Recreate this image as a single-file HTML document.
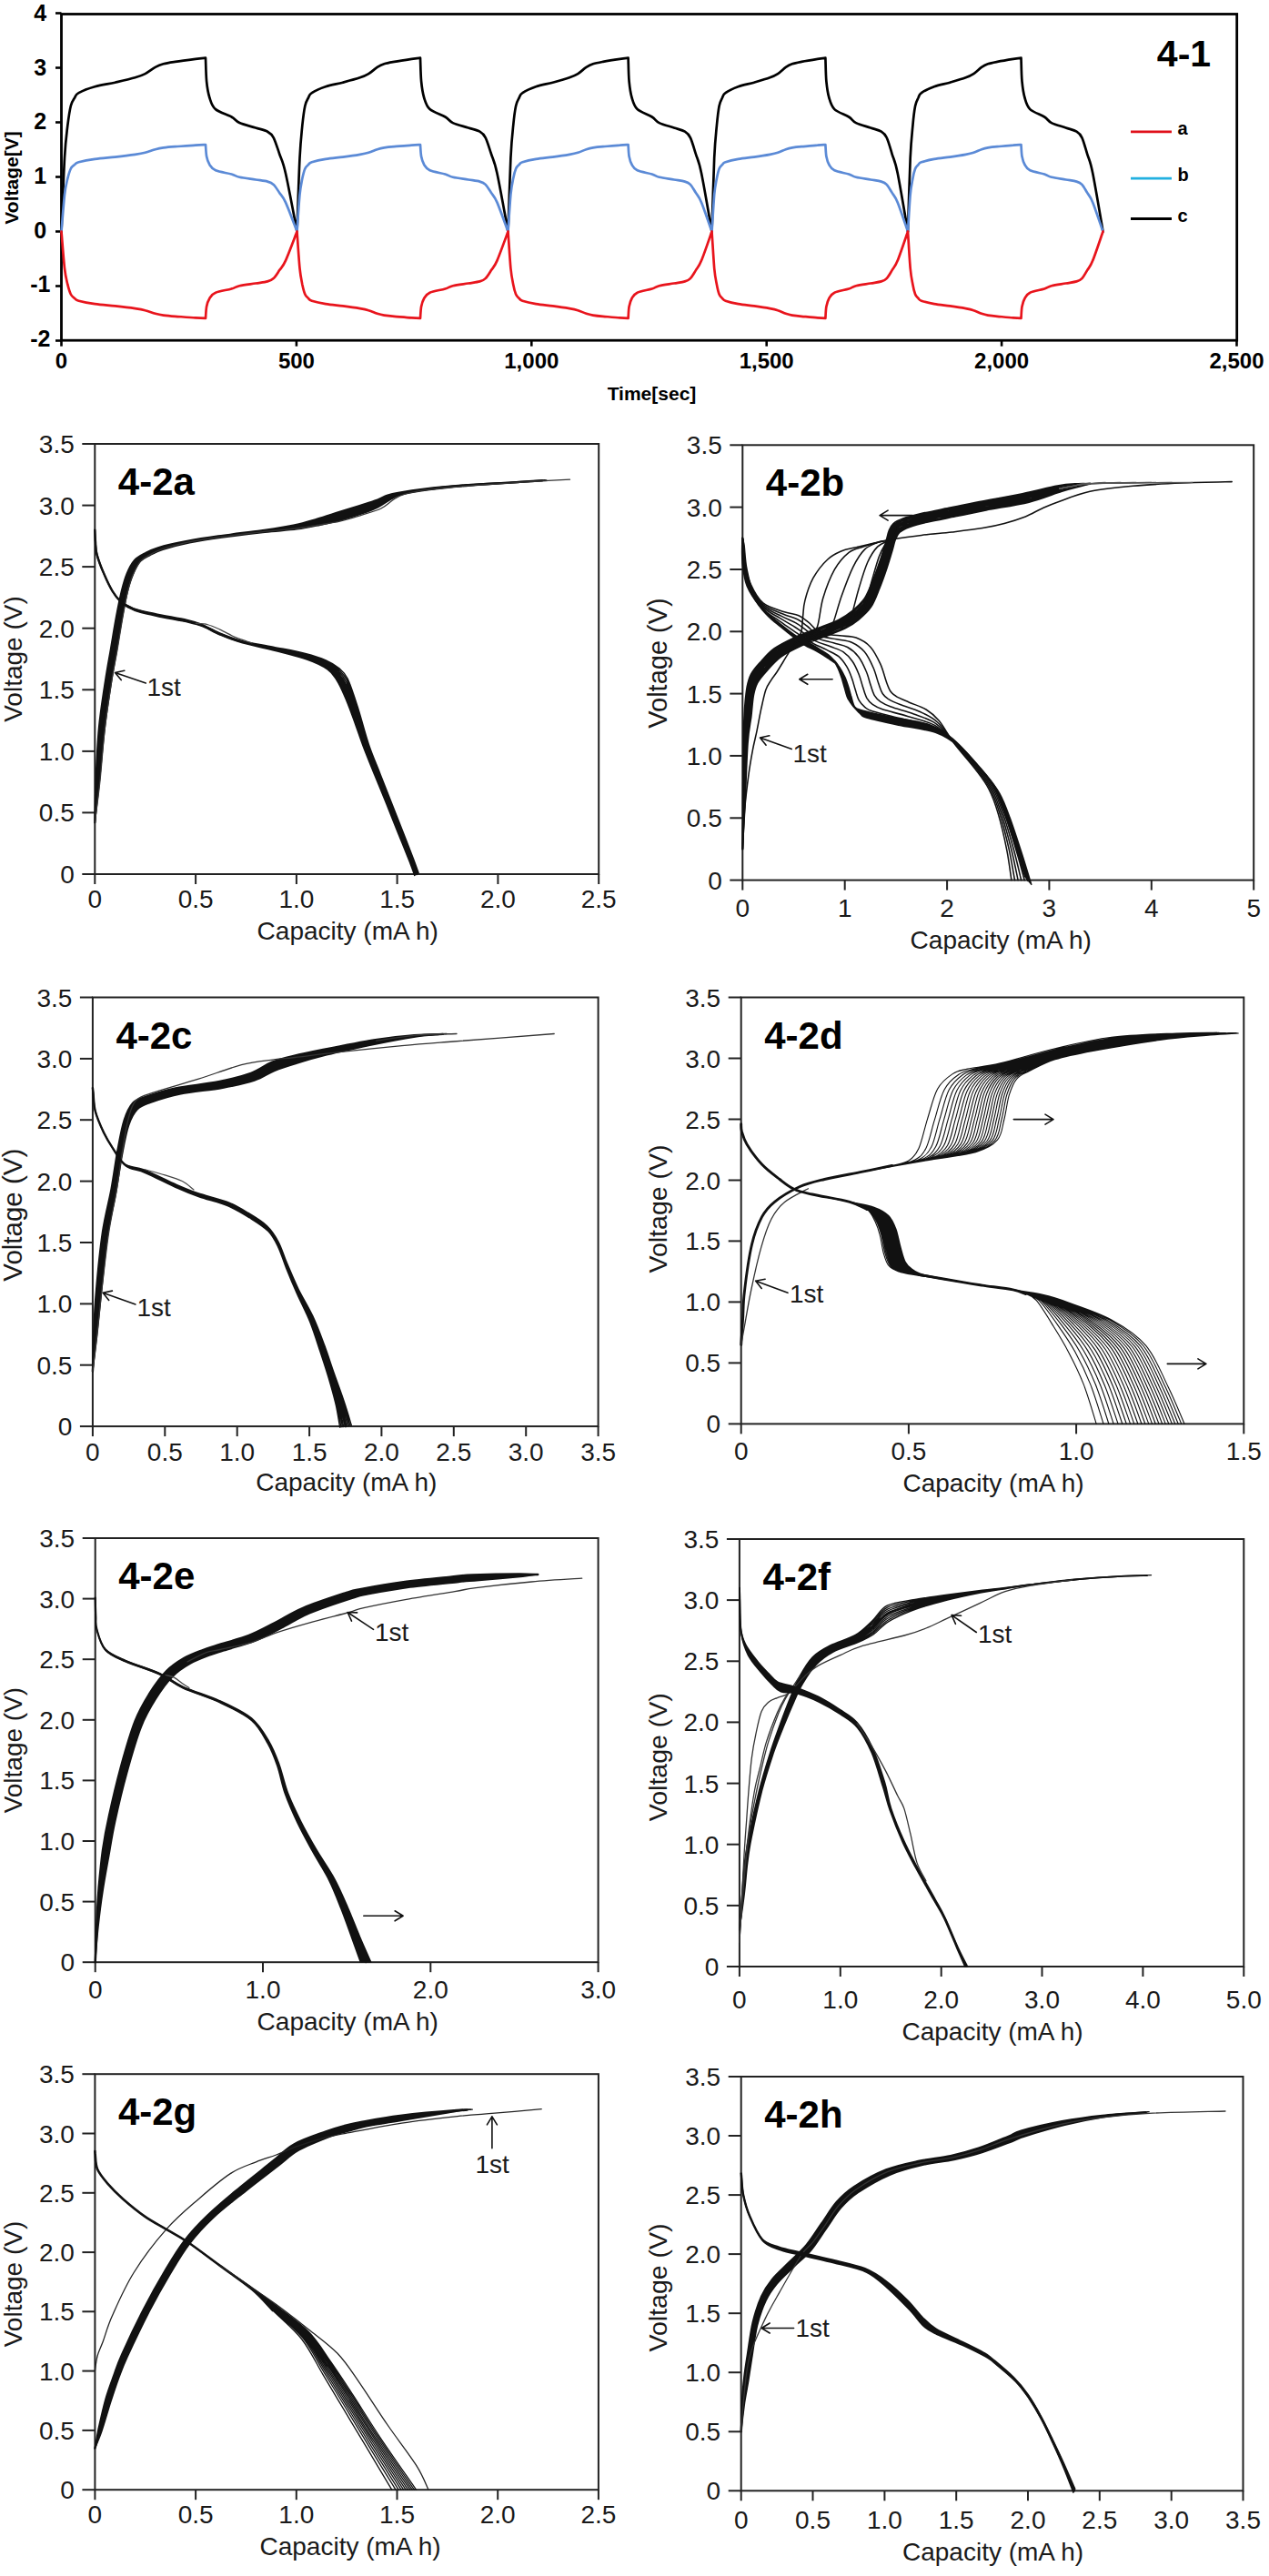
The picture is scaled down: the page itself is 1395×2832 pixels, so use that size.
<!DOCTYPE html>
<html><head><meta charset="utf-8"><style>html,body{margin:0;padding:0;background:#fff;}svg{display:block;}</style></head>
<body><svg width="1395" height="2832" viewBox="0 0 1395 2832">
<rect width="1395" height="2832" fill="#fff"/>
<rect x="67.5" y="15.5" width="1292.2" height="358.7" fill="none" stroke="#000" stroke-width="2.8"/>
<line x1="61.0" y1="374.5" x2="67.5" y2="374.5" stroke="#000" stroke-width="2.6"/>
<text x="44.3" y="380.8" text-anchor="middle" font-family="Liberation Sans, sans-serif" font-weight="bold" font-size="25" fill="#000">-2</text>
<line x1="61.0" y1="314.5" x2="67.5" y2="314.5" stroke="#000" stroke-width="2.6"/>
<text x="44.3" y="321.2" text-anchor="middle" font-family="Liberation Sans, sans-serif" font-weight="bold" font-size="25" fill="#000">-1</text>
<line x1="61.0" y1="254.5" x2="67.5" y2="254.5" stroke="#000" stroke-width="2.6"/>
<text x="44.3" y="261.6" text-anchor="middle" font-family="Liberation Sans, sans-serif" font-weight="bold" font-size="25" fill="#000">0</text>
<line x1="61.0" y1="194.5" x2="67.5" y2="194.5" stroke="#000" stroke-width="2.6"/>
<text x="44.3" y="202.0" text-anchor="middle" font-family="Liberation Sans, sans-serif" font-weight="bold" font-size="25" fill="#000">1</text>
<line x1="61.0" y1="134.5" x2="67.5" y2="134.5" stroke="#000" stroke-width="2.6"/>
<text x="44.3" y="142.4" text-anchor="middle" font-family="Liberation Sans, sans-serif" font-weight="bold" font-size="25" fill="#000">2</text>
<line x1="61.0" y1="74.5" x2="67.5" y2="74.5" stroke="#000" stroke-width="2.6"/>
<text x="44.3" y="82.8" text-anchor="middle" font-family="Liberation Sans, sans-serif" font-weight="bold" font-size="25" fill="#000">3</text>
<line x1="61.0" y1="14.5" x2="67.5" y2="14.5" stroke="#000" stroke-width="2.6"/>
<text x="44.3" y="23.2" text-anchor="middle" font-family="Liberation Sans, sans-serif" font-weight="bold" font-size="25" fill="#000">4</text>
<line x1="67.5" y1="374.2" x2="67.5" y2="380.7" stroke="#000" stroke-width="2.6"/>
<text x="67.5" y="405.2" text-anchor="middle" font-family="Liberation Sans, sans-serif" font-weight="bold" font-size="24" fill="#000">0</text>
<line x1="325.9" y1="374.2" x2="325.9" y2="380.7" stroke="#000" stroke-width="2.6"/>
<text x="325.9" y="405.2" text-anchor="middle" font-family="Liberation Sans, sans-serif" font-weight="bold" font-size="24" fill="#000">500</text>
<line x1="584.3" y1="374.2" x2="584.3" y2="380.7" stroke="#000" stroke-width="2.6"/>
<text x="584.3" y="405.2" text-anchor="middle" font-family="Liberation Sans, sans-serif" font-weight="bold" font-size="24" fill="#000">1,000</text>
<line x1="842.7" y1="374.2" x2="842.7" y2="380.7" stroke="#000" stroke-width="2.6"/>
<text x="842.7" y="405.2" text-anchor="middle" font-family="Liberation Sans, sans-serif" font-weight="bold" font-size="24" fill="#000">1,500</text>
<line x1="1101.1" y1="374.2" x2="1101.1" y2="380.7" stroke="#000" stroke-width="2.6"/>
<text x="1101.1" y="405.2" text-anchor="middle" font-family="Liberation Sans, sans-serif" font-weight="bold" font-size="24" fill="#000">2,000</text>
<line x1="1359.5" y1="374.2" x2="1359.5" y2="380.7" stroke="#000" stroke-width="2.6"/>
<text x="1359.5" y="405.2" text-anchor="middle" font-family="Liberation Sans, sans-serif" font-weight="bold" font-size="24" fill="#000">2,500</text>
<text x="716.5" y="440" text-anchor="middle" font-family="Liberation Sans, sans-serif" font-weight="bold" font-size="21" fill="#000">Time[sec]</text>
<text transform="translate(19.5,195.5) rotate(-90)" text-anchor="middle" font-family="Liberation Sans, sans-serif" font-weight="bold" font-size="21" fill="#000">Voltage[V]</text>
<text x="1301.5" y="72.8" text-anchor="middle" font-family="Liberation Sans, sans-serif" font-weight="bold" font-size="41" fill="#000">4-1</text>
<line x1="1243" y1="144.8" x2="1288" y2="144.8" stroke="#e0101a" stroke-width="2.8"/>
<text x="1294.5" y="147.8" font-family="Liberation Sans, sans-serif" font-weight="bold" font-size="20" fill="#000">a</text>
<line x1="1243" y1="196.2" x2="1288" y2="196.2" stroke="#22b0e0" stroke-width="2.8"/>
<text x="1294.5" y="199.2" font-family="Liberation Sans, sans-serif" font-weight="bold" font-size="20" fill="#000">b</text>
<line x1="1243" y1="240.5" x2="1288" y2="240.5" stroke="#000" stroke-width="2.8"/>
<text x="1294.5" y="243.5" font-family="Liberation Sans, sans-serif" font-weight="bold" font-size="20" fill="#000">c</text>
<path d="M67.5,254.5C68.1,241.0 69.9,192.9 71.0,173.5C72.1,154.1 73.2,147.6 74.3,138.1C75.5,128.6 76.5,121.6 77.8,116.5C79.1,111.4 80.6,109.9 82.1,107.5C83.5,105.1 82.8,104.1 86.5,102.1C90.2,100.0 97.6,97.1 104.3,95.2C110.9,93.3 119.1,92.3 126.5,90.7C133.8,89.0 143.0,86.9 148.5,85.3C154.0,83.7 155.9,83.0 159.6,81.1C163.3,79.2 167.4,75.7 170.7,73.9C174.0,72.1 175.9,71.3 179.6,70.3C183.2,69.3 186.8,68.8 192.7,67.9C198.6,67.0 209.4,65.6 214.9,64.9C220.5,64.2 224.2,63.9 226.0,63.7 M226.0,63.7C226.2,68.0 226.4,82.2 227.1,89.5C227.8,96.8 228.8,102.4 230.4,107.5C232.1,112.6 232.9,116.6 237.0,120.1C241.0,123.6 250.2,126.0 254.5,128.5C258.9,131.0 258.9,133.1 263.3,135.1C267.7,137.1 275.8,138.9 281.0,140.5C286.1,142.1 290.9,142.9 294.1,144.7C297.4,146.5 298.5,147.2 300.7,151.3C302.8,155.4 305.0,162.8 307.2,169.3C309.4,175.8 310.7,176.1 313.9,190.3C317.2,204.5 324.4,243.8 326.5,254.5 M326.5,254.5C327.0,241.0 328.5,192.9 329.5,173.5C330.5,154.1 331.4,147.6 332.3,138.1C333.3,128.6 334.2,121.6 335.3,116.5C336.4,111.4 337.7,109.9 339.0,107.5C340.2,105.1 339.6,104.1 342.8,102.1C345.9,100.0 352.2,97.1 357.9,95.2C363.6,93.3 370.6,92.3 376.9,90.7C383.2,89.0 391.0,86.9 395.7,85.3C400.5,83.7 402.1,83.0 405.2,81.1C408.4,79.2 411.9,75.7 414.7,73.9C417.6,72.1 419.2,71.3 422.3,70.3C425.4,69.3 428.5,68.8 433.5,67.9C438.6,67.0 447.8,65.6 452.5,64.9C457.3,64.2 460.4,63.9 462.0,63.7 M462.0,63.7C462.2,68.0 462.4,82.2 463.1,89.5C463.8,96.8 464.7,102.4 466.2,107.5C467.8,112.6 468.7,116.6 472.5,120.1C476.4,123.6 485.2,126.0 489.4,128.5C493.6,131.0 493.6,133.1 497.8,135.1C502.0,137.1 509.8,138.9 514.8,140.5C519.7,142.1 524.3,142.9 527.4,144.7C530.6,146.5 531.6,147.2 533.7,151.3C535.8,155.4 537.8,162.8 540.0,169.3C542.1,175.8 543.3,176.1 546.4,190.3C549.5,204.5 556.5,243.8 558.5,254.5 M558.5,254.5C559.0,241.0 560.5,192.9 561.4,173.5C562.4,154.1 563.2,147.6 564.2,138.1C565.1,128.6 566.0,121.6 567.1,116.5C568.2,111.4 569.4,109.9 570.7,107.5C571.9,105.1 571.3,104.1 574.4,102.1C577.4,100.0 583.6,97.1 589.1,95.2C594.7,93.3 601.5,92.3 607.6,90.7C613.8,89.0 621.4,86.9 626.0,85.3C630.6,83.7 632.2,83.0 635.3,81.1C638.3,79.2 641.7,75.7 644.5,73.9C647.3,72.1 648.8,71.3 651.9,70.3C655.0,69.3 657.9,68.8 662.9,67.9C667.8,67.0 676.7,65.6 681.4,64.9C686.0,64.2 689.1,63.9 690.6,63.7 M690.6,63.7C690.8,68.0 690.9,82.2 691.6,89.5C692.3,96.8 693.1,102.4 694.6,107.5C696.1,112.6 696.9,116.6 700.6,120.1C704.3,123.6 712.7,126.0 716.7,128.5C720.7,131.0 720.7,133.1 724.7,135.1C728.7,137.1 736.2,138.9 740.9,140.5C745.6,142.1 749.9,142.9 752.9,144.7C755.9,146.5 756.9,147.2 758.9,151.3C760.9,155.4 762.8,162.8 764.9,169.3C766.9,175.8 768.1,176.1 771.0,190.3C774.0,204.5 780.6,243.8 782.5,254.5 M782.5,254.5C783.0,241.0 784.4,192.9 785.2,173.5C786.1,154.1 787.0,147.6 787.9,138.1C788.8,128.6 789.6,121.6 790.6,116.5C791.6,111.4 792.8,109.9 794.0,107.5C795.1,105.1 794.6,104.1 797.5,102.1C800.4,100.0 806.2,97.1 811.5,95.2C816.7,93.3 823.2,92.3 829.0,90.7C834.8,89.0 842.0,86.9 846.3,85.3C850.7,83.7 852.2,83.0 855.1,81.1C858.0,79.2 861.2,75.7 863.8,73.9C866.4,72.1 867.9,71.3 870.8,70.3C873.7,69.3 876.5,68.8 881.2,67.9C885.8,67.0 894.3,65.6 898.7,64.9C903.0,64.2 905.9,63.9 907.4,63.7 M907.4,63.7C907.6,68.0 907.7,82.2 908.4,89.5C909.1,96.8 909.9,102.4 911.4,107.5C912.9,112.6 913.7,116.6 917.3,120.1C920.9,123.6 929.2,126.0 933.1,128.5C937.1,131.0 937.0,133.1 941.0,135.1C945.0,137.1 952.3,138.9 957.0,140.5C961.6,142.1 965.9,142.9 968.8,144.7C971.8,146.5 972.8,147.2 974.7,151.3C976.7,155.4 978.6,162.8 980.6,169.3C982.6,175.8 983.8,176.1 986.7,190.3C989.6,204.5 996.1,243.8 998.0,254.5 M998.0,254.5C998.5,241.0 999.8,192.9 1000.7,173.5C1001.6,154.1 1002.5,147.6 1003.4,138.1C1004.2,128.6 1005.1,121.6 1006.1,116.5C1007.1,111.4 1008.3,109.9 1009.5,107.5C1010.6,105.1 1010.0,104.1 1012.9,102.1C1015.8,100.0 1021.7,97.1 1026.9,95.2C1032.1,93.3 1038.5,92.3 1044.3,90.7C1050.1,89.0 1057.3,86.9 1061.6,85.3C1066.0,83.7 1067.4,83.0 1070.3,81.1C1073.2,79.2 1076.4,75.7 1079.0,73.9C1081.7,72.1 1083.1,71.3 1086.0,70.3C1088.9,69.3 1091.7,68.8 1096.4,67.9C1101.0,67.0 1109.4,65.6 1113.8,64.9C1118.1,64.2 1121.0,63.9 1122.5,63.7 M1122.5,63.7C1122.7,68.0 1122.8,82.2 1123.5,89.5C1124.2,96.8 1125.0,102.4 1126.5,107.5C1127.9,112.6 1128.7,116.6 1132.3,120.1C1135.9,123.6 1144.1,126.0 1148.1,128.5C1152.0,131.0 1151.9,133.1 1155.9,135.1C1159.8,137.1 1167.1,138.9 1171.7,140.5C1176.3,142.1 1180.6,142.9 1183.5,144.7C1186.5,146.5 1187.4,147.2 1189.4,151.3C1191.3,155.4 1193.2,162.8 1195.2,169.3C1197.2,175.8 1198.4,176.1 1201.2,190.3C1204.1,204.5 1210.6,243.8 1212.5,254.5" fill="none" stroke="#000" stroke-width="2.7" stroke-linejoin="round" stroke-linecap="round"/>
<path d="M67.5,254.5C68.1,247.8 69.9,223.7 71.0,214.0C72.1,204.3 73.2,201.1 74.3,196.3C75.5,191.6 76.5,188.1 77.8,185.5C79.1,182.9 80.6,182.2 82.1,181.0C83.5,179.8 82.8,179.3 86.5,178.3C90.2,177.3 97.6,175.8 104.3,174.9C110.9,173.9 119.1,173.4 126.5,172.6C133.8,171.8 143.0,170.7 148.5,169.9C154.0,169.1 155.9,168.8 159.6,167.8C163.3,166.9 167.4,165.1 170.7,164.2C174.0,163.3 175.9,162.9 179.6,162.4C183.2,161.9 186.8,161.6 192.7,161.2C198.6,160.8 209.4,160.0 214.9,159.7C220.5,159.3 224.2,159.2 226.0,159.1 M226.0,159.1C226.2,161.2 226.4,168.3 227.1,172.0C227.8,175.7 228.8,178.4 230.4,181.0C232.1,183.6 232.9,185.6 237.0,187.3C241.0,189.1 250.2,190.2 254.5,191.5C258.9,192.8 258.9,193.8 263.3,194.8C267.7,195.8 275.8,196.7 281.0,197.5C286.1,198.3 290.9,198.7 294.1,199.6C297.4,200.5 298.5,200.8 300.7,202.9C302.8,205.0 305.0,208.7 307.2,211.9C309.4,215.2 310.7,215.3 313.9,222.4C317.2,229.5 324.4,249.2 326.5,254.5 M326.5,254.5C327.0,247.8 328.5,223.7 329.5,214.0C330.5,204.3 331.4,201.1 332.3,196.3C333.3,191.6 334.2,188.1 335.3,185.5C336.4,182.9 337.7,182.2 339.0,181.0C340.2,179.8 339.6,179.3 342.8,178.3C345.9,177.3 352.2,175.8 357.9,174.9C363.6,173.9 370.6,173.4 376.9,172.6C383.2,171.8 391.0,170.7 395.7,169.9C400.5,169.1 402.1,168.8 405.2,167.8C408.4,166.9 411.9,165.1 414.7,164.2C417.6,163.3 419.2,162.9 422.3,162.4C425.4,161.9 428.5,161.6 433.5,161.2C438.6,160.8 447.8,160.0 452.5,159.7C457.3,159.3 460.4,159.2 462.0,159.1 M462.0,159.1C462.2,161.2 462.4,168.3 463.1,172.0C463.8,175.7 464.7,178.4 466.2,181.0C467.8,183.6 468.7,185.6 472.5,187.3C476.4,189.1 485.2,190.2 489.4,191.5C493.6,192.8 493.6,193.8 497.8,194.8C502.0,195.8 509.8,196.7 514.8,197.5C519.7,198.3 524.3,198.7 527.4,199.6C530.6,200.5 531.6,200.8 533.7,202.9C535.8,205.0 537.8,208.7 540.0,211.9C542.1,215.2 543.3,215.3 546.4,222.4C549.5,229.5 556.5,249.2 558.5,254.5 M558.5,254.5C559.0,247.8 560.5,223.7 561.4,214.0C562.4,204.3 563.2,201.1 564.2,196.3C565.1,191.6 566.0,188.1 567.1,185.5C568.2,182.9 569.4,182.2 570.7,181.0C571.9,179.8 571.3,179.3 574.4,178.3C577.4,177.3 583.6,175.8 589.1,174.9C594.7,173.9 601.5,173.4 607.6,172.6C613.8,171.8 621.4,170.7 626.0,169.9C630.6,169.1 632.2,168.8 635.3,167.8C638.3,166.9 641.7,165.1 644.5,164.2C647.3,163.3 648.8,162.9 651.9,162.4C655.0,161.9 657.9,161.6 662.9,161.2C667.8,160.8 676.7,160.0 681.4,159.7C686.0,159.3 689.1,159.2 690.6,159.1 M690.6,159.1C690.8,161.2 690.9,168.3 691.6,172.0C692.3,175.7 693.1,178.4 694.6,181.0C696.1,183.6 696.9,185.6 700.6,187.3C704.3,189.1 712.7,190.2 716.7,191.5C720.7,192.8 720.7,193.8 724.7,194.8C728.7,195.8 736.2,196.7 740.9,197.5C745.6,198.3 749.9,198.7 752.9,199.6C755.9,200.5 756.9,200.8 758.9,202.9C760.9,205.0 762.8,208.7 764.9,211.9C766.9,215.2 768.1,215.3 771.0,222.4C774.0,229.5 780.6,249.2 782.5,254.5 M782.5,254.5C783.0,247.8 784.4,223.7 785.2,214.0C786.1,204.3 787.0,201.1 787.9,196.3C788.8,191.6 789.6,188.1 790.6,185.5C791.6,182.9 792.8,182.2 794.0,181.0C795.1,179.8 794.6,179.3 797.5,178.3C800.4,177.3 806.2,175.8 811.5,174.9C816.7,173.9 823.2,173.4 829.0,172.6C834.8,171.8 842.0,170.7 846.3,169.9C850.7,169.1 852.2,168.8 855.1,167.8C858.0,166.9 861.2,165.1 863.8,164.2C866.4,163.3 867.9,162.9 870.8,162.4C873.7,161.9 876.5,161.6 881.2,161.2C885.8,160.8 894.3,160.0 898.7,159.7C903.0,159.3 905.9,159.2 907.4,159.1 M907.4,159.1C907.6,161.2 907.7,168.3 908.4,172.0C909.1,175.7 909.9,178.4 911.4,181.0C912.9,183.6 913.7,185.6 917.3,187.3C920.9,189.1 929.2,190.2 933.1,191.5C937.1,192.8 937.0,193.8 941.0,194.8C945.0,195.8 952.3,196.7 957.0,197.5C961.6,198.3 965.9,198.7 968.8,199.6C971.8,200.5 972.8,200.8 974.7,202.9C976.7,205.0 978.6,208.7 980.6,211.9C982.6,215.2 983.8,215.3 986.7,222.4C989.6,229.5 996.1,249.2 998.0,254.5 M998.0,254.5C998.5,247.8 999.8,223.7 1000.7,214.0C1001.6,204.3 1002.5,201.1 1003.4,196.3C1004.2,191.6 1005.1,188.1 1006.1,185.5C1007.1,182.9 1008.3,182.2 1009.5,181.0C1010.6,179.8 1010.0,179.3 1012.9,178.3C1015.8,177.3 1021.7,175.8 1026.9,174.9C1032.1,173.9 1038.5,173.4 1044.3,172.6C1050.1,171.8 1057.3,170.7 1061.6,169.9C1066.0,169.1 1067.4,168.8 1070.3,167.8C1073.2,166.9 1076.4,165.1 1079.0,164.2C1081.7,163.3 1083.1,162.9 1086.0,162.4C1088.9,161.9 1091.7,161.6 1096.4,161.2C1101.0,160.8 1109.4,160.0 1113.8,159.7C1118.1,159.3 1121.0,159.2 1122.5,159.1 M1122.5,159.1C1122.7,161.2 1122.8,168.3 1123.5,172.0C1124.2,175.7 1125.0,178.4 1126.5,181.0C1127.9,183.6 1128.7,185.6 1132.3,187.3C1135.9,189.1 1144.1,190.2 1148.1,191.5C1152.0,192.8 1151.9,193.8 1155.9,194.8C1159.8,195.8 1167.1,196.7 1171.7,197.5C1176.3,198.3 1180.6,198.7 1183.5,199.6C1186.5,200.5 1187.4,200.8 1189.4,202.9C1191.3,205.0 1193.2,208.7 1195.2,211.9C1197.2,215.2 1198.4,215.3 1201.2,222.4C1204.1,229.5 1210.6,249.2 1212.5,254.5" fill="none" stroke="#5b8ad6" stroke-width="2.7" stroke-linejoin="round" stroke-linecap="round"/>
<path d="M67.5,254.5C68.1,261.2 69.9,285.3 71.0,295.0C72.1,304.7 73.2,307.9 74.3,312.7C75.5,317.4 76.5,320.9 77.8,323.5C79.1,326.1 80.6,326.8 82.1,328.0C83.5,329.2 82.8,329.7 86.5,330.7C90.2,331.7 97.6,333.2 104.3,334.1C110.9,335.1 119.1,335.6 126.5,336.4C133.8,337.2 143.0,338.3 148.5,339.1C154.0,339.9 155.9,340.2 159.6,341.2C163.3,342.1 167.4,343.9 170.7,344.8C174.0,345.7 175.9,346.1 179.6,346.6C183.2,347.1 186.8,347.4 192.7,347.8C198.6,348.2 209.4,349.0 214.9,349.3C220.5,349.6 224.2,349.8 226.0,349.9 M226.0,349.9C226.2,347.8 226.4,340.6 227.1,337.0C227.8,333.4 228.8,330.6 230.4,328.0C232.1,325.4 232.9,323.4 237.0,321.7C241.0,319.9 250.2,318.8 254.5,317.5C258.9,316.2 258.9,315.2 263.3,314.2C267.7,313.2 275.8,312.3 281.0,311.5C286.1,310.7 290.9,310.3 294.1,309.4C297.4,308.5 298.5,308.2 300.7,306.1C302.8,304.1 305.0,300.4 307.2,297.1C309.4,293.9 310.7,293.7 313.9,286.6C317.2,279.5 324.4,259.9 326.5,254.5 M326.5,254.5C327.0,261.2 328.5,285.3 329.5,295.0C330.5,304.7 331.4,307.9 332.3,312.7C333.3,317.4 334.2,320.9 335.3,323.5C336.4,326.1 337.7,326.8 339.0,328.0C340.2,329.2 339.6,329.7 342.8,330.7C345.9,331.7 352.2,333.2 357.9,334.1C363.6,335.1 370.6,335.6 376.9,336.4C383.2,337.2 391.0,338.3 395.7,339.1C400.5,339.9 402.1,340.2 405.2,341.2C408.4,342.1 411.9,343.9 414.7,344.8C417.6,345.7 419.2,346.1 422.3,346.6C425.4,347.1 428.5,347.4 433.5,347.8C438.6,348.2 447.8,349.0 452.5,349.3C457.3,349.6 460.4,349.8 462.0,349.9 M462.0,349.9C462.2,347.8 462.4,340.6 463.1,337.0C463.8,333.4 464.7,330.6 466.2,328.0C467.8,325.4 468.7,323.4 472.5,321.7C476.4,319.9 485.2,318.8 489.4,317.5C493.6,316.2 493.6,315.2 497.8,314.2C502.0,313.2 509.8,312.3 514.8,311.5C519.7,310.7 524.3,310.3 527.4,309.4C530.6,308.5 531.6,308.2 533.7,306.1C535.8,304.1 537.8,300.4 540.0,297.1C542.1,293.9 543.3,293.7 546.4,286.6C549.5,279.5 556.5,259.9 558.5,254.5 M558.5,254.5C559.0,261.2 560.5,285.3 561.4,295.0C562.4,304.7 563.2,307.9 564.2,312.7C565.1,317.4 566.0,320.9 567.1,323.5C568.2,326.1 569.4,326.8 570.7,328.0C571.9,329.2 571.3,329.7 574.4,330.7C577.4,331.7 583.6,333.2 589.1,334.1C594.7,335.1 601.5,335.6 607.6,336.4C613.8,337.2 621.4,338.3 626.0,339.1C630.6,339.9 632.2,340.2 635.3,341.2C638.3,342.1 641.7,343.9 644.5,344.8C647.3,345.7 648.8,346.1 651.9,346.6C655.0,347.1 657.9,347.4 662.9,347.8C667.8,348.2 676.7,349.0 681.4,349.3C686.0,349.6 689.1,349.8 690.6,349.9 M690.6,349.9C690.8,347.8 690.9,340.6 691.6,337.0C692.3,333.4 693.1,330.6 694.6,328.0C696.1,325.4 696.9,323.4 700.6,321.7C704.3,319.9 712.7,318.8 716.7,317.5C720.7,316.2 720.7,315.2 724.7,314.2C728.7,313.2 736.2,312.3 740.9,311.5C745.6,310.7 749.9,310.3 752.9,309.4C755.9,308.5 756.9,308.2 758.9,306.1C760.9,304.1 762.8,300.4 764.9,297.1C766.9,293.9 768.1,293.7 771.0,286.6C774.0,279.5 780.6,259.9 782.5,254.5 M782.5,254.5C783.0,261.2 784.4,285.3 785.2,295.0C786.1,304.7 787.0,307.9 787.9,312.7C788.8,317.4 789.6,320.9 790.6,323.5C791.6,326.1 792.8,326.8 794.0,328.0C795.1,329.2 794.6,329.7 797.5,330.7C800.4,331.7 806.2,333.2 811.5,334.1C816.7,335.1 823.2,335.6 829.0,336.4C834.8,337.2 842.0,338.3 846.3,339.1C850.7,339.9 852.2,340.2 855.1,341.2C858.0,342.1 861.2,343.9 863.8,344.8C866.4,345.7 867.9,346.1 870.8,346.6C873.7,347.1 876.5,347.4 881.2,347.8C885.8,348.2 894.3,349.0 898.7,349.3C903.0,349.6 905.9,349.8 907.4,349.9 M907.4,349.9C907.6,347.8 907.7,340.6 908.4,337.0C909.1,333.4 909.9,330.6 911.4,328.0C912.9,325.4 913.7,323.4 917.3,321.7C920.9,319.9 929.2,318.8 933.1,317.5C937.1,316.2 937.0,315.2 941.0,314.2C945.0,313.2 952.3,312.3 957.0,311.5C961.6,310.7 965.9,310.3 968.8,309.4C971.8,308.5 972.8,308.2 974.7,306.1C976.7,304.1 978.6,300.4 980.6,297.1C982.6,293.9 983.8,293.7 986.7,286.6C989.6,279.5 996.1,259.9 998.0,254.5 M998.0,254.5C998.5,261.2 999.8,285.3 1000.7,295.0C1001.6,304.7 1002.5,307.9 1003.4,312.7C1004.2,317.4 1005.1,320.9 1006.1,323.5C1007.1,326.1 1008.3,326.8 1009.5,328.0C1010.6,329.2 1010.0,329.7 1012.9,330.7C1015.8,331.7 1021.7,333.2 1026.9,334.1C1032.1,335.1 1038.5,335.6 1044.3,336.4C1050.1,337.2 1057.3,338.3 1061.6,339.1C1066.0,339.9 1067.4,340.2 1070.3,341.2C1073.2,342.1 1076.4,343.9 1079.0,344.8C1081.7,345.7 1083.1,346.1 1086.0,346.6C1088.9,347.1 1091.7,347.4 1096.4,347.8C1101.0,348.2 1109.4,349.0 1113.8,349.3C1118.1,349.6 1121.0,349.8 1122.5,349.9 M1122.5,349.9C1122.7,347.8 1122.8,340.6 1123.5,337.0C1124.2,333.4 1125.0,330.6 1126.5,328.0C1127.9,325.4 1128.7,323.4 1132.3,321.7C1135.9,319.9 1144.1,318.8 1148.1,317.5C1152.0,316.2 1151.9,315.2 1155.9,314.2C1159.8,313.2 1167.1,312.3 1171.7,311.5C1176.3,310.7 1180.6,310.3 1183.5,309.4C1186.5,308.5 1187.4,308.2 1189.4,306.1C1191.3,304.1 1193.2,300.4 1195.2,297.1C1197.2,293.9 1198.4,293.7 1201.2,286.6C1204.1,279.5 1210.6,259.9 1212.5,254.5" fill="none" stroke="#e8141c" stroke-width="2.7" stroke-linejoin="round" stroke-linecap="round"/>
<rect x="104.3" y="488.0" width="553.9" height="473.0" fill="none" stroke="#222" stroke-width="2"/>
<line x1="90.3" y1="961.0" x2="104.3" y2="961.0" stroke="#222" stroke-width="2"/>
<text x="81.8" y="971.0" text-anchor="end" font-family="Liberation Sans, sans-serif" font-size="28" fill="#1a1a1a">0</text>
<line x1="90.3" y1="893.4" x2="104.3" y2="893.4" stroke="#222" stroke-width="2"/>
<text x="81.8" y="903.4" text-anchor="end" font-family="Liberation Sans, sans-serif" font-size="28" fill="#1a1a1a">0.5</text>
<line x1="90.3" y1="825.9" x2="104.3" y2="825.9" stroke="#222" stroke-width="2"/>
<text x="81.8" y="835.9" text-anchor="end" font-family="Liberation Sans, sans-serif" font-size="28" fill="#1a1a1a">1.0</text>
<line x1="90.3" y1="758.3" x2="104.3" y2="758.3" stroke="#222" stroke-width="2"/>
<text x="81.8" y="768.3" text-anchor="end" font-family="Liberation Sans, sans-serif" font-size="28" fill="#1a1a1a">1.5</text>
<line x1="90.3" y1="690.7" x2="104.3" y2="690.7" stroke="#222" stroke-width="2"/>
<text x="81.8" y="700.7" text-anchor="end" font-family="Liberation Sans, sans-serif" font-size="28" fill="#1a1a1a">2.0</text>
<line x1="90.3" y1="623.1" x2="104.3" y2="623.1" stroke="#222" stroke-width="2"/>
<text x="81.8" y="633.1" text-anchor="end" font-family="Liberation Sans, sans-serif" font-size="28" fill="#1a1a1a">2.5</text>
<line x1="90.3" y1="555.6" x2="104.3" y2="555.6" stroke="#222" stroke-width="2"/>
<text x="81.8" y="565.6" text-anchor="end" font-family="Liberation Sans, sans-serif" font-size="28" fill="#1a1a1a">3.0</text>
<line x1="90.3" y1="488.0" x2="104.3" y2="488.0" stroke="#222" stroke-width="2"/>
<text x="81.8" y="498.0" text-anchor="end" font-family="Liberation Sans, sans-serif" font-size="28" fill="#1a1a1a">3.5</text>
<line x1="104.3" y1="961.0" x2="104.3" y2="972.0" stroke="#222" stroke-width="2"/>
<text x="104.3" y="998.0" text-anchor="middle" font-family="Liberation Sans, sans-serif" font-size="28" fill="#1a1a1a">0</text>
<line x1="215.1" y1="961.0" x2="215.1" y2="972.0" stroke="#222" stroke-width="2"/>
<text x="215.1" y="998.0" text-anchor="middle" font-family="Liberation Sans, sans-serif" font-size="28" fill="#1a1a1a">0.5</text>
<line x1="325.9" y1="961.0" x2="325.9" y2="972.0" stroke="#222" stroke-width="2"/>
<text x="325.9" y="998.0" text-anchor="middle" font-family="Liberation Sans, sans-serif" font-size="28" fill="#1a1a1a">1.0</text>
<line x1="436.6" y1="961.0" x2="436.6" y2="972.0" stroke="#222" stroke-width="2"/>
<text x="436.6" y="998.0" text-anchor="middle" font-family="Liberation Sans, sans-serif" font-size="28" fill="#1a1a1a">1.5</text>
<line x1="547.4" y1="961.0" x2="547.4" y2="972.0" stroke="#222" stroke-width="2"/>
<text x="547.4" y="998.0" text-anchor="middle" font-family="Liberation Sans, sans-serif" font-size="28" fill="#1a1a1a">2.0</text>
<line x1="658.2" y1="961.0" x2="658.2" y2="972.0" stroke="#222" stroke-width="2"/>
<text x="658.2" y="998.0" text-anchor="middle" font-family="Liberation Sans, sans-serif" font-size="28" fill="#1a1a1a">2.5</text>
<text x="382.2" y="1032.5" text-anchor="middle" font-family="Liberation Sans, sans-serif" font-size="28" fill="#1a1a1a">Capacity (mA h)</text>
<text transform="translate(23.6,724.5) rotate(-90)" text-anchor="middle" font-family="Liberation Sans, sans-serif" font-size="28" fill="#1a1a1a">Voltage (V)</text>
<text x="129.8" y="544.0" font-family="Liberation Sans, sans-serif" font-weight="bold" font-size="42" fill="#000">4-2a</text>
<rect x="816.3" y="489.3" width="561.9" height="478.3" fill="none" stroke="#222" stroke-width="2"/>
<line x1="802.3" y1="967.6" x2="816.3" y2="967.6" stroke="#222" stroke-width="2"/>
<text x="793.8" y="977.6" text-anchor="end" font-family="Liberation Sans, sans-serif" font-size="28" fill="#1a1a1a">0</text>
<line x1="802.3" y1="899.3" x2="816.3" y2="899.3" stroke="#222" stroke-width="2"/>
<text x="793.8" y="909.3" text-anchor="end" font-family="Liberation Sans, sans-serif" font-size="28" fill="#1a1a1a">0.5</text>
<line x1="802.3" y1="830.9" x2="816.3" y2="830.9" stroke="#222" stroke-width="2"/>
<text x="793.8" y="840.9" text-anchor="end" font-family="Liberation Sans, sans-serif" font-size="28" fill="#1a1a1a">1.0</text>
<line x1="802.3" y1="762.6" x2="816.3" y2="762.6" stroke="#222" stroke-width="2"/>
<text x="793.8" y="772.6" text-anchor="end" font-family="Liberation Sans, sans-serif" font-size="28" fill="#1a1a1a">1.5</text>
<line x1="802.3" y1="694.3" x2="816.3" y2="694.3" stroke="#222" stroke-width="2"/>
<text x="793.8" y="704.3" text-anchor="end" font-family="Liberation Sans, sans-serif" font-size="28" fill="#1a1a1a">2.0</text>
<line x1="802.3" y1="626.0" x2="816.3" y2="626.0" stroke="#222" stroke-width="2"/>
<text x="793.8" y="636.0" text-anchor="end" font-family="Liberation Sans, sans-serif" font-size="28" fill="#1a1a1a">2.5</text>
<line x1="802.3" y1="557.6" x2="816.3" y2="557.6" stroke="#222" stroke-width="2"/>
<text x="793.8" y="567.6" text-anchor="end" font-family="Liberation Sans, sans-serif" font-size="28" fill="#1a1a1a">3.0</text>
<line x1="802.3" y1="489.3" x2="816.3" y2="489.3" stroke="#222" stroke-width="2"/>
<text x="793.8" y="499.3" text-anchor="end" font-family="Liberation Sans, sans-serif" font-size="28" fill="#1a1a1a">3.5</text>
<line x1="816.3" y1="967.6" x2="816.3" y2="978.6" stroke="#222" stroke-width="2"/>
<text x="816.3" y="1008.1" text-anchor="middle" font-family="Liberation Sans, sans-serif" font-size="28" fill="#1a1a1a">0</text>
<line x1="928.7" y1="967.6" x2="928.7" y2="978.6" stroke="#222" stroke-width="2"/>
<text x="928.7" y="1008.1" text-anchor="middle" font-family="Liberation Sans, sans-serif" font-size="28" fill="#1a1a1a">1</text>
<line x1="1041.1" y1="967.6" x2="1041.1" y2="978.6" stroke="#222" stroke-width="2"/>
<text x="1041.1" y="1008.1" text-anchor="middle" font-family="Liberation Sans, sans-serif" font-size="28" fill="#1a1a1a">2</text>
<line x1="1153.4" y1="967.6" x2="1153.4" y2="978.6" stroke="#222" stroke-width="2"/>
<text x="1153.4" y="1008.1" text-anchor="middle" font-family="Liberation Sans, sans-serif" font-size="28" fill="#1a1a1a">3</text>
<line x1="1265.8" y1="967.6" x2="1265.8" y2="978.6" stroke="#222" stroke-width="2"/>
<text x="1265.8" y="1008.1" text-anchor="middle" font-family="Liberation Sans, sans-serif" font-size="28" fill="#1a1a1a">4</text>
<line x1="1378.2" y1="967.6" x2="1378.2" y2="978.6" stroke="#222" stroke-width="2"/>
<text x="1378.2" y="1008.1" text-anchor="middle" font-family="Liberation Sans, sans-serif" font-size="28" fill="#1a1a1a">5</text>
<text x="1100.2" y="1042.6" text-anchor="middle" font-family="Liberation Sans, sans-serif" font-size="28" fill="#1a1a1a">Capacity (mA h)</text>
<text transform="translate(733.0,729.0) rotate(-90)" text-anchor="middle" font-family="Liberation Sans, sans-serif" font-size="29" fill="#1a1a1a">Voltage (V)</text>
<text x="841.8" y="545.3" font-family="Liberation Sans, sans-serif" font-weight="bold" font-size="42" fill="#000">4-2b</text>
<rect x="101.9" y="1096.5" width="555.7" height="471.6" fill="none" stroke="#222" stroke-width="2"/>
<line x1="87.9" y1="1568.1" x2="101.9" y2="1568.1" stroke="#222" stroke-width="2"/>
<text x="79.4" y="1578.1" text-anchor="end" font-family="Liberation Sans, sans-serif" font-size="28" fill="#1a1a1a">0</text>
<line x1="87.9" y1="1500.7" x2="101.9" y2="1500.7" stroke="#222" stroke-width="2"/>
<text x="79.4" y="1510.7" text-anchor="end" font-family="Liberation Sans, sans-serif" font-size="28" fill="#1a1a1a">0.5</text>
<line x1="87.9" y1="1433.4" x2="101.9" y2="1433.4" stroke="#222" stroke-width="2"/>
<text x="79.4" y="1443.4" text-anchor="end" font-family="Liberation Sans, sans-serif" font-size="28" fill="#1a1a1a">1.0</text>
<line x1="87.9" y1="1366.0" x2="101.9" y2="1366.0" stroke="#222" stroke-width="2"/>
<text x="79.4" y="1376.0" text-anchor="end" font-family="Liberation Sans, sans-serif" font-size="28" fill="#1a1a1a">1.5</text>
<line x1="87.9" y1="1298.6" x2="101.9" y2="1298.6" stroke="#222" stroke-width="2"/>
<text x="79.4" y="1308.6" text-anchor="end" font-family="Liberation Sans, sans-serif" font-size="28" fill="#1a1a1a">2.0</text>
<line x1="87.9" y1="1231.2" x2="101.9" y2="1231.2" stroke="#222" stroke-width="2"/>
<text x="79.4" y="1241.2" text-anchor="end" font-family="Liberation Sans, sans-serif" font-size="28" fill="#1a1a1a">2.5</text>
<line x1="87.9" y1="1163.9" x2="101.9" y2="1163.9" stroke="#222" stroke-width="2"/>
<text x="79.4" y="1173.9" text-anchor="end" font-family="Liberation Sans, sans-serif" font-size="28" fill="#1a1a1a">3.0</text>
<line x1="87.9" y1="1096.5" x2="101.9" y2="1096.5" stroke="#222" stroke-width="2"/>
<text x="79.4" y="1106.5" text-anchor="end" font-family="Liberation Sans, sans-serif" font-size="28" fill="#1a1a1a">3.5</text>
<line x1="101.9" y1="1568.1" x2="101.9" y2="1579.1" stroke="#222" stroke-width="2"/>
<text x="101.9" y="1606.1" text-anchor="middle" font-family="Liberation Sans, sans-serif" font-size="28" fill="#1a1a1a">0</text>
<line x1="181.3" y1="1568.1" x2="181.3" y2="1579.1" stroke="#222" stroke-width="2"/>
<text x="181.3" y="1606.1" text-anchor="middle" font-family="Liberation Sans, sans-serif" font-size="28" fill="#1a1a1a">0.5</text>
<line x1="260.7" y1="1568.1" x2="260.7" y2="1579.1" stroke="#222" stroke-width="2"/>
<text x="260.7" y="1606.1" text-anchor="middle" font-family="Liberation Sans, sans-serif" font-size="28" fill="#1a1a1a">1.0</text>
<line x1="340.1" y1="1568.1" x2="340.1" y2="1579.1" stroke="#222" stroke-width="2"/>
<text x="340.1" y="1606.1" text-anchor="middle" font-family="Liberation Sans, sans-serif" font-size="28" fill="#1a1a1a">1.5</text>
<line x1="419.4" y1="1568.1" x2="419.4" y2="1579.1" stroke="#222" stroke-width="2"/>
<text x="419.4" y="1606.1" text-anchor="middle" font-family="Liberation Sans, sans-serif" font-size="28" fill="#1a1a1a">2.0</text>
<line x1="498.8" y1="1568.1" x2="498.8" y2="1579.1" stroke="#222" stroke-width="2"/>
<text x="498.8" y="1606.1" text-anchor="middle" font-family="Liberation Sans, sans-serif" font-size="28" fill="#1a1a1a">2.5</text>
<line x1="578.2" y1="1568.1" x2="578.2" y2="1579.1" stroke="#222" stroke-width="2"/>
<text x="578.2" y="1606.1" text-anchor="middle" font-family="Liberation Sans, sans-serif" font-size="28" fill="#1a1a1a">3.0</text>
<line x1="657.6" y1="1568.1" x2="657.6" y2="1579.1" stroke="#222" stroke-width="2"/>
<text x="657.6" y="1606.1" text-anchor="middle" font-family="Liberation Sans, sans-serif" font-size="28" fill="#1a1a1a">3.5</text>
<text x="380.8" y="1639.1" text-anchor="middle" font-family="Liberation Sans, sans-serif" font-size="28" fill="#1a1a1a">Capacity (mA h)</text>
<text transform="translate(23.6,1335.7) rotate(-90)" text-anchor="middle" font-family="Liberation Sans, sans-serif" font-size="29.5" fill="#1a1a1a">Voltage (V)</text>
<text x="127.4" y="1152.5" font-family="Liberation Sans, sans-serif" font-weight="bold" font-size="42" fill="#000">4-2c</text>
<rect x="814.7" y="1096.5" width="552.6" height="468.9" fill="none" stroke="#222" stroke-width="2"/>
<line x1="800.7" y1="1565.4" x2="814.7" y2="1565.4" stroke="#222" stroke-width="2"/>
<text x="792.2" y="1575.4" text-anchor="end" font-family="Liberation Sans, sans-serif" font-size="28" fill="#1a1a1a">0</text>
<line x1="800.7" y1="1498.4" x2="814.7" y2="1498.4" stroke="#222" stroke-width="2"/>
<text x="792.2" y="1508.4" text-anchor="end" font-family="Liberation Sans, sans-serif" font-size="28" fill="#1a1a1a">0.5</text>
<line x1="800.7" y1="1431.4" x2="814.7" y2="1431.4" stroke="#222" stroke-width="2"/>
<text x="792.2" y="1441.4" text-anchor="end" font-family="Liberation Sans, sans-serif" font-size="28" fill="#1a1a1a">1.0</text>
<line x1="800.7" y1="1364.4" x2="814.7" y2="1364.4" stroke="#222" stroke-width="2"/>
<text x="792.2" y="1374.4" text-anchor="end" font-family="Liberation Sans, sans-serif" font-size="28" fill="#1a1a1a">1.5</text>
<line x1="800.7" y1="1297.5" x2="814.7" y2="1297.5" stroke="#222" stroke-width="2"/>
<text x="792.2" y="1307.5" text-anchor="end" font-family="Liberation Sans, sans-serif" font-size="28" fill="#1a1a1a">2.0</text>
<line x1="800.7" y1="1230.5" x2="814.7" y2="1230.5" stroke="#222" stroke-width="2"/>
<text x="792.2" y="1240.5" text-anchor="end" font-family="Liberation Sans, sans-serif" font-size="28" fill="#1a1a1a">2.5</text>
<line x1="800.7" y1="1163.5" x2="814.7" y2="1163.5" stroke="#222" stroke-width="2"/>
<text x="792.2" y="1173.5" text-anchor="end" font-family="Liberation Sans, sans-serif" font-size="28" fill="#1a1a1a">3.0</text>
<line x1="800.7" y1="1096.5" x2="814.7" y2="1096.5" stroke="#222" stroke-width="2"/>
<text x="792.2" y="1106.5" text-anchor="end" font-family="Liberation Sans, sans-serif" font-size="28" fill="#1a1a1a">3.5</text>
<line x1="814.7" y1="1565.4" x2="814.7" y2="1576.4" stroke="#222" stroke-width="2"/>
<text x="814.7" y="1605.4" text-anchor="middle" font-family="Liberation Sans, sans-serif" font-size="28" fill="#1a1a1a">0</text>
<line x1="998.9" y1="1565.4" x2="998.9" y2="1576.4" stroke="#222" stroke-width="2"/>
<text x="998.9" y="1605.4" text-anchor="middle" font-family="Liberation Sans, sans-serif" font-size="28" fill="#1a1a1a">0.5</text>
<line x1="1183.1" y1="1565.4" x2="1183.1" y2="1576.4" stroke="#222" stroke-width="2"/>
<text x="1183.1" y="1605.4" text-anchor="middle" font-family="Liberation Sans, sans-serif" font-size="28" fill="#1a1a1a">1.0</text>
<line x1="1367.3" y1="1565.4" x2="1367.3" y2="1576.4" stroke="#222" stroke-width="2"/>
<text x="1367.3" y="1605.4" text-anchor="middle" font-family="Liberation Sans, sans-serif" font-size="28" fill="#1a1a1a">1.5</text>
<text x="1092.0" y="1639.9" text-anchor="middle" font-family="Liberation Sans, sans-serif" font-size="28" fill="#1a1a1a">Capacity (mA h)</text>
<text transform="translate(733.1,1329.0) rotate(-90)" text-anchor="middle" font-family="Liberation Sans, sans-serif" font-size="28.5" fill="#1a1a1a">Voltage (V)</text>
<text x="840.2" y="1152.5" font-family="Liberation Sans, sans-serif" font-weight="bold" font-size="42" fill="#000">4-2d</text>
<rect x="104.7" y="1691.0" width="552.9" height="466.2" fill="none" stroke="#222" stroke-width="2"/>
<line x1="90.7" y1="2157.2" x2="104.7" y2="2157.2" stroke="#222" stroke-width="2"/>
<text x="82.2" y="2167.2" text-anchor="end" font-family="Liberation Sans, sans-serif" font-size="28" fill="#1a1a1a">0</text>
<line x1="90.7" y1="2090.6" x2="104.7" y2="2090.6" stroke="#222" stroke-width="2"/>
<text x="82.2" y="2100.6" text-anchor="end" font-family="Liberation Sans, sans-serif" font-size="28" fill="#1a1a1a">0.5</text>
<line x1="90.7" y1="2024.0" x2="104.7" y2="2024.0" stroke="#222" stroke-width="2"/>
<text x="82.2" y="2034.0" text-anchor="end" font-family="Liberation Sans, sans-serif" font-size="28" fill="#1a1a1a">1.0</text>
<line x1="90.7" y1="1957.4" x2="104.7" y2="1957.4" stroke="#222" stroke-width="2"/>
<text x="82.2" y="1967.4" text-anchor="end" font-family="Liberation Sans, sans-serif" font-size="28" fill="#1a1a1a">1.5</text>
<line x1="90.7" y1="1890.8" x2="104.7" y2="1890.8" stroke="#222" stroke-width="2"/>
<text x="82.2" y="1900.8" text-anchor="end" font-family="Liberation Sans, sans-serif" font-size="28" fill="#1a1a1a">2.0</text>
<line x1="90.7" y1="1824.2" x2="104.7" y2="1824.2" stroke="#222" stroke-width="2"/>
<text x="82.2" y="1834.2" text-anchor="end" font-family="Liberation Sans, sans-serif" font-size="28" fill="#1a1a1a">2.5</text>
<line x1="90.7" y1="1757.6" x2="104.7" y2="1757.6" stroke="#222" stroke-width="2"/>
<text x="82.2" y="1767.6" text-anchor="end" font-family="Liberation Sans, sans-serif" font-size="28" fill="#1a1a1a">3.0</text>
<line x1="90.7" y1="1691.0" x2="104.7" y2="1691.0" stroke="#222" stroke-width="2"/>
<text x="82.2" y="1701.0" text-anchor="end" font-family="Liberation Sans, sans-serif" font-size="28" fill="#1a1a1a">3.5</text>
<line x1="104.7" y1="2157.2" x2="104.7" y2="2168.2" stroke="#222" stroke-width="2"/>
<text x="104.7" y="2197.2" text-anchor="middle" font-family="Liberation Sans, sans-serif" font-size="28" fill="#1a1a1a">0</text>
<line x1="289.0" y1="2157.2" x2="289.0" y2="2168.2" stroke="#222" stroke-width="2"/>
<text x="289.0" y="2197.2" text-anchor="middle" font-family="Liberation Sans, sans-serif" font-size="28" fill="#1a1a1a">1.0</text>
<line x1="473.3" y1="2157.2" x2="473.3" y2="2168.2" stroke="#222" stroke-width="2"/>
<text x="473.3" y="2197.2" text-anchor="middle" font-family="Liberation Sans, sans-serif" font-size="28" fill="#1a1a1a">2.0</text>
<line x1="657.6" y1="2157.2" x2="657.6" y2="2168.2" stroke="#222" stroke-width="2"/>
<text x="657.6" y="2197.2" text-anchor="middle" font-family="Liberation Sans, sans-serif" font-size="28" fill="#1a1a1a">3.0</text>
<text x="382.2" y="2231.7" text-anchor="middle" font-family="Liberation Sans, sans-serif" font-size="28" fill="#1a1a1a">Capacity (mA h)</text>
<text transform="translate(23.6,1924.1) rotate(-90)" text-anchor="middle" font-family="Liberation Sans, sans-serif" font-size="28" fill="#1a1a1a">Voltage (V)</text>
<text x="130.2" y="1747.0" font-family="Liberation Sans, sans-serif" font-weight="bold" font-size="42" fill="#000">4-2e</text>
<rect x="812.9" y="1692.0" width="554.4" height="470.0" fill="none" stroke="#222" stroke-width="2"/>
<line x1="798.9" y1="2162.0" x2="812.9" y2="2162.0" stroke="#222" stroke-width="2"/>
<text x="790.4" y="2172.0" text-anchor="end" font-family="Liberation Sans, sans-serif" font-size="28" fill="#1a1a1a">0</text>
<line x1="798.9" y1="2094.9" x2="812.9" y2="2094.9" stroke="#222" stroke-width="2"/>
<text x="790.4" y="2104.9" text-anchor="end" font-family="Liberation Sans, sans-serif" font-size="28" fill="#1a1a1a">0.5</text>
<line x1="798.9" y1="2027.7" x2="812.9" y2="2027.7" stroke="#222" stroke-width="2"/>
<text x="790.4" y="2037.7" text-anchor="end" font-family="Liberation Sans, sans-serif" font-size="28" fill="#1a1a1a">1.0</text>
<line x1="798.9" y1="1960.6" x2="812.9" y2="1960.6" stroke="#222" stroke-width="2"/>
<text x="790.4" y="1970.6" text-anchor="end" font-family="Liberation Sans, sans-serif" font-size="28" fill="#1a1a1a">1.5</text>
<line x1="798.9" y1="1893.4" x2="812.9" y2="1893.4" stroke="#222" stroke-width="2"/>
<text x="790.4" y="1903.4" text-anchor="end" font-family="Liberation Sans, sans-serif" font-size="28" fill="#1a1a1a">2.0</text>
<line x1="798.9" y1="1826.3" x2="812.9" y2="1826.3" stroke="#222" stroke-width="2"/>
<text x="790.4" y="1836.3" text-anchor="end" font-family="Liberation Sans, sans-serif" font-size="28" fill="#1a1a1a">2.5</text>
<line x1="798.9" y1="1759.1" x2="812.9" y2="1759.1" stroke="#222" stroke-width="2"/>
<text x="790.4" y="1769.1" text-anchor="end" font-family="Liberation Sans, sans-serif" font-size="28" fill="#1a1a1a">3.0</text>
<line x1="798.9" y1="1692.0" x2="812.9" y2="1692.0" stroke="#222" stroke-width="2"/>
<text x="790.4" y="1702.0" text-anchor="end" font-family="Liberation Sans, sans-serif" font-size="28" fill="#1a1a1a">3.5</text>
<line x1="812.9" y1="2162.0" x2="812.9" y2="2173.0" stroke="#222" stroke-width="2"/>
<text x="812.9" y="2208.0" text-anchor="middle" font-family="Liberation Sans, sans-serif" font-size="28" fill="#1a1a1a">0</text>
<line x1="923.8" y1="2162.0" x2="923.8" y2="2173.0" stroke="#222" stroke-width="2"/>
<text x="923.8" y="2208.0" text-anchor="middle" font-family="Liberation Sans, sans-serif" font-size="28" fill="#1a1a1a">1.0</text>
<line x1="1034.7" y1="2162.0" x2="1034.7" y2="2173.0" stroke="#222" stroke-width="2"/>
<text x="1034.7" y="2208.0" text-anchor="middle" font-family="Liberation Sans, sans-serif" font-size="28" fill="#1a1a1a">2.0</text>
<line x1="1145.5" y1="2162.0" x2="1145.5" y2="2173.0" stroke="#222" stroke-width="2"/>
<text x="1145.5" y="2208.0" text-anchor="middle" font-family="Liberation Sans, sans-serif" font-size="28" fill="#1a1a1a">3.0</text>
<line x1="1256.4" y1="2162.0" x2="1256.4" y2="2173.0" stroke="#222" stroke-width="2"/>
<text x="1256.4" y="2208.0" text-anchor="middle" font-family="Liberation Sans, sans-serif" font-size="28" fill="#1a1a1a">4.0</text>
<line x1="1367.3" y1="2162.0" x2="1367.3" y2="2173.0" stroke="#222" stroke-width="2"/>
<text x="1367.3" y="2208.0" text-anchor="middle" font-family="Liberation Sans, sans-serif" font-size="28" fill="#1a1a1a">5.0</text>
<text x="1091.1" y="2242.5" text-anchor="middle" font-family="Liberation Sans, sans-serif" font-size="28" fill="#1a1a1a">Capacity (mA h)</text>
<text transform="translate(733.1,1931.7) rotate(-90)" text-anchor="middle" font-family="Liberation Sans, sans-serif" font-size="28.5" fill="#1a1a1a">Voltage (V)</text>
<text x="838.4" y="1748.0" font-family="Liberation Sans, sans-serif" font-weight="bold" font-size="42" fill="#000">4-2f</text>
<rect x="104.4" y="2280.2" width="553.5" height="457.0" fill="none" stroke="#222" stroke-width="2"/>
<line x1="90.4" y1="2737.2" x2="104.4" y2="2737.2" stroke="#222" stroke-width="2"/>
<text x="81.9" y="2747.2" text-anchor="end" font-family="Liberation Sans, sans-serif" font-size="28" fill="#1a1a1a">0</text>
<line x1="90.4" y1="2671.9" x2="104.4" y2="2671.9" stroke="#222" stroke-width="2"/>
<text x="81.9" y="2681.9" text-anchor="end" font-family="Liberation Sans, sans-serif" font-size="28" fill="#1a1a1a">0.5</text>
<line x1="90.4" y1="2606.6" x2="104.4" y2="2606.6" stroke="#222" stroke-width="2"/>
<text x="81.9" y="2616.6" text-anchor="end" font-family="Liberation Sans, sans-serif" font-size="28" fill="#1a1a1a">1.0</text>
<line x1="90.4" y1="2541.3" x2="104.4" y2="2541.3" stroke="#222" stroke-width="2"/>
<text x="81.9" y="2551.3" text-anchor="end" font-family="Liberation Sans, sans-serif" font-size="28" fill="#1a1a1a">1.5</text>
<line x1="90.4" y1="2476.1" x2="104.4" y2="2476.1" stroke="#222" stroke-width="2"/>
<text x="81.9" y="2486.1" text-anchor="end" font-family="Liberation Sans, sans-serif" font-size="28" fill="#1a1a1a">2.0</text>
<line x1="90.4" y1="2410.8" x2="104.4" y2="2410.8" stroke="#222" stroke-width="2"/>
<text x="81.9" y="2420.8" text-anchor="end" font-family="Liberation Sans, sans-serif" font-size="28" fill="#1a1a1a">2.5</text>
<line x1="90.4" y1="2345.5" x2="104.4" y2="2345.5" stroke="#222" stroke-width="2"/>
<text x="81.9" y="2355.5" text-anchor="end" font-family="Liberation Sans, sans-serif" font-size="28" fill="#1a1a1a">3.0</text>
<line x1="90.4" y1="2280.2" x2="104.4" y2="2280.2" stroke="#222" stroke-width="2"/>
<text x="81.9" y="2290.2" text-anchor="end" font-family="Liberation Sans, sans-serif" font-size="28" fill="#1a1a1a">3.5</text>
<line x1="104.4" y1="2737.2" x2="104.4" y2="2748.2" stroke="#222" stroke-width="2"/>
<text x="104.4" y="2774.2" text-anchor="middle" font-family="Liberation Sans, sans-serif" font-size="28" fill="#1a1a1a">0</text>
<line x1="215.1" y1="2737.2" x2="215.1" y2="2748.2" stroke="#222" stroke-width="2"/>
<text x="215.1" y="2774.2" text-anchor="middle" font-family="Liberation Sans, sans-serif" font-size="28" fill="#1a1a1a">0.5</text>
<line x1="325.8" y1="2737.2" x2="325.8" y2="2748.2" stroke="#222" stroke-width="2"/>
<text x="325.8" y="2774.2" text-anchor="middle" font-family="Liberation Sans, sans-serif" font-size="28" fill="#1a1a1a">1.0</text>
<line x1="436.5" y1="2737.2" x2="436.5" y2="2748.2" stroke="#222" stroke-width="2"/>
<text x="436.5" y="2774.2" text-anchor="middle" font-family="Liberation Sans, sans-serif" font-size="28" fill="#1a1a1a">1.5</text>
<line x1="547.2" y1="2737.2" x2="547.2" y2="2748.2" stroke="#222" stroke-width="2"/>
<text x="547.2" y="2774.2" text-anchor="middle" font-family="Liberation Sans, sans-serif" font-size="28" fill="#1a1a1a">2.0</text>
<line x1="657.9" y1="2737.2" x2="657.9" y2="2748.2" stroke="#222" stroke-width="2"/>
<text x="657.9" y="2774.2" text-anchor="middle" font-family="Liberation Sans, sans-serif" font-size="28" fill="#1a1a1a">2.5</text>
<text x="385.1" y="2808.7" text-anchor="middle" font-family="Liberation Sans, sans-serif" font-size="28" fill="#1a1a1a">Capacity (mA h)</text>
<text transform="translate(23.6,2511.0) rotate(-90)" text-anchor="middle" font-family="Liberation Sans, sans-serif" font-size="28" fill="#1a1a1a">Voltage (V)</text>
<text x="129.9" y="2336.2" font-family="Liberation Sans, sans-serif" font-weight="bold" font-size="42" fill="#000">4-2g</text>
<rect x="814.7" y="2283.0" width="551.8" height="455.3" fill="none" stroke="#222" stroke-width="2"/>
<line x1="800.7" y1="2738.3" x2="814.7" y2="2738.3" stroke="#222" stroke-width="2"/>
<text x="792.2" y="2748.3" text-anchor="end" font-family="Liberation Sans, sans-serif" font-size="28" fill="#1a1a1a">0</text>
<line x1="800.7" y1="2673.3" x2="814.7" y2="2673.3" stroke="#222" stroke-width="2"/>
<text x="792.2" y="2683.3" text-anchor="end" font-family="Liberation Sans, sans-serif" font-size="28" fill="#1a1a1a">0.5</text>
<line x1="800.7" y1="2608.2" x2="814.7" y2="2608.2" stroke="#222" stroke-width="2"/>
<text x="792.2" y="2618.2" text-anchor="end" font-family="Liberation Sans, sans-serif" font-size="28" fill="#1a1a1a">1.0</text>
<line x1="800.7" y1="2543.2" x2="814.7" y2="2543.2" stroke="#222" stroke-width="2"/>
<text x="792.2" y="2553.2" text-anchor="end" font-family="Liberation Sans, sans-serif" font-size="28" fill="#1a1a1a">1.5</text>
<line x1="800.7" y1="2478.1" x2="814.7" y2="2478.1" stroke="#222" stroke-width="2"/>
<text x="792.2" y="2488.1" text-anchor="end" font-family="Liberation Sans, sans-serif" font-size="28" fill="#1a1a1a">2.0</text>
<line x1="800.7" y1="2413.1" x2="814.7" y2="2413.1" stroke="#222" stroke-width="2"/>
<text x="792.2" y="2423.1" text-anchor="end" font-family="Liberation Sans, sans-serif" font-size="28" fill="#1a1a1a">2.5</text>
<line x1="800.7" y1="2348.0" x2="814.7" y2="2348.0" stroke="#222" stroke-width="2"/>
<text x="792.2" y="2358.0" text-anchor="end" font-family="Liberation Sans, sans-serif" font-size="28" fill="#1a1a1a">3.0</text>
<line x1="800.7" y1="2283.0" x2="814.7" y2="2283.0" stroke="#222" stroke-width="2"/>
<text x="792.2" y="2293.0" text-anchor="end" font-family="Liberation Sans, sans-serif" font-size="28" fill="#1a1a1a">3.5</text>
<line x1="814.7" y1="2738.3" x2="814.7" y2="2749.3" stroke="#222" stroke-width="2"/>
<text x="814.7" y="2780.3" text-anchor="middle" font-family="Liberation Sans, sans-serif" font-size="28" fill="#1a1a1a">0</text>
<line x1="893.5" y1="2738.3" x2="893.5" y2="2749.3" stroke="#222" stroke-width="2"/>
<text x="893.5" y="2780.3" text-anchor="middle" font-family="Liberation Sans, sans-serif" font-size="28" fill="#1a1a1a">0.5</text>
<line x1="972.4" y1="2738.3" x2="972.4" y2="2749.3" stroke="#222" stroke-width="2"/>
<text x="972.4" y="2780.3" text-anchor="middle" font-family="Liberation Sans, sans-serif" font-size="28" fill="#1a1a1a">1.0</text>
<line x1="1051.2" y1="2738.3" x2="1051.2" y2="2749.3" stroke="#222" stroke-width="2"/>
<text x="1051.2" y="2780.3" text-anchor="middle" font-family="Liberation Sans, sans-serif" font-size="28" fill="#1a1a1a">1.5</text>
<line x1="1130.0" y1="2738.3" x2="1130.0" y2="2749.3" stroke="#222" stroke-width="2"/>
<text x="1130.0" y="2780.3" text-anchor="middle" font-family="Liberation Sans, sans-serif" font-size="28" fill="#1a1a1a">2.0</text>
<line x1="1208.8" y1="2738.3" x2="1208.8" y2="2749.3" stroke="#222" stroke-width="2"/>
<text x="1208.8" y="2780.3" text-anchor="middle" font-family="Liberation Sans, sans-serif" font-size="28" fill="#1a1a1a">2.5</text>
<line x1="1287.7" y1="2738.3" x2="1287.7" y2="2749.3" stroke="#222" stroke-width="2"/>
<text x="1287.7" y="2780.3" text-anchor="middle" font-family="Liberation Sans, sans-serif" font-size="28" fill="#1a1a1a">3.0</text>
<line x1="1366.5" y1="2738.3" x2="1366.5" y2="2749.3" stroke="#222" stroke-width="2"/>
<text x="1366.5" y="2780.3" text-anchor="middle" font-family="Liberation Sans, sans-serif" font-size="28" fill="#1a1a1a">3.5</text>
<text x="1091.6" y="2814.8" text-anchor="middle" font-family="Liberation Sans, sans-serif" font-size="28" fill="#1a1a1a">Capacity (mA h)</text>
<text transform="translate(733.1,2515.0) rotate(-90)" text-anchor="middle" font-family="Liberation Sans, sans-serif" font-size="28.5" fill="#1a1a1a">Voltage (V)</text>
<text x="840.2" y="2339.0" font-family="Liberation Sans, sans-serif" font-weight="bold" font-size="42" fill="#000">4-2h</text>
<path d="M104.3,904.2C104.8,896.8 105.9,877.0 107.2,859.6C108.4,842.3 109.9,818.6 111.9,800.2C113.9,781.8 116.8,763.5 119.0,749.1C121.2,734.7 123.0,725.4 125.0,713.7C127.0,701.9 129.0,689.1 131.0,678.6C133.0,668.0 134.9,658.1 136.9,650.2C138.8,642.3 140.4,636.8 142.7,631.3C145.1,625.7 147.6,620.3 150.8,616.7C154.1,613.0 158.1,611.4 162.3,609.1C166.6,606.8 169.0,605.3 176.3,603.1C183.7,600.9 195.5,597.9 206.4,595.8C217.4,593.6 228.1,592.0 241.9,590.0C255.7,588.1 275.3,585.8 289.1,584.1C302.9,582.3 314.4,581.3 324.5,579.6C334.7,577.8 341.8,575.8 350.0,573.8C358.2,571.8 365.6,569.7 373.5,567.4C381.4,565.1 390.5,562.2 397.2,560.0C403.9,557.7 408.7,556.1 413.8,553.9C419.0,551.6 423.7,548.4 428.0,546.5C432.3,544.6 433.1,544.0 439.7,542.6C446.4,541.2 455.5,539.6 468.1,538.1C480.7,536.5 499.7,534.6 515.5,533.3C531.3,532.1 549.3,531.3 562.7,530.4C576.1,529.6 590.6,528.6 596.2,528.2" fill="none" stroke="#111" stroke-width="2.4" stroke-linejoin="round" stroke-linecap="round"/>
<path d="M104.3,904.2C104.4,896.8 104.4,876.8 105.1,859.3C105.8,841.8 106.9,818.0 108.6,799.5C110.4,781.0 113.4,762.8 115.6,748.4C117.8,734.0 119.6,724.8 121.6,713.0C123.6,701.3 125.6,688.5 127.6,677.9C129.6,667.3 131.6,657.4 133.5,649.5C135.5,641.6 137.0,636.2 139.3,630.6C141.6,625.0 144.1,619.8 147.5,616.0C150.9,612.2 155.1,610.2 159.5,607.9C163.8,605.5 166.2,604.1 173.6,601.9C181.1,599.7 193.4,596.9 204.4,594.8C215.5,592.6 226.1,590.9 239.9,589.0C253.7,587.0 273.3,584.8 287.1,582.9C300.9,580.9 312.4,579.3 322.5,577.2C332.7,575.1 339.9,572.8 348.0,570.4C356.2,568.1 363.6,565.5 371.5,563.0C379.4,560.5 388.5,557.7 395.2,555.6C401.9,553.4 406.7,552.1 411.8,550.2C417.0,548.3 421.7,545.7 426.0,544.2C430.3,542.8 431.1,542.6 437.7,541.4C444.4,540.2 453.4,538.6 466.1,537.2C478.8,535.7 498.2,533.9 514.2,532.7C530.2,531.5 547.6,530.9 562.0,530.1C576.4,529.3 594.2,528.2 600.6,527.9 M104.3,904.2C104.5,896.8 104.7,876.8 105.6,859.4C106.5,842.0 107.6,818.1 109.4,799.7C111.2,781.2 114.3,763.0 116.5,748.6C118.6,734.2 120.4,724.9 122.4,713.2C124.4,701.4 126.4,688.6 128.4,678.0C130.4,667.5 132.4,657.5 134.4,649.7C136.3,641.8 137.8,636.3 140.2,630.7C142.5,625.2 145.0,619.9 148.3,616.1C151.7,612.4 155.9,610.5 160.2,608.2C164.5,605.9 166.9,604.4 174.3,602.2C181.8,600.0 193.9,597.2 204.9,595.0C216.0,592.9 226.6,591.2 240.4,589.2C254.2,587.2 273.8,585.1 287.6,583.2C301.4,581.3 312.9,579.8 323.0,577.8C333.2,575.8 340.4,573.6 348.5,571.3C356.7,569.0 364.1,566.5 372.0,564.1C379.9,561.7 389.0,558.8 395.7,556.7C402.4,554.5 407.2,553.1 412.3,551.1C417.5,549.1 422.2,546.4 426.5,544.8C430.8,543.2 431.6,542.9 438.2,541.7C444.9,540.5 453.9,538.9 466.6,537.4C479.3,535.9 498.6,534.1 514.5,532.9C530.5,531.6 548.0,531.0 562.2,530.2C576.4,529.3 593.3,528.3 599.5,528.0 M104.3,904.2C104.6,896.8 105.1,876.9 106.1,859.5C107.1,842.1 108.4,818.3 110.3,799.8C112.1,781.4 115.1,763.2 117.3,748.8C119.5,734.3 121.3,725.1 123.3,713.4C125.3,701.6 127.3,688.8 129.3,678.2C131.3,667.6 133.3,657.7 135.2,649.8C137.2,642.0 138.7,636.5 141.0,630.9C143.3,625.3 145.9,620.1 149.2,616.3C152.5,612.6 156.6,610.8 160.9,608.5C165.2,606.2 167.6,604.7 175.0,602.5C182.4,600.3 194.5,597.4 205.4,595.3C216.4,593.1 227.1,591.5 240.9,589.5C254.7,587.5 274.3,585.3 288.1,583.5C301.9,581.6 313.4,580.3 323.5,578.4C333.7,576.5 340.9,574.3 349.0,572.1C357.2,569.9 364.6,567.6 372.5,565.2C380.4,562.8 389.5,560.0 396.2,557.8C402.9,555.6 407.7,554.1 412.8,552.0C418.0,550.0 422.7,547.0 427.0,545.4C431.3,543.7 432.1,543.3 438.7,542.0C445.4,540.7 454.4,539.1 467.1,537.6C479.8,536.1 499.0,534.2 514.9,533.0C530.7,531.8 548.5,531.1 562.4,530.3C576.3,529.4 592.4,528.4 598.4,528.0 M104.3,904.2C104.7,896.8 105.5,876.9 106.7,859.6C107.8,842.2 109.2,818.4 111.1,800.0C113.0,781.6 116.0,763.3 118.2,748.9C120.4,734.5 122.2,725.3 124.2,713.5C126.2,701.8 128.2,689.0 130.1,678.4C132.1,667.8 134.1,657.9 136.0,650.0C138.0,642.1 139.6,636.7 141.9,631.1C144.2,625.5 146.7,620.2 150.0,616.5C153.3,612.8 157.4,611.1 161.6,608.8C165.9,606.5 168.3,605.0 175.6,602.8C183.0,600.6 195.0,597.7 205.9,595.5C216.9,593.4 227.6,591.7 241.4,589.8C255.2,587.8 274.8,585.6 288.6,583.8C302.4,582.0 313.9,580.8 324.0,579.0C334.2,577.2 341.4,575.1 349.5,573.0C357.7,570.9 365.1,568.6 373.0,566.3C380.9,563.9 390.0,561.1 396.7,558.9C403.4,556.6 408.2,555.1 413.3,553.0C418.5,550.8 423.2,547.7 427.5,545.9C431.8,544.2 432.6,543.6 439.2,542.3C445.9,540.9 454.9,539.4 467.6,537.9C480.3,536.3 499.4,534.4 515.2,533.2C531.0,531.9 548.9,531.2 562.5,530.3C576.2,529.5 591.5,528.5 597.3,528.1 M104.3,904.2C104.8,896.8 105.9,877.0 107.2,859.6C108.4,842.3 109.9,818.6 111.9,800.2C113.9,781.8 116.8,763.5 119.0,749.1C121.2,734.7 123.0,725.4 125.0,713.7C127.0,701.9 129.0,689.1 131.0,678.6C133.0,668.0 134.9,658.1 136.9,650.2C138.8,642.3 140.4,636.8 142.7,631.3C145.1,625.7 147.6,620.3 150.8,616.7C154.1,613.0 158.1,611.4 162.3,609.1C166.6,606.8 169.0,605.3 176.3,603.1C183.7,600.9 195.5,597.9 206.4,595.8C217.4,593.6 228.1,592.0 241.9,590.0C255.7,588.1 275.3,585.8 289.1,584.1C302.9,582.3 314.4,581.3 324.5,579.6C334.7,577.8 341.8,575.8 350.0,573.8C358.2,571.8 365.6,569.7 373.5,567.4C381.4,565.1 390.5,562.2 397.2,560.0C403.9,557.7 408.7,556.1 413.8,553.9C419.0,551.6 423.7,548.4 428.0,546.5C432.3,544.6 433.1,544.0 439.7,542.6C446.4,541.2 455.5,539.6 468.1,538.1C480.7,536.5 499.7,534.6 515.5,533.3C531.3,532.1 549.3,531.3 562.7,530.4C576.1,529.6 590.6,528.6 596.2,528.2 M104.3,904.2C104.9,896.8 106.3,877.0 107.7,859.7C109.1,842.4 110.7,818.8 112.7,800.3C114.7,781.9 117.7,763.7 119.9,749.3C122.1,734.8 123.9,725.6 125.9,713.9C127.9,702.1 129.9,689.3 131.9,678.7C133.8,668.1 135.7,658.2 137.7,650.3C139.7,642.5 141.3,637.0 143.6,631.4C145.9,625.8 148.4,620.5 151.7,616.8C154.9,613.2 158.8,611.6 163.1,609.4C167.3,607.1 169.7,605.6 177.0,603.4C184.3,601.1 196.0,598.2 206.9,596.0C217.8,593.9 228.6,592.2 242.4,590.3C256.2,588.4 275.8,586.1 289.6,584.4C303.4,582.7 314.9,581.8 325.0,580.2C335.2,578.5 342.3,576.6 350.5,574.7C358.7,572.7 366.1,570.8 374.0,568.5C381.9,566.2 391.0,563.3 397.7,561.1C404.4,558.8 409.2,557.1 414.3,554.8C419.5,552.5 424.2,549.1 428.5,547.1C432.8,545.1 433.6,544.4 440.2,542.9C446.9,541.4 456.0,539.9 468.6,538.3C481.2,536.7 500.1,534.8 515.8,533.5C531.6,532.2 549.7,531.4 562.9,530.5C576.1,529.7 589.7,528.7 595.1,528.3 M104.3,904.2C105.0,896.8 106.7,877.1 108.2,859.8C109.8,842.5 111.4,818.9 113.5,800.5C115.6,782.1 118.5,763.8 120.8,749.4C123.0,735.0 124.7,725.8 126.7,714.0C128.7,702.3 130.7,689.5 132.7,678.9C134.7,668.3 136.6,658.4 138.5,650.5C140.5,642.6 142.1,637.2 144.5,631.6C146.8,626.0 149.3,620.6 152.5,617.0C155.7,613.3 159.6,611.9 163.8,609.7C168.0,607.5 170.4,605.9 177.6,603.6C184.9,601.4 196.6,598.5 207.4,596.3C218.3,594.1 229.1,592.5 242.9,590.6C256.7,588.6 276.3,586.3 290.1,584.7C303.9,583.1 315.4,582.3 325.5,580.7C335.7,579.2 342.8,577.4 351.0,575.5C359.2,573.6 366.6,571.8 374.5,569.6C382.4,567.4 391.5,564.5 398.2,562.2C404.9,559.9 409.7,558.2 414.8,555.7C419.9,553.3 424.7,549.8 429.0,547.7C433.3,545.6 434.1,544.7 440.7,543.2C447.4,541.7 456.5,540.1 469.1,538.5C481.7,536.9 500.5,535.0 516.2,533.7C531.8,532.4 550.1,531.5 563.0,530.6C576.0,529.7 588.8,528.7 593.9,528.4 M104.3,904.2C105.0,896.8 107.1,877.2 108.8,859.9C110.4,842.6 112.2,819.1 114.3,800.7C116.5,782.3 119.4,764.0 121.6,749.6C123.8,735.2 125.6,726.0 127.6,714.2C129.6,702.4 131.6,689.6 133.6,679.1C135.5,668.5 137.4,658.6 139.4,650.7C141.3,642.8 143.0,637.3 145.3,631.8C147.6,626.2 150.1,620.8 153.3,617.2C156.5,613.5 160.3,612.2 164.5,610.0C168.7,607.8 171.1,606.2 178.3,603.9C185.5,601.7 197.1,598.7 207.9,596.5C218.8,594.4 229.6,592.8 243.4,590.8C257.2,588.9 276.8,586.6 290.6,585.0C304.4,583.4 315.9,582.8 326.0,581.3C336.2,579.9 343.3,578.1 351.5,576.3C359.7,574.6 367.1,572.9 375.0,570.7C382.9,568.5 392.0,565.6 398.7,563.3C405.4,560.9 410.2,559.2 415.3,556.7C420.4,554.2 425.2,550.4 429.5,548.2C433.8,546.0 434.6,545.1 441.2,543.5C447.9,541.9 457.1,540.3 469.6,538.7C482.1,537.1 500.9,535.2 516.5,533.8C532.1,532.5 550.5,531.6 563.2,530.7C575.9,529.8 587.9,528.8 592.8,528.5 M104.3,904.2C105.1,896.9 107.5,877.2 109.3,860.0C111.1,842.8 113.0,819.2 115.2,800.9C117.4,782.5 120.3,764.2 122.5,749.8C124.7,735.4 126.5,726.1 128.5,714.4C130.4,702.6 132.5,689.8 134.4,679.2C136.4,668.6 138.2,658.7 140.2,650.8C142.1,643.0 143.8,637.5 146.2,631.9C148.5,626.3 151.0,620.9 154.2,617.3C157.3,613.7 161.1,612.5 165.2,610.3C169.4,608.1 171.8,606.5 179.0,604.2C186.2,602.0 197.6,599.0 208.4,596.8C219.3,594.6 230.1,593.0 243.9,591.1C257.7,589.2 277.3,586.8 291.1,585.3C304.8,583.8 316.4,583.3 326.5,581.9C336.7,580.6 343.8,578.9 352.0,577.2C360.2,575.5 367.6,573.9 375.5,571.8C383.4,569.6 392.5,566.7 399.2,564.4C405.9,562.0 410.7,560.2 415.8,557.6C420.9,555.0 425.7,551.1 430.0,548.8C434.3,546.5 435.1,545.5 441.7,543.8C448.4,542.2 457.6,540.6 470.1,538.9C482.6,537.3 501.3,535.4 516.8,534.0C532.4,532.6 550.9,531.7 563.4,530.8C575.9,529.9 587.0,528.9 591.7,528.5" fill="none" stroke="#111" stroke-width="1.4300000000000002" stroke-linejoin="round" stroke-linecap="round" opacity="1.0"/>
<path d="M104.3,904.2C105.2,896.8 108.0,877.0 109.8,859.6C111.7,842.3 113.2,818.6 115.4,800.2C117.5,781.8 120.4,763.5 122.7,749.1C125.0,734.7 127.1,725.4 129.1,713.7C131.1,701.9 133.0,689.1 134.9,678.6C136.8,668.0 138.5,658.1 140.4,650.2C142.3,642.3 144.0,636.8 146.4,631.3C148.8,625.7 151.7,620.3 154.8,616.7C158.0,613.1 161.3,611.8 165.2,609.6C169.2,607.4 171.7,605.8 178.5,603.5C185.4,601.3 195.9,598.3 206.4,596.1C217.0,593.9 228.1,592.4 241.9,590.4C255.7,588.5 275.3,586.2 289.1,584.6C302.9,583.1 314.4,582.5 324.5,581.2C334.7,580.0 341.8,578.5 350.0,577.2C358.2,575.8 365.6,574.9 373.5,573.1C381.4,571.3 389.6,568.7 397.2,566.4C404.8,564.0 413.1,561.8 418.9,559.0C424.7,556.1 428.0,552.1 432.2,549.5C436.5,546.9 438.4,545.2 444.4,543.4C450.4,541.6 456.2,540.3 468.1,538.7C480.0,537.1 499.7,535.3 515.5,533.9C531.3,532.6 548.5,531.7 562.7,530.8C576.9,529.9 590.0,529.2 600.6,528.5C611.2,527.9 622.2,527.4 626.5,527.2" fill="none" stroke="#333" stroke-width="1.3" stroke-linejoin="round" stroke-linecap="round" opacity="1.0"/>
<path d="M104.3,582.6C104.4,584.9 104.6,591.6 105.0,596.1C105.3,600.6 105.0,603.8 106.5,609.6C108.1,615.4 111.4,624.2 114.3,630.8C117.1,637.5 120.4,644.6 123.6,649.8C126.7,654.9 129.2,658.3 133.1,661.7C137.1,665.0 141.0,667.5 147.3,669.9C153.6,672.3 160.9,673.7 170.8,675.8C180.6,678.0 197.8,680.9 206.4,682.9C215.1,684.9 216.9,685.4 222.8,687.7C228.7,690.1 234.8,694.1 241.9,697.1C249.0,700.0 255.7,702.8 265.6,705.4C275.5,708.1 289.2,710.5 301.0,713.2C312.9,715.9 326.8,718.8 336.5,721.8C346.2,724.7 353.3,727.7 359.1,730.9C364.9,734.1 367.8,737.1 371.3,741.1C374.8,745.1 377.0,748.1 380.1,754.9C383.3,761.7 386.5,771.1 390.2,781.9C393.9,792.7 398.3,808.2 402.4,819.8C406.5,831.3 410.6,840.8 414.8,851.3C419.0,861.8 423.3,872.2 427.4,882.8C431.6,893.3 435.8,903.9 440.0,914.4C444.1,924.9 449.4,938.1 452.4,945.9C455.4,953.6 457.0,958.5 457.9,961.0" fill="none" stroke="#111" stroke-width="2.4" stroke-linejoin="round" stroke-linecap="round"/>
<path d="M104.3,582.6C104.4,584.8 104.4,591.4 104.7,595.8C105.0,600.2 104.6,603.3 106.1,609.0C107.5,614.6 110.8,623.3 113.6,629.8C116.4,636.4 119.6,643.3 122.7,648.4C125.8,653.5 128.3,657.0 132.2,660.3C136.2,663.7 140.1,666.2 146.4,668.6C152.7,670.9 160.0,672.3 169.9,674.5C179.7,676.7 196.9,679.5 205.6,681.5C214.2,683.5 216.0,684.0 221.9,686.4C227.9,688.8 233.9,692.8 241.0,695.7C248.1,698.7 254.9,701.5 264.7,704.1C274.6,706.7 288.3,708.7 300.2,711.1C312.0,713.5 325.9,716.0 335.6,718.4C345.3,720.9 352.0,723.1 358.2,725.9C364.4,728.6 368.6,731.3 372.6,734.6C376.6,738.0 378.7,739.0 382.1,746.1C385.6,753.2 389.3,765.2 393.2,777.2C397.1,789.3 401.3,806.3 405.4,818.4C409.5,830.5 413.5,839.4 417.6,849.9C421.7,860.4 425.9,870.9 430.0,881.4C434.1,891.9 438.3,902.5 442.4,913.0C446.5,923.5 451.6,936.7 454.6,944.5C457.5,952.3 459.2,957.1 460.1,959.6 M104.3,582.6C104.4,584.8 104.5,591.4 104.8,595.9C105.1,600.3 104.7,603.4 106.2,609.1C107.7,614.8 111.0,623.5 113.8,630.1C116.6,636.7 119.8,643.7 122.9,648.8C126.0,653.8 128.5,657.3 132.4,660.6C136.4,664.0 140.3,666.5 146.6,668.9C152.9,671.3 160.2,672.7 170.1,674.8C180.0,677.0 197.1,679.9 205.8,681.9C214.5,683.8 216.3,684.4 222.2,686.7C228.1,689.1 234.1,693.1 241.2,696.1C248.4,699.0 255.1,701.8 264.9,704.4C274.8,707.0 288.6,709.2 300.4,711.6C312.2,714.1 326.2,716.7 335.8,719.3C345.5,721.8 352.4,724.3 358.4,727.1C364.5,729.9 368.4,732.7 372.3,736.2C376.1,739.8 378.3,741.3 381.6,748.3C385.0,755.3 388.6,766.6 392.5,778.4C396.3,790.1 400.6,806.8 404.7,818.8C408.7,830.7 412.8,839.8 416.9,850.3C421.0,860.7 425.2,871.2 429.4,881.7C433.5,892.3 437.7,902.8 441.8,913.4C445.9,923.9 451.1,937.1 454.0,944.9C457.0,952.6 458.6,957.5 459.6,960.0 M104.3,582.6C104.4,584.8 104.5,591.5 104.9,595.9C105.2,600.4 104.8,603.6 106.3,609.3C107.8,615.0 111.1,623.7 113.9,630.3C116.7,637.0 120.0,644.0 123.1,649.1C126.3,654.2 128.7,657.6 132.7,661.0C136.6,664.3 140.6,666.9 146.8,669.2C153.1,671.6 160.5,673.0 170.3,675.2C180.2,677.3 197.3,680.2 206.0,682.2C214.7,684.2 216.5,684.7 222.4,687.1C228.3,689.4 234.3,693.4 241.4,696.4C248.6,699.3 255.3,702.1 265.2,704.8C275.0,707.4 288.8,709.6 300.6,712.2C312.4,714.7 326.4,717.4 336.1,720.1C345.7,722.8 352.7,725.4 358.7,728.4C364.6,731.3 368.2,734.2 371.9,737.8C375.7,741.5 377.8,743.6 381.1,750.5C384.4,757.5 387.9,768.1 391.7,779.6C395.5,791.0 399.8,807.3 403.9,819.1C408.0,830.9 412.1,840.1 416.2,850.6C420.3,861.1 424.6,871.6 428.7,882.1C432.9,892.6 437.1,903.2 441.2,913.7C445.3,924.2 450.5,937.4 453.5,945.2C456.5,953.0 458.1,957.8 459.0,960.3 M104.3,582.6C104.4,584.8 104.6,591.6 104.9,596.0C105.3,600.5 104.9,603.7 106.4,609.5C107.9,615.2 111.3,623.9 114.1,630.6C116.9,637.3 120.2,644.3 123.4,649.4C126.5,654.5 128.9,658.0 132.9,661.3C136.8,664.7 140.8,667.2 147.1,669.6C153.3,671.9 160.7,673.3 170.5,675.5C180.4,677.7 197.5,680.6 206.2,682.5C214.9,684.5 216.7,685.0 222.6,687.4C228.5,689.8 234.5,693.8 241.7,696.7C248.8,699.7 255.5,702.4 265.4,705.1C275.2,707.8 289.0,710.1 300.8,712.7C312.6,715.3 326.6,718.1 336.3,721.0C345.9,723.8 353.0,726.6 358.9,729.7C364.8,732.7 368.0,735.6 371.6,739.5C375.2,743.3 377.4,745.8 380.6,752.7C383.9,759.6 387.2,769.6 391.0,780.8C394.7,791.9 399.1,807.7 403.2,819.4C407.2,831.1 411.4,840.4 415.5,850.9C419.7,861.4 423.9,871.9 428.1,882.4C432.3,892.9 436.4,903.5 440.6,914.0C444.7,924.6 449.9,937.8 452.9,945.5C455.9,953.3 457.5,958.1 458.5,960.7 M104.3,582.6C104.4,584.9 104.6,591.6 105.0,596.1C105.3,600.6 105.0,603.8 106.5,609.6C108.1,615.4 111.4,624.2 114.3,630.8C117.1,637.5 120.4,644.6 123.6,649.8C126.7,654.9 129.2,658.3 133.1,661.7C137.1,665.0 141.0,667.5 147.3,669.9C153.6,672.3 160.9,673.7 170.8,675.8C180.6,678.0 197.8,680.9 206.4,682.9C215.1,684.9 216.9,685.4 222.8,687.7C228.7,690.1 234.8,694.1 241.9,697.1C249.0,700.0 255.7,702.8 265.6,705.4C275.5,708.1 289.2,710.5 301.0,713.2C312.9,715.9 326.8,718.8 336.5,721.8C346.2,724.7 353.3,727.7 359.1,730.9C364.9,734.1 367.8,737.1 371.3,741.1C374.8,745.1 377.0,748.1 380.1,754.9C383.3,761.7 386.5,771.1 390.2,781.9C393.9,792.7 398.3,808.2 402.4,819.8C406.5,831.3 410.6,840.8 414.8,851.3C419.0,861.8 423.3,872.2 427.4,882.8C431.6,893.3 435.8,903.9 440.0,914.4C444.1,924.9 449.4,938.1 452.4,945.9C455.4,953.6 457.0,958.5 457.9,961.0 M104.3,582.6C104.4,584.9 104.6,591.7 105.0,596.2C105.4,600.7 105.1,604.0 106.6,609.8C108.2,615.6 111.6,624.4 114.4,631.1C117.3,637.8 120.6,645.0 123.8,650.1C126.9,655.3 129.4,658.6 133.3,662.0C137.3,665.4 141.2,667.9 147.5,670.2C153.8,672.6 161.1,674.0 171.0,676.2C180.8,678.3 198.0,681.2 206.7,683.2C215.3,685.2 217.1,685.7 223.1,688.1C229.0,690.4 235.0,694.5 242.1,697.4C249.2,700.4 256.0,703.1 265.8,705.8C275.7,708.5 289.5,710.9 301.3,713.7C313.1,716.5 327.0,719.6 336.7,722.6C346.4,725.7 353.6,728.8 359.3,732.2C365.0,735.5 367.6,738.5 370.9,742.7C374.3,746.8 376.6,750.4 379.6,757.1C382.7,763.8 385.8,772.6 389.5,783.1C393.1,793.6 397.6,808.7 401.7,820.1C405.8,831.5 409.9,841.1 414.1,851.6C418.3,862.1 422.6,872.6 426.8,883.1C431.0,893.6 435.2,904.2 439.4,914.7C443.5,925.2 448.8,938.4 451.8,946.2C454.8,954.0 456.4,958.8 457.4,961.3 M104.3,582.6C104.4,584.9 104.7,591.7 105.1,596.3C105.5,600.8 105.1,604.1 106.7,610.0C108.3,615.8 111.7,624.6 114.6,631.4C117.5,638.1 120.9,645.3 124.0,650.4C127.2,655.6 129.6,659.0 133.5,662.3C137.5,665.7 141.4,668.2 147.7,670.6C154.0,672.9 161.4,674.4 171.2,676.5C181.1,678.7 198.2,681.6 206.9,683.6C215.6,685.5 217.4,686.1 223.3,688.4C229.2,690.8 235.2,694.8 242.3,697.7C249.5,700.7 256.2,703.4 266.0,706.1C275.9,708.9 289.7,711.4 301.5,714.3C313.3,717.2 327.3,720.3 336.9,723.5C346.6,726.7 353.9,730.0 359.5,733.5C365.1,736.9 367.3,740.0 370.6,744.3C373.9,748.6 376.1,752.6 379.1,759.3C382.2,766.0 385.1,774.1 388.7,784.3C392.4,794.5 396.8,809.2 400.9,820.5C405.0,831.7 409.2,841.4 413.4,851.9C417.6,862.4 422.0,872.9 426.2,883.4C430.4,893.9 434.6,904.5 438.7,915.1C442.9,925.6 448.3,938.8 451.3,946.5C454.3,954.3 455.9,959.2 456.8,961.7 M104.3,582.6C104.4,584.9 104.7,591.8 105.1,596.4C105.6,601.0 105.2,604.3 106.8,610.1C108.5,616.0 111.9,624.8 114.8,631.6C117.7,638.4 121.1,645.6 124.2,650.8C127.4,656.0 129.8,659.3 133.8,662.7C137.7,666.0 141.7,668.6 147.9,670.9C154.2,673.3 161.6,674.7 171.4,676.9C181.3,679.0 198.4,681.9 207.1,683.9C215.8,685.9 217.6,686.4 223.5,688.8C229.4,691.1 235.4,695.1 242.6,698.1C249.7,701.0 256.4,703.7 266.3,706.5C276.1,709.2 289.9,711.8 301.7,714.8C313.5,717.8 327.5,721.0 337.2,724.3C346.8,727.7 354.2,731.1 359.8,734.7C365.3,738.3 367.1,741.4 370.3,745.9C373.4,750.3 375.7,754.9 378.6,761.5C381.6,768.1 384.4,775.6 388.0,785.5C391.6,795.4 396.0,809.7 400.2,820.8C404.3,831.9 408.5,841.8 412.7,852.3C417.0,862.8 421.3,873.2 425.5,883.8C429.8,894.3 433.9,904.9 438.1,915.4C442.3,925.9 447.7,939.1 450.7,946.9C453.7,954.6 455.3,959.5 456.2,962.0 M104.3,582.6C104.4,584.9 104.7,591.8 105.2,596.5C105.6,601.1 105.3,604.4 107.0,610.3C108.6,616.2 112.0,625.1 114.9,631.9C117.9,638.7 121.3,645.9 124.5,651.1C127.6,656.3 130.0,659.7 134.0,663.0C137.9,666.4 141.9,668.9 148.2,671.3C154.4,673.6 161.8,675.0 171.7,677.2C181.5,679.4 198.6,682.2 207.3,684.2C216.0,686.2 217.8,686.7 223.7,689.1C229.6,691.5 235.6,695.5 242.8,698.4C249.9,701.4 256.6,704.0 266.5,706.8C276.3,709.6 290.1,712.2 301.9,715.3C313.7,718.4 327.7,721.7 337.4,725.2C347.1,728.6 354.6,732.3 360.0,736.0C365.4,739.7 366.9,742.9 370.0,747.5C373.0,752.1 375.3,757.2 378.1,763.7C381.0,770.2 383.7,777.1 387.2,786.7C390.8,796.2 395.3,810.1 399.4,821.1C403.6,832.1 407.8,842.1 412.0,852.6C416.3,863.1 420.7,873.6 424.9,884.1C429.1,894.6 433.3,905.2 437.5,915.7C441.7,926.2 447.1,939.4 450.2,947.2C453.2,955.0 454.8,959.8 455.7,962.4" fill="none" stroke="#111" stroke-width="1.4300000000000002" stroke-linejoin="round" stroke-linecap="round" opacity="1.0"/>
<path d="M215.1,685.3C217.3,685.5 223.9,685.5 228.4,686.7C232.8,687.8 236.5,689.7 241.7,692.1C246.8,694.4 253.5,698.4 259.4,700.9C265.3,703.3 274.2,705.9 277.1,706.9" fill="none" stroke="#444" stroke-width="1.1700000000000002" stroke-linejoin="round" stroke-linecap="round" opacity="1.0"/>
<path d="M160.3,751.0 L126.5,739.5 M136.8,737.2 L126.5,739.5 L133.2,747.6" fill="none" stroke="#111" stroke-width="1.6" stroke-linecap="round" stroke-linejoin="round"/>
<text x="161.5" y="764.5" font-family="Liberation Sans, sans-serif" font-size="28" fill="#1a1a1a">1st</text>
<path d="M816.3,933.4C816.5,925.5 817.2,905.5 817.7,885.6C818.3,865.7 818.9,831.1 819.6,814.0C820.4,796.9 821.3,792.1 822.2,783.1C823.1,774.1 823.6,766.2 824.8,760.0C825.9,753.9 826.7,750.7 829.1,746.2C831.4,741.8 834.6,738.1 838.8,733.4C843.1,728.6 848.1,722.4 854.7,717.7C861.3,712.9 870.4,708.6 878.3,704.9C886.2,701.3 894.1,698.7 902.0,695.5C909.9,692.4 919.2,689.2 925.6,686.1C932.0,682.9 935.5,680.6 940.2,676.7C944.9,672.7 950.2,668.2 954.0,662.4C957.9,656.7 960.5,649.0 963.3,641.9C966.2,634.9 968.9,627.0 971.3,619.9C973.7,612.9 976.0,604.7 977.6,599.4C979.2,594.2 979.5,591.5 980.8,588.4C982.1,585.2 982.9,582.7 985.5,580.5C988.1,578.2 991.4,576.5 996.4,574.7C1001.4,572.9 1006.9,571.5 1015.3,569.5C1023.7,567.6 1035.9,565.3 1046.7,563.1C1057.6,560.9 1066.9,558.9 1080.3,556.3C1093.8,553.6 1113.4,550.6 1127.5,547.4C1141.6,544.2 1155.0,539.5 1164.9,537.1C1174.7,534.8 1180.9,534.1 1186.5,533.2C1192.0,532.3 1196.4,531.9 1198.4,531.7" fill="none" stroke="#111" stroke-width="2.4" stroke-linejoin="round" stroke-linecap="round"/>
<path d="M816.3,933.4C816.3,925.2 816.4,904.4 816.5,884.0C816.7,863.6 816.9,828.4 817.2,810.8C817.5,793.2 817.9,787.6 818.5,778.3C819.2,769.1 820.0,761.4 821.1,755.2C822.3,749.1 823.1,745.9 825.4,741.4C827.7,737.0 830.9,733.3 835.2,728.6C839.5,723.8 844.5,717.6 851.0,712.9C857.6,708.1 866.7,703.9 874.6,700.2C882.5,696.5 890.5,693.9 898.3,690.7C906.2,687.6 915.6,684.4 921.9,681.3C928.3,678.2 931.8,675.8 936.5,671.9C941.3,667.9 946.5,663.4 950.4,657.7C954.2,651.9 956.8,644.2 959.7,637.2C962.6,630.1 965.3,622.2 967.7,615.2C970.1,608.1 972.4,599.9 974.0,594.7C975.5,589.4 975.8,586.8 977.1,583.6C978.4,580.4 979.2,577.9 981.8,575.7C984.4,573.4 987.8,571.7 992.7,569.9C997.7,568.1 1003.2,566.7 1011.6,564.7C1020.0,562.8 1032.2,560.5 1043.1,558.3C1053.9,556.1 1063.2,554.1 1076.7,551.5C1090.2,548.9 1109.6,545.5 1123.9,542.6C1138.2,539.7 1152.2,535.8 1162.4,533.9C1172.7,532.1 1179.2,532.0 1185.2,531.6C1191.2,531.2 1196.2,531.6 1198.4,531.7 M816.3,933.4C816.4,925.3 816.6,904.7 816.8,884.4C817.0,864.0 817.3,829.0 817.7,811.5C818.2,794.0 818.7,788.6 819.4,779.4C820.1,770.2 820.8,762.4 821.9,756.3C823.1,750.1 823.9,746.9 826.2,742.5C828.6,738.1 831.7,734.4 836.0,729.6C840.3,724.9 845.3,718.7 851.8,713.9C858.4,709.2 867.6,704.9 875.4,701.2C883.3,697.5 891.3,694.9 899.1,691.8C907.0,688.7 916.4,685.5 922.7,682.4C929.1,679.2 932.6,676.9 937.4,672.9C942.1,669.0 947.3,664.5 951.2,658.7C955.0,652.9 957.6,645.3 960.5,638.2C963.4,631.1 966.1,623.3 968.5,616.2C970.9,609.1 973.2,601.0 974.8,595.7C976.4,590.5 976.6,587.8 977.9,584.7C979.2,581.5 980.0,579.0 982.6,576.7C985.3,574.5 988.6,572.8 993.5,571.0C998.5,569.2 1004.0,567.7 1012.4,565.8C1020.8,563.9 1033.0,561.6 1043.9,559.4C1054.7,557.2 1064.0,555.2 1077.5,552.5C1091.0,549.9 1110.4,546.6 1124.7,543.7C1138.9,540.7 1152.8,536.6 1163.0,534.6C1173.1,532.7 1179.6,532.4 1185.5,531.9C1191.4,531.4 1196.2,531.7 1198.4,531.7 M816.3,933.4C816.4,925.3 816.7,904.9 817.1,884.7C817.4,864.5 817.8,829.6 818.3,812.2C818.8,794.8 819.4,789.6 820.2,780.5C820.9,771.3 821.6,763.5 822.8,757.4C823.9,751.2 824.7,748.0 827.0,743.6C829.4,739.1 832.5,735.5 836.8,730.7C841.1,726.0 846.1,719.7 852.6,715.0C859.2,710.3 868.4,706.0 876.2,702.3C884.1,698.6 892.1,696.0 900.0,692.9C907.8,689.7 917.2,686.6 923.6,683.4C929.9,680.3 933.4,677.9 938.2,674.0C942.9,670.1 948.1,665.6 952.0,659.8C955.9,654.0 958.4,646.4 961.3,639.3C964.2,632.2 966.9,624.4 969.3,617.3C971.7,610.2 974.0,602.0 975.6,596.8C977.2,591.5 977.4,588.9 978.7,585.7C980.1,582.6 980.9,580.1 983.5,577.8C986.1,575.5 989.4,573.9 994.4,572.1C999.3,570.2 1004.8,568.8 1013.2,566.9C1021.6,564.9 1033.9,562.6 1044.7,560.4C1055.6,558.2 1064.8,556.2 1078.3,553.6C1091.8,551.0 1111.3,547.8 1125.5,544.7C1139.7,541.7 1153.5,537.4 1163.5,535.4C1173.6,533.3 1180.0,532.9 1185.8,532.3C1191.6,531.7 1196.3,531.8 1198.4,531.7 M816.3,933.4C816.5,925.4 816.9,905.2 817.3,885.1C817.8,865.0 818.2,830.2 818.8,812.9C819.4,795.7 820.2,790.6 821.0,781.5C821.8,772.4 822.4,764.6 823.6,758.4C824.7,752.3 825.5,749.1 827.8,744.6C830.2,740.2 833.3,736.5 837.6,731.8C841.9,727.0 846.9,720.8 853.5,716.1C860.0,711.3 869.2,707.0 877.1,703.4C884.9,699.7 892.9,697.1 900.8,693.9C908.7,690.8 918.0,687.6 924.4,684.5C930.7,681.3 934.2,679.0 939.0,675.1C943.7,671.1 948.9,666.6 952.8,660.9C956.7,655.1 959.2,647.4 962.1,640.4C965.0,633.3 967.7,625.4 970.1,618.3C972.5,611.3 974.8,603.1 976.4,597.9C978.0,592.6 978.2,589.9 979.6,586.8C980.9,583.6 981.7,581.1 984.3,578.9C986.9,576.6 990.2,574.9 995.2,573.1C1000.1,571.3 1005.7,569.9 1014.1,567.9C1022.4,566.0 1034.7,563.7 1045.5,561.5C1056.4,559.3 1065.7,557.3 1079.1,554.7C1092.6,552.0 1112.2,548.9 1126.3,545.8C1140.5,542.7 1154.1,538.3 1164.1,536.1C1174.0,533.9 1180.3,533.4 1186.1,532.6C1191.8,531.9 1196.3,531.8 1198.4,531.7 M816.3,933.4C816.5,925.4 817.1,905.4 817.6,885.4C818.1,865.5 818.7,830.8 819.4,813.6C820.1,796.5 821.0,791.6 821.8,782.6C822.6,773.6 823.2,765.6 824.4,759.5C825.5,753.3 826.3,750.1 828.6,745.7C831.0,741.2 834.2,737.6 838.4,732.8C842.7,728.1 847.7,721.9 854.3,717.1C860.8,712.4 870.0,708.1 877.9,704.4C885.8,700.7 893.7,698.1 901.6,695.0C909.5,691.8 918.8,688.7 925.2,685.6C931.6,682.4 935.1,680.1 939.8,676.1C944.5,672.2 949.8,667.7 953.6,661.9C957.5,656.1 960.1,648.5 962.9,641.4C965.8,634.3 968.5,626.5 970.9,619.4C973.3,612.3 975.6,604.2 977.2,598.9C978.8,593.7 979.1,591.0 980.4,587.8C981.7,584.7 982.5,582.2 985.1,579.9C987.7,577.6 991.0,576.0 996.0,574.2C1000.9,572.4 1006.5,570.9 1014.9,569.0C1023.3,567.1 1035.5,564.8 1046.3,562.6C1057.2,560.4 1066.5,558.3 1079.9,555.7C1093.4,553.1 1113.0,550.0 1127.1,546.8C1141.2,543.7 1154.7,539.1 1164.6,536.8C1174.5,534.5 1180.7,533.8 1186.3,533.0C1192.0,532.1 1196.4,531.9 1198.4,531.7 M816.3,933.4C816.6,925.5 817.3,905.6 817.9,885.8C818.5,865.9 819.1,831.4 819.9,814.4C820.7,797.3 821.7,792.6 822.6,783.6C823.5,774.7 824.0,766.7 825.2,760.5C826.3,754.4 827.1,751.2 829.5,746.7C831.8,742.3 835.0,738.7 839.2,733.9C843.5,729.1 848.5,722.9 855.1,718.2C861.7,713.4 870.8,709.2 878.7,705.5C886.6,701.8 894.5,699.2 902.4,696.0C910.3,692.9 919.6,689.8 926.0,686.6C932.4,683.5 935.9,681.1 940.6,677.2C945.3,673.2 950.6,668.8 954.4,663.0C958.3,657.2 960.9,649.6 963.8,642.5C966.6,635.4 969.4,627.6 971.7,620.5C974.1,613.4 976.5,605.2 978.0,600.0C979.6,594.7 979.9,592.1 981.2,588.9C982.5,585.7 983.3,583.3 985.9,581.0C988.5,578.7 991.8,577.1 996.8,575.2C1001.8,573.4 1007.3,572.0 1015.7,570.0C1024.1,568.1 1036.3,565.8 1047.1,563.6C1058.0,561.4 1067.3,559.4 1080.7,556.8C1094.2,554.2 1113.9,551.1 1127.9,547.9C1142.0,544.7 1155.4,539.9 1165.1,537.5C1174.9,535.1 1181.1,534.3 1186.6,533.3C1192.1,532.4 1196.4,531.9 1198.4,531.7 M816.3,933.4C816.6,925.6 817.5,905.9 818.1,886.1C818.8,866.4 819.6,832.0 820.4,815.1C821.3,798.2 822.5,793.6 823.4,784.7C824.3,775.8 824.9,767.8 826.0,761.6C827.1,755.5 827.9,752.3 830.3,747.8C832.6,743.4 835.8,739.7 840.0,735.0C844.3,730.2 849.3,724.0 855.9,719.2C862.5,714.5 871.6,710.2 879.5,706.5C887.4,702.8 895.3,700.3 903.2,697.1C911.1,694.0 920.4,690.8 926.8,687.7C933.2,684.5 936.7,682.2 941.4,678.3C946.2,674.3 951.4,669.8 955.2,664.0C959.1,658.3 961.7,650.6 964.6,643.5C967.5,636.5 970.2,628.6 972.5,621.5C974.9,614.5 977.3,606.3 978.8,601.0C980.4,595.8 980.7,593.1 982.0,590.0C983.3,586.8 984.1,584.3 986.7,582.0C989.3,579.8 992.6,578.1 997.6,576.3C1002.6,574.5 1008.1,573.0 1016.5,571.1C1024.9,569.2 1037.1,566.9 1048.0,564.7C1058.8,562.5 1068.1,560.5 1081.6,557.9C1095.0,555.2 1114.7,552.3 1128.8,549.0C1142.8,545.7 1156.0,540.7 1165.7,538.2C1175.4,535.6 1181.4,534.8 1186.9,533.7C1192.3,532.6 1196.5,532.0 1198.4,531.7 M816.3,933.4C816.7,925.6 817.6,906.1 818.4,886.5C819.2,866.9 820.0,832.6 821.0,815.8C822.0,799.0 823.3,794.6 824.2,785.8C825.2,776.9 825.7,768.8 826.8,762.7C828.0,756.5 828.7,753.3 831.1,748.9C833.4,744.4 836.6,740.8 840.9,736.0C845.1,731.3 850.1,725.0 856.7,720.3C863.3,715.6 872.4,711.3 880.3,707.6C888.2,703.9 896.1,701.3 904.0,698.2C911.9,695.0 921.3,691.9 927.6,688.7C934.0,685.6 937.5,683.3 942.2,679.3C947.0,675.4 952.2,670.9 956.1,665.1C959.9,659.3 962.5,651.7 965.4,644.6C968.3,637.5 971.0,629.7 973.4,622.6C975.7,615.5 978.1,607.4 979.7,602.1C981.2,596.8 981.5,594.2 982.8,591.0C984.1,587.9 984.9,585.4 987.5,583.1C990.1,580.8 993.5,579.2 998.4,577.4C1003.4,575.5 1008.9,574.1 1017.3,572.2C1025.7,570.2 1037.9,568.0 1048.8,565.8C1059.6,563.5 1068.9,561.5 1082.4,558.9C1095.8,556.3 1115.6,553.4 1129.6,550.0C1143.5,546.7 1156.6,541.6 1166.2,538.9C1175.8,536.2 1181.8,535.3 1187.1,534.1C1192.5,532.8 1196.5,532.1 1198.4,531.7 M816.3,933.4C816.7,925.7 817.8,906.3 818.7,886.8C819.6,867.4 820.5,833.1 821.5,816.5C822.6,799.8 824.0,795.6 825.0,786.8C826.1,778.0 826.5,769.9 827.6,763.7C828.8,757.6 829.6,754.4 831.9,749.9C834.2,745.5 837.4,741.8 841.7,737.1C845.9,732.3 850.9,726.1 857.5,721.4C864.1,716.6 873.2,712.4 881.1,708.7C889.0,705.0 896.9,702.4 904.8,699.2C912.7,696.1 922.1,692.9 928.4,689.8C934.8,686.7 938.3,684.3 943.0,680.4C947.8,676.4 953.0,671.9 956.9,666.2C960.7,660.4 963.3,652.7 966.2,645.7C969.1,638.6 971.8,630.7 974.2,623.7C976.5,616.6 978.9,608.4 980.5,603.2C982.0,597.9 982.3,595.3 983.6,592.1C984.9,588.9 985.7,586.4 988.3,584.2C990.9,581.9 994.3,580.3 999.2,578.4C1004.2,576.6 1009.7,575.2 1018.1,573.2C1026.5,571.3 1038.7,569.0 1049.6,566.8C1060.4,564.6 1069.7,562.6 1083.2,560.0C1096.6,557.4 1116.4,554.5 1130.4,551.1C1144.3,547.7 1157.3,542.4 1166.8,539.6C1176.3,536.8 1182.1,535.7 1187.4,534.4C1192.7,533.1 1196.6,532.1 1198.4,531.7 M816.3,933.4C816.7,925.7 818.0,906.6 819.0,887.2C819.9,867.8 820.9,833.7 822.1,817.2C823.2,800.6 824.8,796.6 825.9,787.9C826.9,779.2 827.3,771.0 828.4,764.8C829.6,758.7 830.4,755.4 832.7,751.0C835.0,746.6 838.2,742.9 842.5,738.2C846.8,733.4 851.8,727.2 858.3,722.4C864.9,717.7 874.0,713.4 881.9,709.7C889.8,706.0 897.8,703.4 905.6,700.3C913.5,697.2 922.9,694.0 929.2,690.9C935.6,687.7 939.1,685.4 943.9,681.4C948.6,677.5 953.8,673.0 957.7,667.2C961.5,661.4 964.1,653.8 967.0,646.7C969.9,639.6 972.6,631.8 975.0,624.7C977.4,617.6 979.7,609.5 981.3,604.2C982.8,599.0 983.1,596.3 984.4,593.2C985.7,590.0 986.5,587.5 989.1,585.2C991.7,583.0 995.1,581.3 1000.0,579.5C1005.0,577.7 1010.5,576.2 1018.9,574.3C1027.3,572.4 1039.5,570.1 1050.4,567.9C1061.2,565.7 1070.5,563.7 1084.0,561.0C1097.5,558.4 1117.3,555.6 1131.2,552.2C1145.1,548.7 1157.9,543.2 1167.3,540.3C1176.7,537.4 1182.5,536.2 1187.7,534.8C1192.9,533.3 1196.6,532.2 1198.4,531.7" fill="none" stroke="#111" stroke-width="1.4300000000000002" stroke-linejoin="round" stroke-linecap="round" opacity="1.0"/>
<path d="M816.3,933.4C816.7,926.4 817.4,904.7 818.5,891.1C819.7,877.4 821.5,862.6 823.0,851.4C824.5,840.3 826.0,832.1 827.5,824.1C829.0,816.1 830.5,810.9 832.0,803.6C833.5,796.3 834.9,787.9 836.5,780.4C838.2,772.9 839.9,764.0 841.8,758.5C843.7,753.0 845.7,751.0 847.8,747.6C849.9,744.2 851.2,743.1 854.4,738.2C857.6,733.2 863.4,723.4 867.0,717.7C870.6,711.9 873.5,707.7 875.9,703.9C878.2,700.0 879.8,698.6 880.9,694.3C882.0,690.0 881.9,683.6 882.6,677.9C883.3,672.2 883.0,667.2 884.9,660.1C886.7,653.1 889.7,643.2 893.8,635.7C898.0,628.2 904.3,620.1 909.6,615.2C914.8,610.2 920.1,608.0 925.3,605.7C930.6,603.5 934.5,603.4 941.0,601.8C947.6,600.2 958.3,597.6 964.6,596.2C971.0,594.7 970.9,594.5 978.9,593.2C987.0,591.9 1001.7,589.7 1013.0,588.4C1024.2,587.0 1035.3,586.3 1046.5,585.0C1057.6,583.6 1070.5,582.0 1080.1,580.5C1089.6,578.9 1096.1,577.5 1104.0,575.4C1111.9,573.3 1120.3,570.6 1127.3,567.9C1134.2,565.1 1139.7,561.6 1145.6,559.0C1151.5,556.4 1153.9,555.1 1162.7,552.0C1171.4,548.9 1184.4,543.2 1198.2,540.3C1212.0,537.3 1228.6,535.8 1245.5,534.3C1262.4,532.7 1281.4,531.8 1299.5,531.0C1317.6,530.2 1345.0,529.8 1354.2,529.6" fill="none" stroke="#111" stroke-width="1.56" stroke-linejoin="round" stroke-linecap="round" opacity="1.0"/>
<path d="M878.0,704.9C879.9,704.0 885.9,701.7 889.3,699.1C892.8,696.4 895.9,696.1 898.4,689.2C901.0,682.3 901.6,668.2 904.7,657.7C907.9,647.2 912.7,634.6 917.4,626.2C922.2,617.8 927.9,611.6 933.2,607.4C938.4,603.2 943.8,603.0 949.0,601.1C954.3,599.2 959.7,597.6 964.6,596.2C969.6,594.7 975.5,595.1 978.9,592.5C982.3,589.9 984.2,582.5 985.2,580.5" fill="none" stroke="#111" stroke-width="1.56" stroke-linejoin="round" stroke-linecap="round" opacity="1.0"/>
<path d="M901.7,695.5C903.2,694.6 908.3,692.0 910.7,690.2C913.1,688.4 913.4,690.6 915.9,684.7C918.3,678.8 921.6,664.9 925.3,654.7C929.0,644.4 933.7,631.5 937.9,623.1C942.1,614.7 946.0,608.5 950.5,604.1C954.9,599.7 959.9,598.5 964.6,596.6C969.4,594.6 975.5,595.2 978.9,592.5C982.3,589.8 984.2,582.5 985.2,580.5" fill="none" stroke="#111" stroke-width="1.56" stroke-linejoin="round" stroke-linecap="round" opacity="1.0"/>
<path d="M925.3,686.1C926.4,685.5 930.4,683.8 932.1,682.7C933.7,681.5 933.4,685.2 935.4,679.3C937.4,673.3 941.1,656.9 944.2,646.7C947.2,636.6 950.3,625.9 953.7,618.3C957.1,610.7 960.4,605.4 964.6,601.1C968.8,596.8 975.5,595.9 978.9,592.5C982.3,589.0 984.2,582.5 985.2,580.5" fill="none" stroke="#111" stroke-width="1.56" stroke-linejoin="round" stroke-linecap="round" opacity="1.0"/>
<path d="M939.9,676.7C941.0,676.0 944.9,673.8 946.7,672.4C948.4,671.0 948.5,673.9 950.5,668.3C952.4,662.7 955.7,648.2 958.3,638.8C961.0,629.4 963.9,618.6 966.3,612.0C968.7,605.5 970.5,602.7 972.6,599.4C974.7,596.2 976.8,595.6 978.9,592.5C981.0,589.3 984.2,582.5 985.2,580.5" fill="none" stroke="#111" stroke-width="1.56" stroke-linejoin="round" stroke-linecap="round" opacity="1.0"/>
<path d="M1164.7,537.1C1168.3,536.5 1180.7,534.1 1186.4,533.2C1192.0,532.3 1193.6,532.1 1198.4,531.7C1203.2,531.2 1212.4,530.5 1215.2,530.3" fill="none" stroke="#555" stroke-width="1.3" stroke-linejoin="round" stroke-linecap="round" opacity="1.0"/>
<path d="M1164.7,537.1C1168.3,536.5 1180.7,534.1 1186.4,533.2C1192.0,532.3 1190.8,532.1 1198.4,531.7C1206.0,531.2 1226.5,530.5 1232.1,530.3" fill="none" stroke="#555" stroke-width="1.3" stroke-linejoin="round" stroke-linecap="round" opacity="1.0"/>
<path d="M1164.7,537.1C1168.3,536.5 1180.7,534.1 1186.4,533.2C1192.0,532.3 1188.0,532.1 1198.4,531.7C1208.8,531.2 1240.5,530.5 1249.0,530.3" fill="none" stroke="#555" stroke-width="1.3" stroke-linejoin="round" stroke-linecap="round" opacity="1.0"/>
<path d="M1164.7,537.1C1168.3,536.5 1180.7,534.1 1186.4,533.2C1192.0,532.3 1185.1,532.1 1198.4,531.7C1211.6,531.2 1254.6,530.5 1265.8,530.3" fill="none" stroke="#555" stroke-width="1.3" stroke-linejoin="round" stroke-linecap="round" opacity="1.0"/>
<path d="M1164.7,537.1C1168.3,536.5 1180.7,534.1 1186.4,533.2C1192.0,532.3 1181.4,532.1 1198.4,531.7C1215.4,531.2 1273.3,530.5 1288.3,530.3" fill="none" stroke="#555" stroke-width="1.3" stroke-linejoin="round" stroke-linecap="round" opacity="1.0"/>
<path d="M1164.7,537.1C1168.3,536.5 1180.7,534.1 1186.4,533.2C1192.0,532.3 1177.7,532.1 1198.4,531.7C1219.1,531.2 1292.0,530.5 1310.8,530.3" fill="none" stroke="#555" stroke-width="1.3" stroke-linejoin="round" stroke-linecap="round" opacity="1.0"/>
<path d="M816.3,591.8C816.4,593.0 816.6,593.7 817.0,598.7C817.3,603.8 817.2,613.8 818.5,622.1C819.8,630.4 821.4,640.6 824.8,648.7C828.2,656.8 833.9,664.7 838.8,670.7C843.8,676.7 849.4,680.3 854.7,684.8C860.0,689.3 866.0,694.1 870.5,697.5C875.0,700.9 877.8,703.0 881.5,705.3C885.3,707.5 888.8,708.7 893.0,711.0C897.2,713.3 902.4,716.5 906.5,719.2C910.6,722.0 914.7,724.2 917.7,727.4C920.7,730.6 922.6,734.7 924.5,738.4C926.3,742.0 927.5,745.8 928.7,749.4C930.0,753.1 930.7,756.5 931.9,760.4C933.0,764.2 933.9,769.1 935.7,772.5C937.5,775.9 940.1,778.7 942.4,780.7C944.8,782.8 942.6,782.8 949.6,784.8C956.6,786.8 972.0,790.2 984.5,792.9C997.0,795.6 1013.5,796.9 1024.7,800.9C1035.9,805.0 1042.4,809.5 1051.5,817.1C1060.5,824.7 1071.7,838.0 1079.0,846.5C1086.3,854.9 1090.7,859.9 1095.3,867.9C1099.9,875.9 1102.4,883.5 1106.5,894.7C1110.6,905.9 1116.1,922.8 1120.0,935.0C1123.9,947.2 1128.4,962.5 1130.1,967.9" fill="none" stroke="#111" stroke-width="2.4" stroke-linejoin="round" stroke-linecap="round"/>
<path d="M816.3,591.8C816.2,592.7 815.8,592.7 815.7,597.3C815.7,601.8 815.2,611.3 816.1,619.1C817.0,627.0 817.9,636.4 821.1,644.3C824.3,652.1 830.2,660.3 835.2,666.3C840.2,672.3 845.7,675.9 851.0,680.3C856.3,684.8 862.4,689.6 866.9,693.1C871.3,696.5 874.1,698.6 877.9,700.8C881.6,703.1 885.2,704.3 889.3,706.6C893.5,708.9 898.7,712.1 902.8,714.8C907.0,717.5 911.1,719.8 914.1,723.0C917.1,726.2 919.0,730.2 920.8,733.9C922.6,737.6 923.8,741.3 925.1,745.0C926.3,748.7 927.1,752.1 928.2,755.9C929.4,759.8 930.3,764.7 932.1,768.1C933.8,771.5 936.5,774.2 938.8,776.3C941.1,778.3 939.0,778.4 946.0,780.4C953.0,782.4 968.3,785.8 980.8,788.4C993.3,791.1 1009.9,792.5 1021.1,796.5C1032.2,800.5 1038.8,805.0 1047.8,812.6C1056.8,820.2 1068.0,833.5 1075.3,842.0C1082.6,850.5 1087.0,855.4 1091.6,863.5C1096.2,871.5 1098.7,879.1 1102.9,890.3C1107.0,901.4 1112.4,918.4 1116.4,930.6C1120.3,942.8 1124.8,958.0 1126.5,963.5 M816.3,591.8C816.3,592.8 816.0,592.9 816.0,597.6C816.1,602.3 815.6,611.8 816.6,619.8C817.6,627.7 818.7,637.3 821.9,645.3C825.2,653.2 831.0,661.2 836.0,667.3C841.0,673.3 846.6,676.9 851.8,681.3C857.1,685.8 863.2,690.6 867.7,694.0C872.2,697.5 874.9,699.6 878.7,701.8C882.4,704.1 886.0,705.2 890.2,707.6C894.3,709.9 899.5,713.0 903.6,715.8C907.8,718.5 911.9,720.8 914.9,724.0C917.9,727.2 919.8,731.2 921.6,734.9C923.5,738.6 924.7,742.3 925.9,746.0C927.1,749.6 927.9,753.1 929.0,756.9C930.2,760.8 931.1,765.7 932.9,769.1C934.6,772.5 937.3,775.2 939.6,777.3C941.9,779.3 939.8,779.3 946.8,781.4C953.8,783.4 969.1,786.7 981.6,789.4C994.1,792.1 1010.7,793.5 1021.9,797.5C1033.0,801.5 1039.6,806.0 1048.6,813.6C1057.7,821.2 1068.8,834.5 1076.1,843.0C1083.5,851.5 1087.9,856.4 1092.4,864.5C1097.0,872.5 1099.6,880.1 1103.7,891.2C1107.8,902.4 1113.2,919.3 1117.2,931.6C1121.1,943.8 1125.6,959.0 1127.3,964.5 M816.3,591.8C816.3,592.8 816.1,593.1 816.3,597.9C816.4,602.7 816.1,612.4 817.2,620.4C818.2,628.5 819.5,638.3 822.8,646.2C826.0,654.2 831.8,662.2 836.8,668.2C841.8,674.3 847.4,677.9 852.6,682.3C857.9,686.8 864.0,691.6 868.5,695.0C873.0,698.4 875.8,700.6 879.5,702.8C883.3,705.1 886.8,706.2 891.0,708.6C895.1,710.9 900.3,714.0 904.5,716.8C908.6,719.5 912.7,721.8 915.7,725.0C918.7,728.1 920.6,732.2 922.4,735.9C924.3,739.6 925.5,743.3 926.7,747.0C927.9,750.6 928.7,754.0 929.9,757.9C931.0,761.7 931.9,766.7 933.7,770.1C935.4,773.4 938.1,776.2 940.4,778.3C942.7,780.3 940.6,780.3 947.6,782.4C954.6,784.4 969.9,787.7 982.4,790.4C995.0,793.1 1011.5,794.4 1022.7,798.5C1033.8,802.5 1040.4,807.0 1049.4,814.6C1058.5,822.2 1069.7,835.5 1077.0,844.0C1084.3,852.5 1088.7,857.4 1093.3,865.4C1097.8,873.5 1100.4,881.0 1104.5,892.2C1108.6,903.4 1114.0,920.3 1118.0,932.5C1121.9,944.7 1126.4,960.0 1128.1,965.5 M816.3,591.8C816.3,592.9 816.3,593.4 816.5,598.2C816.8,603.1 816.5,612.9 817.7,621.1C818.9,629.3 820.2,639.2 823.6,647.2C826.9,655.3 832.6,663.2 837.6,669.2C842.6,675.2 848.2,678.8 853.5,683.3C858.7,687.8 864.8,692.6 869.3,696.0C873.8,699.4 876.6,701.6 880.3,703.8C884.1,706.1 887.6,707.2 891.8,709.5C895.9,711.9 901.1,715.0 905.3,717.7C909.4,720.5 913.5,722.8 916.5,725.9C919.5,729.1 921.4,733.2 923.2,736.9C925.1,740.5 926.3,744.3 927.5,747.9C928.8,751.6 929.5,755.0 930.7,758.9C931.8,762.7 932.7,767.6 934.5,771.0C936.2,774.4 938.9,777.2 941.2,779.2C943.6,781.3 941.4,781.3 948.4,783.3C955.4,785.4 970.7,788.7 983.3,791.4C995.8,794.1 1012.3,795.4 1023.5,799.5C1034.7,803.5 1041.2,808.0 1050.2,815.6C1059.3,823.2 1070.5,836.5 1077.8,845.0C1085.1,853.4 1089.5,858.4 1094.1,866.4C1098.7,874.5 1101.2,882.0 1105.3,893.2C1109.4,904.4 1114.9,921.3 1118.8,933.5C1122.7,945.7 1127.2,961.0 1128.9,966.5 M816.3,591.8C816.4,592.9 816.5,593.6 816.8,598.6C817.1,603.6 817.0,613.5 818.2,621.8C819.5,630.0 821.0,640.1 824.4,648.2C827.7,656.3 833.4,664.2 838.4,670.2C843.4,676.2 849.0,679.8 854.3,684.3C859.6,688.8 865.6,693.6 870.1,697.0C874.6,700.4 877.4,702.5 881.1,704.8C884.9,707.0 888.4,708.2 892.6,710.5C896.8,712.9 902.0,716.0 906.1,718.7C910.2,721.5 914.3,723.7 917.3,726.9C920.3,730.1 922.2,734.2 924.1,737.9C925.9,741.5 927.1,745.3 928.3,748.9C929.6,752.6 930.3,756.0 931.5,759.9C932.6,763.7 933.5,768.6 935.3,772.0C937.1,775.4 939.7,778.2 942.0,780.2C944.4,782.3 942.2,782.3 949.2,784.3C956.2,786.4 971.6,789.7 984.1,792.4C996.6,795.1 1013.1,796.4 1024.3,800.5C1035.5,804.5 1042.0,809.0 1051.0,816.6C1060.1,824.2 1071.3,837.5 1078.6,846.0C1085.9,854.4 1090.3,859.4 1094.9,867.4C1099.5,875.5 1102.0,883.0 1106.1,894.2C1110.2,905.4 1115.7,922.3 1119.6,934.5C1123.5,946.7 1128.0,962.0 1129.7,967.4 M816.3,591.8C816.4,593.0 816.7,593.8 817.1,598.9C817.5,604.0 817.4,614.0 818.8,622.4C820.1,630.8 821.8,641.1 825.2,649.2C828.6,657.3 834.3,665.2 839.2,671.2C844.2,677.2 849.8,680.8 855.1,685.3C860.4,689.7 866.5,694.6 870.9,698.0C875.4,701.4 878.2,703.5 881.9,705.8C885.7,708.0 889.2,709.2 893.4,711.5C897.6,713.8 902.8,717.0 906.9,719.7C911.0,722.5 915.1,724.7 918.1,727.9C921.1,731.1 923.0,735.2 924.9,738.9C926.7,742.5 927.9,746.3 929.1,749.9C930.4,753.6 931.1,757.0 932.3,760.9C933.4,764.7 934.3,769.6 936.1,773.0C937.9,776.4 940.5,779.2 942.9,781.2C945.2,783.3 943.0,783.3 950.0,785.3C957.0,787.3 972.4,790.7 984.9,793.4C997.4,796.1 1014.0,797.4 1025.1,801.4C1036.3,805.5 1042.8,810.0 1051.9,817.6C1060.9,825.2 1072.1,838.5 1079.4,846.9C1086.7,855.4 1091.1,860.4 1095.7,868.4C1100.3,876.4 1102.8,884.0 1106.9,895.2C1111.0,906.4 1116.5,923.3 1120.4,935.5C1124.3,947.7 1128.8,962.9 1130.5,968.4 M816.3,591.8C816.5,593.0 816.9,594.0 817.4,599.2C817.9,604.4 817.9,614.6 819.3,623.1C820.8,631.6 822.5,642.0 826.0,650.2C829.5,658.4 835.1,666.2 840.0,672.2C845.0,678.2 850.6,681.8 855.9,686.3C861.2,690.7 867.3,695.6 871.7,699.0C876.2,702.4 879.0,704.5 882.8,706.8C886.5,709.0 890.1,710.2 894.2,712.5C898.4,714.8 903.6,718.0 907.7,720.7C911.8,723.4 915.9,725.7 918.9,728.9C921.9,732.1 923.8,736.2 925.7,739.8C927.5,743.5 928.7,747.2 930.0,750.9C931.2,754.6 931.9,758.0 933.1,761.8C934.3,765.7 935.2,770.6 936.9,774.0C938.7,777.4 941.3,780.2 943.7,782.2C946.0,784.3 943.9,784.3 950.9,786.3C957.9,788.3 973.2,791.7 985.7,794.4C998.2,797.1 1014.8,798.4 1025.9,802.4C1037.1,806.5 1043.6,811.0 1052.7,818.6C1061.7,826.1 1072.9,839.5 1080.2,847.9C1087.5,856.4 1091.9,861.3 1096.5,869.4C1101.1,877.4 1103.6,885.0 1107.7,896.2C1111.9,907.4 1117.3,924.3 1121.2,936.5C1125.2,948.7 1129.7,963.9 1131.3,969.4 M816.3,591.8C816.5,593.1 817.0,594.2 817.6,599.6C818.2,604.9 818.3,615.1 819.9,623.7C821.4,632.3 823.3,642.9 826.8,651.2C830.3,659.4 835.9,667.2 840.9,673.2C845.8,679.2 851.4,682.8 856.7,687.3C862.0,691.7 868.1,696.5 872.6,700.0C877.0,703.4 879.8,705.5 883.6,707.8C887.3,710.0 890.9,711.2 895.0,713.5C899.2,715.8 904.4,719.0 908.5,721.7C912.6,724.4 916.8,726.7 919.8,729.9C922.7,733.1 924.7,737.2 926.5,740.8C928.3,744.5 929.5,748.2 930.8,751.9C932.0,755.6 932.8,759.0 933.9,762.8C935.1,766.7 936.0,771.6 937.7,775.0C939.5,778.4 942.2,781.1 944.5,783.2C946.8,785.2 944.7,785.3 951.7,787.3C958.7,789.3 974.0,792.7 986.5,795.4C999.0,798.0 1015.6,799.4 1026.7,803.4C1037.9,807.4 1044.4,812.0 1053.5,819.5C1062.5,827.1 1073.7,840.4 1081.0,848.9C1088.3,857.4 1092.7,862.3 1097.3,870.4C1101.9,878.4 1104.4,886.0 1108.6,897.2C1112.7,908.3 1118.1,925.3 1122.0,937.5C1126.0,949.7 1130.5,964.9 1132.2,970.4 M816.3,591.8C816.6,593.1 817.2,594.5 817.9,599.9C818.6,605.3 818.8,615.7 820.4,624.4C822.0,633.1 824.1,643.9 827.6,652.2C831.2,660.5 836.7,668.2 841.7,674.2C846.7,680.2 852.2,683.8 857.5,688.2C862.8,692.7 868.9,697.5 873.4,701.0C877.8,704.4 880.6,706.5 884.4,708.7C888.1,711.0 891.7,712.2 895.8,714.5C900.0,716.8 905.2,719.9 909.3,722.7C913.4,725.4 917.6,727.7 920.6,730.9C923.6,734.1 925.5,738.1 927.3,741.8C929.1,745.5 930.3,749.2 931.6,752.9C932.8,756.5 933.6,760.0 934.7,763.8C935.9,767.7 936.8,772.6 938.5,776.0C940.3,779.4 943.0,782.1 945.3,784.2C947.6,786.2 945.5,786.2 952.5,788.3C959.5,790.3 974.8,793.7 987.3,796.3C999.8,799.0 1016.4,800.4 1027.5,804.4C1038.7,808.4 1045.2,812.9 1054.3,820.5C1063.3,828.1 1074.5,841.4 1081.8,849.9C1089.1,858.4 1093.5,863.3 1098.1,871.4C1102.7,879.4 1105.2,887.0 1109.4,898.1C1113.5,909.3 1118.9,926.3 1122.8,938.5C1126.8,950.7 1131.3,965.9 1133.0,971.4 M816.3,591.8C816.6,593.2 817.4,594.7 818.2,600.2C818.9,605.8 819.2,616.2 820.9,625.0C822.7,633.9 824.8,644.8 828.4,653.2C832.0,661.5 837.5,669.1 842.5,675.2C847.5,681.2 853.0,684.8 858.3,689.2C863.6,693.7 869.7,698.5 874.2,701.9C878.7,705.4 881.4,707.5 885.2,709.7C888.9,712.0 892.5,713.1 896.7,715.5C900.8,717.8 906.0,720.9 910.1,723.7C914.3,726.4 918.4,728.7 921.4,731.9C924.4,735.1 926.3,739.1 928.1,742.8C930.0,746.5 931.2,750.2 932.4,753.9C933.6,757.5 934.4,761.0 935.5,764.8C936.7,768.6 937.6,773.6 939.4,777.0C941.1,780.4 943.8,783.1 946.1,785.2C948.4,787.2 946.3,787.2 953.3,789.3C960.3,791.3 975.6,794.6 988.1,797.3C1000.6,800.0 1017.2,801.4 1028.4,805.4C1039.5,809.4 1046.1,813.9 1055.1,821.5C1064.2,829.1 1075.3,842.4 1082.6,850.9C1089.9,859.4 1094.3,864.3 1098.9,872.3C1103.5,880.4 1106.1,888.0 1110.2,899.1C1114.3,910.3 1119.7,927.2 1123.7,939.4C1127.6,951.7 1132.1,966.9 1133.8,972.4" fill="none" stroke="#111" stroke-width="1.4300000000000002" stroke-linejoin="round" stroke-linecap="round" opacity="1.0"/>
<path d="M816.3,591.8C816.4,592.9 816.5,593.8 816.9,598.6C817.2,603.5 817.0,612.9 818.3,621.0C819.6,629.1 821.3,639.2 824.7,647.2C828.0,655.1 833.4,663.0 838.6,668.9C843.8,674.7 850.4,678.1 856.0,682.1C861.5,686.1 867.3,689.9 871.8,693.1C876.3,696.2 879.0,698.4 882.8,700.8C886.6,703.3 890.1,705.3 894.5,707.7C899.0,710.0 905.0,712.5 909.6,714.9C914.2,717.2 918.6,718.9 922.2,721.9C925.7,724.9 928.3,728.8 930.7,732.7C933.1,736.6 934.8,741.1 936.3,745.3C937.9,749.5 938.8,753.8 940.1,757.8C941.4,761.9 942.4,766.5 944.1,769.7C945.9,773.0 948.2,775.3 950.7,777.4C953.3,779.4 952.7,779.9 959.4,782.0C966.1,784.1 979.9,787.2 991.0,790.0C1002.1,792.9 1016.1,794.5 1026.0,799.0C1036.0,803.5 1042.2,809.0 1050.7,816.8C1059.3,824.7 1070.4,837.7 1077.5,846.1C1084.6,854.6 1088.9,859.5 1093.4,867.6C1097.9,875.6 1100.5,883.2 1104.4,894.4C1108.4,905.5 1113.5,922.5 1117.1,934.7C1120.8,946.9 1124.7,962.1 1126.2,967.6" fill="none" stroke="#111" stroke-width="1.56" stroke-linejoin="round" stroke-linecap="round" opacity="1.0"/>
<path d="M816.3,591.8C816.4,592.9 816.5,593.9 816.9,598.6C817.2,603.4 817.0,612.3 818.3,620.2C819.6,628.1 821.4,638.1 824.8,646.0C828.2,653.8 833.2,661.7 838.6,667.4C844.1,673.0 851.8,676.1 857.5,679.7C863.3,683.3 868.9,686.1 873.3,689.0C877.8,691.8 880.6,694.1 884.4,696.7C888.2,699.4 891.6,702.3 896.3,704.6C901.1,707.0 907.9,708.8 912.9,710.8C918.0,712.9 922.8,714.0 926.9,716.7C930.9,719.4 934.3,723.2 937.2,727.3C940.1,731.4 942.3,736.8 944.2,741.5C946.1,746.3 947.2,751.3 948.6,755.6C950.1,759.9 951.1,764.2 952.8,767.3C954.6,770.4 956.5,772.3 959.2,774.4C962.0,776.4 963.0,777.4 969.4,779.6C975.8,781.8 988.0,784.5 997.7,787.5C1007.4,790.5 1018.9,792.5 1027.6,797.4C1036.4,802.3 1042.2,808.8 1050.3,816.9C1058.4,825.1 1069.3,837.7 1076.2,846.1C1083.2,854.5 1087.5,859.5 1091.9,867.6C1096.3,875.6 1098.9,883.2 1102.6,894.4C1106.4,905.5 1111.2,922.5 1114.6,934.7C1117.9,946.9 1121.3,962.1 1122.6,967.6" fill="none" stroke="#111" stroke-width="1.56" stroke-linejoin="round" stroke-linecap="round" opacity="1.0"/>
<path d="M816.3,591.8C816.4,592.9 816.5,594.0 816.9,598.6C817.2,603.2 817.0,611.7 818.3,619.4C819.7,627.1 821.6,637.0 825.0,644.8C828.4,652.5 833.0,660.4 838.7,665.9C844.4,671.3 853.1,674.2 859.1,677.4C865.2,680.6 870.4,682.3 874.9,684.9C879.4,687.4 882.1,689.9 886.0,692.6C889.8,695.4 893.1,699.2 898.1,701.6C903.2,703.9 910.7,705.2 916.3,706.8C921.9,708.5 927.0,709.0 931.6,711.5C936.2,714.0 940.3,717.6 943.7,721.9C947.2,726.3 949.9,732.5 952.1,737.8C954.4,743.0 955.6,748.9 957.2,753.5C958.7,758.0 959.7,761.9 961.5,764.9C963.3,767.9 964.8,769.3 967.8,771.4C970.8,773.4 973.3,774.8 979.4,777.1C985.5,779.4 996.2,781.9 1004.5,785.0C1012.8,788.1 1021.7,790.4 1029.2,795.8C1036.8,801.1 1042.2,808.7 1049.8,817.1C1057.5,825.4 1068.3,837.7 1075.0,846.1C1081.7,854.5 1086.0,859.5 1090.3,867.6C1094.6,875.6 1097.2,883.2 1100.8,894.4C1104.5,905.5 1108.9,922.5 1112.0,934.7C1115.0,946.9 1117.9,962.1 1119.1,967.6" fill="none" stroke="#111" stroke-width="1.56" stroke-linejoin="round" stroke-linecap="round" opacity="1.0"/>
<path d="M816.3,591.8C816.4,592.9 816.5,594.2 816.9,598.6C817.2,603.1 816.9,611.1 818.3,618.6C819.7,626.1 821.7,635.9 825.1,643.6C828.5,651.2 832.8,659.1 838.7,664.4C844.7,669.6 854.4,672.3 860.7,675.0C867.0,677.8 872.0,678.5 876.4,680.8C880.9,683.0 883.6,685.6 887.5,688.5C891.5,691.5 894.6,696.2 899.9,698.5C905.3,700.9 913.6,701.5 919.7,702.8C925.8,704.1 931.2,704.0 936.3,706.3C941.4,708.6 946.3,712.0 950.3,716.6C954.2,721.2 957.4,728.2 960.0,734.0C962.6,739.8 964.0,746.5 965.7,751.3C967.4,756.0 968.4,759.6 970.2,762.5C972.0,765.3 973.1,766.3 976.3,768.4C979.5,770.4 983.6,772.3 989.5,774.6C995.3,777.0 1004.4,779.2 1011.3,782.5C1018.1,785.7 1024.5,788.4 1030.8,794.2C1037.2,799.9 1042.2,808.5 1049.4,817.2C1056.5,825.8 1067.2,837.7 1073.8,846.1C1080.3,854.5 1084.5,859.5 1088.7,867.6C1092.9,875.6 1095.6,883.2 1099.0,894.4C1102.5,905.5 1106.7,922.5 1109.4,934.7C1112.1,946.9 1114.4,962.1 1115.5,967.6" fill="none" stroke="#111" stroke-width="1.56" stroke-linejoin="round" stroke-linecap="round" opacity="1.0"/>
<path d="M816.3,591.8C816.4,592.9 816.5,594.3 816.9,598.6C817.2,603.0 816.9,610.5 818.3,617.8C819.7,625.0 821.9,634.8 825.3,642.4C828.7,649.9 832.6,657.8 838.8,662.9C844.9,667.9 855.7,670.4 862.3,672.7C868.8,675.0 873.5,674.7 878.0,676.7C882.5,678.6 885.2,681.3 889.1,684.4C893.1,687.6 896.1,693.1 901.7,695.5C907.4,697.9 916.5,697.9 923.1,698.8C929.6,699.7 935.4,699.0 941.0,701.1C946.7,703.2 952.3,706.4 956.8,711.2C961.3,716.1 965.0,723.9 967.9,730.2C970.8,736.5 972.4,744.1 974.2,749.1C976.0,754.1 977.1,757.3 978.9,760.0C980.7,762.7 981.4,763.3 984.9,765.3C988.3,767.4 994.0,769.7 999.5,772.2C1005.0,774.6 1012.5,776.6 1018.0,780.0C1023.5,783.4 1027.3,786.3 1032.4,792.5C1037.6,798.8 1042.2,808.3 1048.9,817.3C1055.6,826.2 1066.2,837.7 1072.5,846.1C1078.9,854.5 1083.0,859.5 1087.1,867.6C1091.3,875.6 1094.0,883.2 1097.2,894.4C1100.5,905.5 1104.4,922.5 1106.8,934.7C1109.2,946.9 1111.0,962.1 1111.9,967.6" fill="none" stroke="#111" stroke-width="1.56" stroke-linejoin="round" stroke-linecap="round" opacity="1.0"/>
<path d="M870.3,823.4 L835.5,811.0 M845.8,808.8 L835.5,811.0 L842.1,819.2" fill="none" stroke="#111" stroke-width="1.6" stroke-linecap="round" stroke-linejoin="round"/>
<text x="871.5" y="838.0" font-family="Liberation Sans, sans-serif" font-size="28" fill="#1a1a1a">1st</text>
<path d="M915.1,746.8 L878.8,746.8 M887.8,741.3 L878.8,746.8 L887.8,752.3" fill="none" stroke="#111" stroke-width="1.6" stroke-linecap="round" stroke-linejoin="round"/>
<path d="M1003.3,566.6 L967.1,566.6 M976.1,561.1 L967.1,566.6 L976.1,572.1" fill="none" stroke="#111" stroke-width="1.6" stroke-linecap="round" stroke-linejoin="round"/>
<path d="M101.9,1507.5C102.4,1500.7 103.6,1481.6 104.7,1467.0C105.8,1452.5 106.7,1438.5 108.5,1420.0C110.3,1401.6 112.7,1374.9 115.5,1356.4C118.2,1337.9 122.1,1324.1 124.8,1309.1C127.6,1294.1 129.5,1279.0 131.8,1266.5C134.2,1254.1 136.1,1242.8 138.9,1234.4C141.7,1226.0 144.5,1220.4 148.4,1216.2C152.4,1211.9 154.7,1211.7 162.6,1208.9C170.5,1206.2 182.6,1202.2 195.9,1199.4C209.2,1196.7 228.9,1195.1 242.5,1192.5C256.1,1189.9 268.1,1187.1 277.7,1183.7C287.4,1180.4 292.5,1175.6 300.2,1172.4C307.9,1169.3 314.7,1167.5 324.2,1164.9C333.7,1162.3 342.3,1159.9 357.1,1156.7C372.0,1153.4 397.0,1148.2 413.3,1145.2C429.7,1142.3 442.9,1140.3 455.2,1138.9C467.4,1137.6 481.6,1137.2 486.9,1136.9" fill="none" stroke="#111" stroke-width="2.4" stroke-linejoin="round" stroke-linecap="round"/>
<path d="M101.9,1507.5C102.0,1500.6 102.1,1480.9 102.7,1466.0C103.3,1451.1 103.9,1436.6 105.6,1418.0C107.2,1399.4 109.8,1372.9 112.5,1354.4C115.3,1335.9 119.3,1322.1 122.1,1307.1C124.8,1292.1 126.7,1277.1 129.0,1264.5C131.4,1251.9 133.4,1240.2 136.2,1231.5C139.0,1222.8 141.8,1216.8 145.7,1212.5C149.7,1208.2 152.0,1208.3 159.9,1205.5C167.7,1202.7 179.6,1198.7 193.0,1195.9C206.4,1193.2 226.4,1191.6 240.2,1188.8C254.0,1186.0 266.0,1182.9 275.8,1179.4C285.5,1175.8 290.7,1170.7 298.5,1167.5C306.3,1164.4 313.1,1162.8 322.6,1160.5C332.0,1158.2 340.2,1156.5 355.1,1153.5C370.1,1150.5 395.8,1145.4 412.5,1142.7C429.2,1140.1 442.4,1138.6 455.4,1137.6C468.5,1136.6 485.0,1136.7 490.9,1136.5 M101.9,1507.5C102.1,1500.6 102.4,1481.1 103.1,1466.3C103.9,1451.4 104.5,1437.0 106.2,1418.4C107.9,1399.9 110.4,1373.3 113.2,1354.8C115.9,1336.4 119.9,1322.5 122.7,1307.6C125.4,1292.6 127.3,1277.5 129.7,1265.0C132.0,1252.4 134.0,1240.8 136.8,1232.2C139.6,1223.5 142.4,1217.6 146.3,1213.3C150.3,1209.0 152.6,1209.0 160.5,1206.3C168.4,1203.5 180.3,1199.5 193.7,1196.7C207.0,1193.9 226.9,1192.4 240.7,1189.6C254.5,1186.9 266.5,1183.8 276.2,1180.3C285.9,1176.8 291.1,1171.7 298.8,1168.6C306.6,1165.5 313.5,1163.9 322.9,1161.5C332.4,1159.1 340.6,1157.2 355.6,1154.2C370.5,1151.2 396.1,1146.0 412.7,1143.3C429.3,1140.6 442.5,1139.0 455.4,1137.9C468.3,1136.8 484.2,1136.8 490.0,1136.6 M101.9,1507.5C102.2,1500.6 102.7,1481.2 103.6,1466.5C104.4,1451.7 105.1,1437.4 106.9,1418.9C108.6,1400.4 111.1,1373.8 113.8,1355.3C116.6,1336.8 120.6,1323.0 123.3,1308.0C126.0,1293.0 127.9,1278.0 130.3,1265.4C132.6,1252.9 134.6,1241.3 137.4,1232.8C140.2,1224.3 143.0,1218.4 146.9,1214.1C150.9,1209.8 153.2,1209.8 161.1,1207.0C169.0,1204.3 181.0,1200.3 194.3,1197.5C207.7,1194.7 227.5,1193.1 241.2,1190.4C254.9,1187.7 267.0,1184.8 276.6,1181.3C286.3,1177.9 291.5,1172.8 299.2,1169.7C307.0,1166.6 313.8,1164.9 323.3,1162.4C332.8,1160.0 341.1,1158.0 356.0,1154.9C371.0,1151.8 396.3,1146.6 412.9,1143.8C429.4,1141.0 442.6,1139.4 455.3,1138.2C468.0,1137.0 483.5,1136.9 489.1,1136.7 M101.9,1507.5C102.3,1500.7 103.1,1481.4 104.0,1466.7C105.0,1452.0 105.8,1437.8 107.5,1419.3C109.3,1400.9 111.8,1374.2 114.5,1355.7C117.2,1337.3 121.2,1323.4 123.9,1308.5C126.7,1293.5 128.6,1278.4 130.9,1265.9C133.2,1253.4 135.2,1241.9 138.0,1233.4C140.8,1225.0 143.6,1219.2 147.5,1214.9C151.5,1210.7 153.8,1210.6 161.7,1207.8C169.6,1205.0 181.6,1201.0 194.9,1198.3C208.3,1195.5 228.0,1193.9 241.7,1191.3C255.4,1188.6 267.4,1185.7 277.1,1182.3C286.7,1178.9 291.9,1173.9 299.6,1170.8C307.4,1167.6 314.2,1166.0 323.7,1163.4C333.1,1160.9 341.6,1158.8 356.5,1155.6C371.4,1152.4 396.6,1147.2 413.1,1144.4C429.5,1141.5 442.7,1139.8 455.3,1138.5C467.8,1137.2 482.7,1137.0 488.2,1136.7 M101.9,1507.5C102.3,1500.7 103.4,1481.5 104.5,1466.9C105.5,1452.3 106.4,1438.2 108.2,1419.8C109.9,1401.3 112.4,1374.7 115.1,1356.2C117.9,1337.7 121.8,1323.9 124.5,1308.9C127.3,1293.9 129.2,1278.8 131.5,1266.3C133.9,1253.9 135.8,1242.5 138.6,1234.1C141.4,1225.7 144.2,1220.0 148.1,1215.7C152.1,1211.5 154.4,1211.3 162.3,1208.6C170.2,1205.8 182.3,1201.8 195.6,1199.1C208.9,1196.3 228.6,1194.7 242.2,1192.1C255.9,1189.5 267.9,1186.6 277.5,1183.3C287.1,1179.9 292.3,1175.0 300.0,1171.9C307.8,1168.7 314.5,1167.0 324.0,1164.4C333.5,1161.8 342.0,1159.6 356.9,1156.3C371.8,1153.1 396.9,1147.9 413.2,1144.9C429.6,1142.0 442.8,1140.1 455.2,1138.8C467.5,1137.4 482.0,1137.1 487.4,1136.8 M101.9,1507.5C102.4,1500.7 103.7,1481.7 104.9,1467.2C106.1,1452.6 107.0,1438.7 108.8,1420.2C110.6,1401.8 113.1,1375.1 115.8,1356.6C118.5,1338.2 122.4,1324.3 125.2,1309.3C127.9,1294.4 129.8,1279.2 132.1,1266.8C134.5,1254.3 136.4,1243.1 139.2,1234.7C142.0,1226.4 144.8,1220.8 148.7,1216.6C152.7,1212.3 155.0,1212.1 162.9,1209.3C170.9,1206.5 182.9,1202.6 196.2,1199.8C209.5,1197.1 229.1,1195.5 242.7,1192.9C256.4,1190.3 268.4,1187.6 278.0,1184.2C287.6,1180.9 292.7,1176.1 300.4,1173.0C308.1,1169.8 314.9,1168.0 324.4,1165.4C333.8,1162.7 342.5,1160.3 357.3,1157.0C372.2,1153.7 397.1,1148.5 413.4,1145.5C429.7,1142.5 443.0,1140.5 455.1,1139.1C467.3,1137.7 481.3,1137.3 486.5,1136.9 M101.9,1507.5C102.5,1500.8 104.1,1481.8 105.3,1467.4C106.6,1452.9 107.6,1439.1 109.5,1420.7C111.3,1402.3 113.7,1375.6 116.5,1357.1C119.2,1338.6 123.1,1324.8 125.8,1309.8C128.5,1294.8 130.4,1279.6 132.8,1267.2C135.1,1254.8 137.0,1243.7 139.8,1235.4C142.6,1227.1 145.4,1221.6 149.3,1217.4C153.3,1213.1 155.6,1212.9 163.6,1210.1C171.5,1207.3 183.6,1203.3 196.8,1200.6C210.1,1197.9 229.7,1196.3 243.3,1193.7C256.9,1191.2 268.8,1188.5 278.4,1185.2C288.0,1181.9 293.1,1177.2 300.8,1174.1C308.5,1170.9 315.2,1169.1 324.7,1166.3C334.2,1163.6 343.0,1161.1 357.8,1157.7C372.6,1154.3 397.4,1149.1 413.6,1146.0C429.8,1143.0 443.1,1140.9 455.1,1139.4C467.1,1137.9 480.5,1137.4 485.6,1137.0 M101.9,1507.5C102.5,1500.8 104.4,1482.0 105.8,1467.6C107.2,1453.2 108.2,1439.5 110.1,1421.1C112.0,1402.8 114.4,1376.0 117.1,1357.5C119.8,1339.1 123.7,1325.2 126.4,1310.2C129.1,1295.3 131.0,1280.0 133.4,1267.7C135.7,1255.3 137.6,1244.3 140.4,1236.0C143.2,1227.8 146.0,1222.4 149.9,1218.2C153.9,1214.0 156.2,1213.6 164.2,1210.9C172.1,1208.1 184.2,1204.1 197.5,1201.4C210.7,1198.7 230.2,1197.1 243.8,1194.6C257.3,1192.0 269.3,1189.4 278.8,1186.2C288.4,1182.9 293.5,1178.3 301.2,1175.2C308.9,1172.0 315.6,1170.1 325.1,1167.3C334.6,1164.5 343.4,1161.9 358.2,1158.4C373.0,1155.0 397.7,1149.7 413.8,1146.6C429.9,1143.5 443.2,1141.3 455.0,1139.7C466.8,1138.1 479.8,1137.5 484.7,1137.0 M101.9,1507.5C102.6,1500.9 104.7,1482.1 106.2,1467.8C107.7,1453.5 108.9,1439.9 110.8,1421.6C112.7,1403.3 115.1,1376.5 117.8,1358.0C120.5,1339.5 124.3,1325.7 127.0,1310.7C129.7,1295.7 131.7,1280.5 134.0,1268.1C136.3,1255.8 138.2,1244.9 141.0,1236.7C143.7,1228.5 146.6,1223.2 150.5,1219.0C154.5,1214.8 156.9,1214.4 164.8,1211.6C172.7,1208.8 184.9,1204.9 198.1,1202.2C211.4,1199.5 230.8,1197.9 244.3,1195.4C257.8,1192.9 269.7,1190.3 279.3,1187.2C288.8,1184.0 293.9,1179.4 301.6,1176.3C309.3,1173.1 315.9,1171.1 325.4,1168.3C334.9,1165.4 343.9,1162.6 358.7,1159.1C373.4,1155.6 397.9,1150.3 414.0,1147.1C430.0,1144.0 443.3,1141.7 455.0,1140.0C466.6,1138.3 479.0,1137.6 483.8,1137.1 M101.9,1507.5C102.7,1500.9 105.1,1482.3 106.7,1468.1C108.3,1453.8 109.5,1440.3 111.4,1422.0C113.4,1403.8 115.7,1376.9 118.4,1358.4C121.1,1340.0 124.9,1326.1 127.6,1311.1C130.3,1296.2 132.3,1280.9 134.6,1268.6C136.9,1256.3 138.8,1245.4 141.6,1237.3C144.3,1229.2 147.1,1223.9 151.1,1219.8C155.1,1215.6 157.5,1215.2 165.4,1212.4C173.3,1209.6 185.5,1205.6 198.8,1202.9C212.0,1200.3 231.3,1198.7 244.8,1196.2C258.3,1193.7 270.2,1191.3 279.7,1188.1C289.3,1185.0 294.3,1180.5 302.0,1177.3C309.6,1174.2 316.2,1172.2 325.8,1169.3C335.3,1166.3 344.4,1163.4 359.1,1159.8C373.8,1156.2 398.2,1151.0 414.2,1147.7C430.1,1144.4 443.4,1142.0 454.9,1140.3C466.4,1138.5 478.3,1137.7 483.0,1137.2" fill="none" stroke="#111" stroke-width="1.4300000000000002" stroke-linejoin="round" stroke-linecap="round" opacity="1.0"/>
<path d="M101.9,1507.5C102.7,1500.7 105.0,1481.6 106.7,1467.0C108.3,1452.4 109.6,1438.3 111.7,1419.9C113.9,1401.4 116.6,1374.9 119.4,1356.4C122.1,1338.0 125.6,1324.1 128.1,1309.1C130.6,1294.1 132.3,1279.5 134.4,1266.5C136.6,1253.6 138.3,1240.7 140.8,1231.2C143.3,1221.8 144.5,1214.8 149.5,1209.7C154.6,1204.5 159.5,1204.3 171.0,1200.4C182.4,1196.5 202.5,1191.2 218.3,1186.2C234.0,1181.3 251.6,1174.3 265.4,1170.7C279.2,1167.2 291.2,1166.3 301.0,1164.9C310.8,1163.6 312.5,1163.9 324.2,1162.5C335.8,1161.2 351.3,1159.0 370.9,1156.9C390.5,1154.7 420.6,1151.7 441.8,1149.7C463.1,1147.7 470.6,1147.2 498.5,1145.0C526.4,1142.8 590.7,1137.9 609.2,1136.5" fill="none" stroke="#333" stroke-width="1.3" stroke-linejoin="round" stroke-linecap="round" opacity="1.0"/>
<path d="M413.6,1144.1C420.6,1143.1 441.2,1139.5 456.0,1138.3C470.7,1137.0 494.3,1136.8 502.0,1136.5" fill="none" stroke="#333" stroke-width="1.3" stroke-linejoin="round" stroke-linecap="round" opacity="1.0"/>
<path d="M101.9,1196.2C102.0,1196.9 101.9,1196.1 102.4,1200.4C102.9,1204.6 102.8,1214.2 104.8,1221.7C106.7,1229.2 111.0,1238.6 114.1,1245.3C117.3,1251.9 119.7,1255.9 123.7,1261.8C127.6,1267.8 131.9,1276.5 137.8,1280.8C143.7,1285.1 149.6,1283.8 159.1,1287.7C168.5,1291.6 184.8,1300.0 194.6,1304.3C204.5,1308.7 209.0,1310.6 218.3,1313.8C227.5,1317.0 240.8,1319.8 250.0,1323.5C259.2,1327.3 266.2,1331.6 273.5,1336.1C280.9,1340.6 288.8,1345.3 294.2,1350.6C299.6,1356.0 302.4,1361.3 305.9,1368.1C309.4,1374.9 311.5,1382.8 315.1,1391.4C318.6,1400.0 322.7,1409.9 327.3,1419.7C331.8,1429.6 337.9,1439.8 342.4,1450.2C346.8,1460.6 350.5,1471.7 354.2,1482.1C357.9,1492.6 361.1,1502.5 364.4,1512.7C367.7,1522.9 371.4,1534.1 374.0,1543.3C376.5,1552.5 379.0,1564.0 380.0,1568.1" fill="none" stroke="#111" stroke-width="2.4" stroke-linejoin="round" stroke-linecap="round"/>
<path d="M101.9,1196.2C102.0,1196.9 101.8,1196.0 102.2,1200.2C102.7,1204.3 102.6,1213.8 104.5,1221.2C106.4,1228.7 110.6,1238.0 113.7,1244.6C116.9,1251.2 119.2,1255.1 123.1,1261.0C127.0,1266.8 131.3,1275.6 137.1,1279.8C143.0,1283.9 148.9,1282.1 158.4,1285.8C167.9,1289.6 184.1,1297.9 194.0,1302.3C203.9,1306.6 208.4,1308.5 217.6,1311.7C226.9,1314.8 240.2,1317.5 249.4,1321.1C258.6,1324.7 265.5,1329.0 272.9,1333.4C280.3,1337.8 288.0,1342.4 293.5,1347.7C299.1,1353.0 302.4,1358.3 306.1,1365.2C309.8,1372.0 311.9,1380.1 315.6,1388.8C319.3,1397.4 323.4,1407.5 328.1,1417.2C332.9,1426.9 339.3,1436.9 344.0,1447.1C348.8,1457.3 352.7,1468.1 356.6,1478.6C360.5,1489.1 363.8,1499.7 367.5,1510.2C371.2,1520.7 375.5,1532.2 378.6,1541.7C381.8,1551.2 385.1,1562.8 386.4,1567.0 M101.9,1196.2C102.0,1196.9 101.8,1196.0 102.3,1200.2C102.7,1204.4 102.6,1213.9 104.6,1221.3C106.5,1228.8 110.7,1238.1 113.8,1244.8C116.9,1251.4 119.3,1255.3 123.3,1261.2C127.2,1267.0 131.4,1275.8 137.3,1280.0C143.2,1284.2 149.1,1282.4 158.6,1286.2C168.0,1290.0 184.3,1298.4 194.1,1302.7C204.0,1307.0 208.6,1309.0 217.8,1312.1C227.0,1315.3 240.3,1318.0 249.5,1321.7C258.7,1325.3 265.7,1329.5 273.0,1334.0C280.4,1338.4 288.2,1343.0 293.7,1348.3C299.2,1353.6 302.4,1359.0 306.0,1365.8C309.7,1372.7 311.8,1380.7 315.5,1389.3C319.1,1398.0 323.3,1408.0 328.0,1417.8C332.7,1427.5 339.0,1437.5 343.7,1447.8C348.3,1458.1 352.2,1468.9 356.0,1479.4C359.9,1489.9 363.2,1500.3 366.8,1510.7C370.4,1521.2 374.6,1532.6 377.6,1542.0C380.6,1551.5 383.8,1563.1 385.0,1567.3 M101.9,1196.2C102.0,1196.9 101.9,1196.1 102.3,1200.3C102.8,1204.5 102.7,1214.0 104.6,1221.4C106.6,1228.9 110.8,1238.2 113.9,1244.9C117.0,1251.5 119.5,1255.5 123.4,1261.4C127.3,1267.2 131.5,1276.0 137.4,1280.2C143.3,1284.4 149.2,1282.8 158.7,1286.7C168.2,1290.5 184.4,1298.9 194.3,1303.2C204.1,1307.5 208.7,1309.4 217.9,1312.6C227.2,1315.8 240.5,1318.5 249.7,1322.2C258.9,1325.9 265.8,1330.1 273.2,1334.6C280.5,1339.0 288.3,1343.7 293.8,1349.0C299.3,1354.3 302.4,1359.7 306.0,1366.5C309.6,1373.3 311.7,1381.3 315.4,1389.9C319.0,1398.6 323.1,1408.6 327.8,1418.3C332.4,1428.1 338.7,1438.2 343.3,1448.5C347.9,1458.8 351.7,1469.7 355.5,1480.2C359.3,1490.7 362.6,1500.9 366.1,1511.3C369.7,1521.7 373.7,1533.0 376.6,1542.4C379.5,1551.8 382.4,1563.3 383.6,1567.5 M101.9,1196.2C102.0,1196.9 101.9,1196.1 102.3,1200.3C102.8,1204.5 102.7,1214.1 104.7,1221.5C106.6,1229.0 110.9,1238.4 114.0,1245.0C117.1,1251.7 119.6,1255.6 123.5,1261.5C127.4,1267.4 131.7,1276.2 137.6,1280.5C143.5,1284.7 149.4,1283.2 158.8,1287.1C168.3,1290.9 184.5,1299.3 194.4,1303.6C204.3,1308.0 208.8,1309.9 218.1,1313.1C227.3,1316.3 240.6,1319.1 249.8,1322.7C259.0,1326.4 266.0,1330.7 273.3,1335.2C280.7,1339.7 288.5,1344.3 294.0,1349.6C299.4,1355.0 302.4,1360.3 306.0,1367.2C309.5,1374.0 311.6,1381.9 315.2,1390.5C318.8,1399.1 323.0,1409.1 327.6,1418.9C332.2,1428.7 338.3,1438.8 342.9,1449.2C347.5,1459.5 351.2,1470.5 355.0,1481.0C358.7,1491.4 362.0,1501.6 365.5,1511.9C368.9,1522.2 372.7,1533.5 375.5,1542.8C378.3,1552.1 381.0,1563.6 382.1,1567.7 M101.9,1196.2C102.0,1196.9 101.9,1196.1 102.4,1200.4C102.8,1204.6 102.8,1214.2 104.7,1221.6C106.7,1229.1 110.9,1238.5 114.1,1245.2C117.2,1251.9 119.7,1255.8 123.6,1261.7C127.5,1267.7 131.8,1276.4 137.7,1280.7C143.6,1285.0 149.5,1283.6 159.0,1287.5C168.5,1291.4 184.7,1299.8 194.6,1304.1C204.4,1308.5 209.0,1310.3 218.2,1313.5C227.4,1316.7 240.8,1319.6 250.0,1323.3C259.2,1327.0 266.1,1331.3 273.5,1335.8C280.8,1340.3 288.7,1345.0 294.1,1350.3C299.5,1355.6 302.4,1361.0 305.9,1367.8C309.4,1374.6 311.5,1382.5 315.1,1391.1C318.7,1399.7 322.8,1409.7 327.4,1419.5C331.9,1429.3 338.0,1439.5 342.5,1449.9C347.1,1460.2 350.7,1471.3 354.5,1481.7C358.2,1492.2 361.4,1502.2 364.8,1512.4C368.1,1522.7 371.8,1533.9 374.5,1543.1C377.1,1552.4 379.7,1563.8 380.7,1568.0 M101.9,1196.2C102.0,1196.9 101.9,1196.2 102.4,1200.4C102.9,1204.7 102.8,1214.2 104.8,1221.7C106.7,1229.2 111.0,1238.6 114.2,1245.3C117.3,1252.0 119.8,1256.0 123.7,1261.9C127.7,1267.9 131.9,1276.6 137.9,1280.9C143.8,1285.3 149.7,1284.0 159.1,1287.9C168.6,1291.8 184.8,1300.2 194.7,1304.6C204.6,1308.9 209.1,1310.8 218.4,1314.0C227.6,1317.2 240.9,1320.1 250.1,1323.8C259.3,1327.5 266.2,1331.8 273.6,1336.4C281.0,1340.9 288.9,1345.6 294.2,1351.0C299.6,1356.3 302.4,1361.7 305.9,1368.5C309.4,1375.3 311.4,1383.1 315.0,1391.7C318.5,1400.3 322.6,1410.2 327.2,1420.0C331.7,1429.8 337.7,1440.1 342.2,1450.5C346.6,1461.0 350.3,1472.1 353.9,1482.5C357.6,1492.9 360.8,1502.8 364.1,1513.0C367.3,1523.2 370.9,1534.3 373.4,1543.5C376.0,1552.7 378.3,1564.1 379.3,1568.2 M101.9,1196.2C102.0,1196.9 101.9,1196.2 102.4,1200.5C102.9,1204.7 102.9,1214.3 104.8,1221.8C106.8,1229.3 111.1,1238.8 114.3,1245.5C117.4,1252.2 119.9,1256.2 123.8,1262.1C127.8,1268.1 132.1,1276.8 138.0,1281.2C143.9,1285.6 149.8,1284.4 159.3,1288.3C168.7,1292.3 185.0,1300.7 194.8,1305.0C204.7,1309.4 209.3,1311.3 218.5,1314.5C227.7,1317.7 241.0,1320.6 250.2,1324.4C259.5,1328.1 266.4,1332.4 273.7,1337.0C281.1,1341.5 289.0,1346.3 294.4,1351.6C299.7,1357.0 302.5,1362.4 305.9,1369.1C309.3,1375.9 311.3,1383.7 314.9,1392.3C318.4,1400.8 322.5,1410.8 327.0,1420.6C331.5,1430.4 337.4,1440.8 341.8,1451.2C346.2,1461.7 349.8,1472.9 353.4,1483.3C357.0,1493.7 360.2,1503.5 363.4,1513.6C366.6,1523.7 370.0,1534.7 372.4,1543.8C374.8,1553.0 376.9,1564.4 377.8,1568.5 M101.9,1196.2C102.0,1196.9 101.9,1196.2 102.4,1200.5C102.9,1204.8 102.9,1214.4 104.9,1221.9C106.9,1229.4 111.2,1238.9 114.3,1245.6C117.5,1252.3 120.0,1256.3 123.9,1262.3C127.9,1268.3 132.2,1277.0 138.1,1281.4C144.0,1285.8 149.9,1284.7 159.4,1288.7C168.9,1292.8 185.1,1301.1 195.0,1305.5C204.8,1309.9 209.4,1311.7 218.6,1314.9C227.9,1318.2 241.2,1321.1 250.4,1324.9C259.6,1328.7 266.5,1333.0 273.9,1337.6C281.2,1342.1 289.2,1346.9 294.5,1352.3C299.8,1357.6 302.5,1363.0 305.8,1369.8C309.2,1376.6 311.2,1384.3 314.7,1392.8C318.2,1401.4 322.3,1411.3 326.8,1421.2C331.2,1431.0 337.1,1441.4 341.4,1451.9C345.8,1462.4 349.3,1473.7 352.9,1484.1C356.4,1494.5 359.6,1504.1 362.7,1514.1C365.8,1524.2 369.1,1535.1 371.4,1544.2C373.6,1553.3 375.6,1564.6 376.4,1568.7 M101.9,1196.2C102.0,1196.9 102.0,1196.3 102.5,1200.6C103.0,1204.9 103.0,1214.5 105.0,1222.0C106.9,1229.5 111.2,1239.0 114.4,1245.8C117.6,1252.5 120.1,1256.5 124.0,1262.5C128.0,1268.5 132.4,1277.2 138.3,1281.7C144.2,1286.1 150.1,1285.1 159.6,1289.2C169.0,1293.2 185.2,1301.6 195.1,1306.0C205.0,1310.3 209.5,1312.2 218.8,1315.4C228.0,1318.6 241.3,1321.6 250.5,1325.4C259.7,1329.2 266.7,1333.6 274.0,1338.2C281.4,1342.8 289.4,1347.6 294.7,1352.9C300.0,1358.3 302.5,1363.7 305.8,1370.4C309.1,1377.2 311.2,1384.9 314.6,1393.4C318.1,1402.0 322.2,1411.9 326.6,1421.7C331.0,1431.6 336.8,1442.1 341.1,1452.6C345.4,1463.1 348.8,1474.5 352.3,1484.9C355.8,1495.2 359.0,1504.8 362.0,1514.7C365.0,1524.7 368.2,1535.5 370.3,1544.6C372.5,1553.6 374.2,1564.9 375.0,1568.9 M101.9,1196.2C102.0,1196.9 102.0,1196.3 102.5,1200.6C103.0,1204.9 103.0,1214.6 105.0,1222.1C107.0,1229.7 111.3,1239.1 114.5,1245.9C117.7,1252.7 120.2,1256.7 124.2,1262.7C128.1,1268.7 132.5,1277.4 138.4,1281.9C144.3,1286.4 150.2,1285.5 159.7,1289.6C169.2,1293.7 185.4,1302.1 195.3,1306.4C205.1,1310.8 209.7,1312.6 218.9,1315.9C228.1,1319.1 241.5,1322.1 250.7,1326.0C259.9,1329.8 266.8,1334.2 274.2,1338.8C281.5,1343.4 289.5,1348.2 294.8,1353.6C300.1,1359.0 302.5,1364.4 305.8,1371.1C309.0,1377.8 311.1,1385.5 314.5,1394.0C317.9,1402.5 322.0,1412.4 326.4,1422.3C330.8,1432.2 336.5,1442.7 340.7,1453.3C344.9,1463.9 348.4,1475.3 351.8,1485.6C355.2,1496.0 358.4,1505.4 361.3,1515.3C364.2,1525.2 367.2,1535.9 369.3,1544.9C371.3,1553.9 372.8,1565.1 373.6,1569.2" fill="none" stroke="#111" stroke-width="1.3" stroke-linejoin="round" stroke-linecap="round" opacity="1.0"/>
<path d="M159.1,1285.8C162.8,1286.8 174.4,1289.7 181.3,1291.9C188.2,1294.0 195.0,1295.9 200.3,1298.6C205.6,1301.3 210.9,1306.5 213.0,1308.0" fill="none" stroke="#444" stroke-width="1.1700000000000002" stroke-linejoin="round" stroke-linecap="round" opacity="1.0"/>
<path d="M148.9,1434.0 L113.1,1421.3 M123.4,1419.1 L113.1,1421.3 L119.7,1429.5" fill="none" stroke="#111" stroke-width="1.6" stroke-linecap="round" stroke-linejoin="round"/>
<text x="150.5" y="1446.5" font-family="Liberation Sans, sans-serif" font-size="28" fill="#1a1a1a">1st</text>
<path d="M814.7,1478.3C815.0,1473.9 815.9,1461.2 816.5,1451.5C817.2,1441.8 816.7,1433.9 818.4,1420.0C820.0,1406.2 823.3,1381.9 826.5,1368.2C829.7,1354.5 833.4,1345.7 837.5,1337.9C841.7,1330.1 844.7,1326.8 851.5,1321.3C858.4,1315.8 869.7,1309.0 878.8,1304.8C888.0,1300.7 894.9,1299.3 906.4,1296.5C918.0,1293.8 935.7,1290.7 948.1,1288.2C960.4,1285.7 972.0,1283.4 980.5,1281.4C989.0,1279.3 994.0,1279.1 998.9,1276.0C1003.8,1272.9 1006.5,1270.2 1010.0,1262.6C1013.4,1255.0 1016.1,1241.2 1019.5,1230.3C1023.0,1219.4 1026.0,1205.5 1030.6,1197.2C1035.2,1189.0 1041.6,1184.3 1047.2,1180.6C1052.7,1176.9 1055.0,1177.1 1063.7,1175.1C1072.5,1173.2 1083.4,1172.6 1099.5,1168.8C1115.5,1165.1 1139.5,1157.5 1159.9,1152.8C1180.3,1148.0 1199.6,1143.1 1221.8,1140.3C1243.9,1137.5 1273.5,1136.8 1292.9,1136.0C1312.2,1135.2 1330.3,1135.5 1337.8,1135.4 M814.7,1478.3C815.0,1473.9 815.9,1461.2 816.5,1451.5C817.2,1441.8 816.7,1433.9 818.4,1420.0C820.0,1406.2 823.3,1381.9 826.5,1368.2C829.7,1354.5 833.4,1345.7 837.5,1337.9C841.7,1330.1 844.7,1326.8 851.5,1321.3C858.4,1315.8 869.7,1309.0 878.8,1304.8C888.0,1300.7 894.9,1299.3 906.4,1296.5C918.0,1293.8 935.1,1290.8 948.1,1288.2C961.0,1285.6 974.7,1283.0 984.3,1280.8C994.0,1278.6 1000.3,1278.3 1005.9,1275.1C1011.6,1271.9 1014.6,1269.2 1018.2,1261.7C1021.8,1254.3 1024.2,1241.0 1027.6,1230.4C1030.9,1219.7 1033.7,1206.1 1038.1,1197.9C1042.5,1189.7 1048.5,1184.9 1053.9,1181.2C1059.2,1177.4 1061.6,1177.5 1070.2,1175.4C1078.8,1173.3 1089.6,1172.2 1105.2,1168.5C1120.8,1164.7 1143.6,1157.7 1163.9,1153.0C1184.1,1148.4 1204.8,1143.4 1226.9,1140.6C1249.0,1137.8 1277.6,1137.1 1296.5,1136.2C1315.3,1135.3 1332.8,1135.5 1340.1,1135.4 M814.7,1478.3C815.0,1473.9 815.9,1461.2 816.5,1451.5C817.2,1441.8 816.7,1433.9 818.4,1420.0C820.0,1406.2 823.3,1381.9 826.5,1368.2C829.7,1354.5 833.4,1345.7 837.5,1337.9C841.7,1330.1 844.7,1326.8 851.5,1321.3C858.4,1315.8 869.7,1309.0 878.8,1304.8C888.0,1300.7 894.9,1299.3 906.4,1296.5C918.0,1293.8 934.6,1290.9 948.1,1288.2C961.5,1285.5 976.5,1282.7 987.0,1280.4C997.4,1278.1 1004.6,1277.7 1010.7,1274.5C1016.8,1271.3 1020.1,1268.5 1023.8,1261.1C1027.5,1253.8 1029.8,1240.8 1033.0,1230.4C1036.3,1219.9 1039.0,1206.4 1043.2,1198.3C1047.4,1190.1 1053.2,1185.3 1058.4,1181.5C1063.7,1177.7 1066.1,1177.7 1074.6,1175.5C1083.0,1173.3 1093.8,1171.9 1109.1,1168.2C1124.5,1164.5 1146.4,1157.8 1166.6,1153.2C1186.8,1148.6 1208.3,1143.6 1230.3,1140.8C1252.4,1138.0 1280.4,1137.2 1298.9,1136.3C1317.4,1135.5 1334.5,1135.6 1341.6,1135.5 M814.7,1478.3C815.0,1473.9 815.9,1461.2 816.5,1451.5C817.2,1441.8 816.7,1433.9 818.4,1420.0C820.0,1406.2 823.3,1381.9 826.5,1368.2C829.7,1354.5 833.4,1345.7 837.5,1337.9C841.7,1330.1 844.7,1326.8 851.5,1321.3C858.4,1315.8 869.7,1309.0 878.8,1304.8C888.0,1300.7 894.9,1299.3 906.4,1296.5C918.0,1293.8 934.3,1291.0 948.1,1288.2C961.9,1285.5 978.1,1282.4 989.3,1280.1C1000.4,1277.7 1008.3,1277.2 1014.9,1274.0C1021.5,1270.7 1024.9,1267.9 1028.7,1260.6C1032.6,1253.3 1034.7,1240.7 1037.8,1230.4C1041.0,1220.0 1043.6,1206.7 1047.7,1198.6C1051.8,1190.6 1057.3,1185.7 1062.4,1181.9C1067.6,1178.0 1070.1,1178.0 1078.5,1175.7C1086.8,1173.4 1097.5,1171.7 1112.6,1168.0C1127.7,1164.3 1148.8,1157.8 1168.9,1153.3C1189.1,1148.9 1211.4,1143.8 1233.4,1141.0C1255.4,1138.2 1282.8,1137.4 1301.0,1136.5C1319.3,1135.5 1336.0,1135.7 1342.9,1135.5 M814.7,1478.3C815.0,1473.9 815.9,1461.2 816.5,1451.5C817.2,1441.8 816.7,1433.9 818.4,1420.0C820.0,1406.2 823.3,1381.9 826.5,1368.2C829.7,1354.5 833.4,1345.7 837.5,1337.9C841.7,1330.1 844.7,1326.8 851.5,1321.3C858.4,1315.8 869.7,1309.0 878.8,1304.8C888.0,1300.7 894.9,1299.3 906.4,1296.5C918.0,1293.8 933.9,1291.0 948.1,1288.2C962.2,1285.4 979.6,1282.2 991.4,1279.8C1003.2,1277.3 1011.8,1276.8 1018.7,1273.5C1025.7,1270.2 1029.3,1267.3 1033.3,1260.1C1037.2,1252.9 1039.2,1240.6 1042.3,1230.4C1045.3,1220.2 1047.8,1207.0 1051.8,1199.0C1055.8,1190.9 1061.1,1186.0 1066.1,1182.1C1071.1,1178.3 1073.7,1178.2 1082.0,1175.8C1090.3,1173.4 1100.9,1171.5 1115.7,1167.8C1130.6,1164.0 1151.0,1157.9 1171.1,1153.5C1191.2,1149.1 1214.2,1144.0 1236.2,1141.1C1258.2,1138.3 1285.0,1137.5 1303.0,1136.6C1321.0,1135.6 1337.3,1135.7 1344.2,1135.5 M814.7,1478.3C815.0,1473.9 815.9,1461.2 816.5,1451.5C817.2,1441.8 816.7,1433.9 818.4,1420.0C820.0,1406.2 823.3,1381.9 826.5,1368.2C829.7,1354.5 833.4,1345.7 837.5,1337.9C841.7,1330.1 844.7,1326.8 851.5,1321.3C858.4,1315.8 869.7,1309.0 878.8,1304.8C888.0,1300.7 894.9,1299.3 906.4,1296.5C918.0,1293.8 933.6,1291.1 948.1,1288.2C962.6,1285.4 981.0,1282.0 993.4,1279.5C1005.8,1276.9 1015.0,1276.3 1022.4,1273.0C1029.7,1269.7 1033.5,1266.7 1037.5,1259.6C1041.5,1252.5 1043.4,1240.4 1046.4,1230.4C1049.4,1220.3 1051.8,1207.3 1055.7,1199.3C1059.5,1191.3 1064.6,1186.3 1069.6,1182.4C1074.5,1178.5 1077.1,1178.4 1085.3,1175.9C1093.5,1173.4 1104.1,1171.3 1118.7,1167.6C1133.3,1163.9 1153.1,1158.0 1173.1,1153.6C1193.2,1149.2 1216.8,1144.1 1238.8,1141.3C1260.7,1138.5 1287.1,1137.6 1304.8,1136.7C1322.6,1135.7 1338.6,1135.7 1345.3,1135.6 M814.7,1478.3C815.0,1473.9 815.9,1461.2 816.5,1451.5C817.2,1441.8 816.7,1433.9 818.4,1420.0C820.0,1406.2 823.3,1381.9 826.5,1368.2C829.7,1354.5 833.4,1345.7 837.5,1337.9C841.7,1330.1 844.7,1326.8 851.5,1321.3C858.4,1315.8 869.7,1309.0 878.8,1304.8C888.0,1300.7 894.9,1299.3 906.4,1296.5C918.0,1293.8 933.3,1291.1 948.1,1288.2C962.9,1285.3 982.3,1281.8 995.3,1279.2C1008.2,1276.6 1018.1,1275.9 1025.8,1272.6C1033.5,1269.3 1037.5,1266.2 1041.6,1259.2C1045.6,1252.2 1047.4,1240.3 1050.3,1230.4C1053.3,1220.5 1055.6,1207.5 1059.4,1199.6C1063.1,1191.6 1068.0,1186.6 1072.8,1182.7C1077.7,1178.8 1080.4,1178.6 1088.5,1176.0C1096.6,1173.5 1107.1,1171.1 1121.5,1167.4C1136.0,1163.7 1155.1,1158.1 1175.1,1153.7C1195.0,1149.4 1219.4,1144.3 1241.3,1141.4C1263.2,1138.6 1289.1,1137.7 1306.6,1136.8C1324.1,1135.8 1339.8,1135.8 1346.4,1135.6 M814.7,1478.3C815.0,1473.9 815.9,1461.2 816.5,1451.5C817.2,1441.8 816.7,1433.9 818.4,1420.0C820.0,1406.2 823.3,1381.9 826.5,1368.2C829.7,1354.5 833.4,1345.7 837.5,1337.9C841.7,1330.1 844.7,1326.8 851.5,1321.3C858.4,1315.8 869.7,1309.0 878.8,1304.8C888.0,1300.7 894.9,1299.3 906.4,1296.5C918.0,1293.8 933.0,1291.1 948.1,1288.2C963.2,1285.3 983.6,1281.6 997.1,1278.9C1010.6,1276.2 1021.0,1275.5 1029.1,1272.2C1037.1,1268.8 1041.3,1265.7 1045.4,1258.8C1049.6,1251.8 1051.2,1240.2 1054.1,1230.4C1057.0,1220.6 1059.2,1207.8 1062.9,1199.9C1066.5,1192.0 1071.2,1186.9 1076.0,1182.9C1080.8,1179.0 1083.5,1178.8 1091.5,1176.1C1099.6,1173.5 1110.0,1170.9 1124.2,1167.2C1138.5,1163.5 1157.0,1158.1 1176.9,1153.9C1196.9,1149.6 1221.8,1144.4 1243.7,1141.6C1265.6,1138.7 1291.0,1137.8 1308.3,1136.8C1325.6,1135.9 1341.0,1135.8 1347.5,1135.6 M814.7,1478.3C815.0,1473.9 815.9,1461.2 816.5,1451.5C817.2,1441.8 816.7,1433.9 818.4,1420.0C820.0,1406.2 823.3,1381.9 826.5,1368.2C829.7,1354.5 833.4,1345.7 837.5,1337.9C841.7,1330.1 844.7,1326.8 851.5,1321.3C858.4,1315.8 869.7,1309.0 878.8,1304.8C888.0,1300.7 894.9,1299.3 906.4,1296.5C918.0,1293.8 932.7,1291.2 948.1,1288.2C963.5,1285.2 984.8,1281.4 998.8,1278.7C1012.9,1275.9 1023.9,1275.2 1032.3,1271.8C1040.7,1268.4 1044.9,1265.3 1049.2,1258.4C1053.4,1251.5 1054.9,1240.1 1057.7,1230.4C1060.6,1220.7 1062.7,1208.0 1066.3,1200.2C1069.8,1192.3 1074.3,1187.2 1079.0,1183.2C1083.7,1179.2 1086.5,1178.9 1094.4,1176.2C1102.4,1173.5 1112.8,1170.7 1126.8,1167.0C1140.9,1163.3 1158.9,1158.2 1178.7,1154.0C1198.6,1149.8 1224.1,1144.5 1246.0,1141.7C1267.8,1138.9 1292.8,1137.9 1309.9,1136.9C1327.0,1135.9 1342.1,1135.9 1348.5,1135.7 M814.7,1478.3C815.0,1473.9 815.9,1461.2 816.5,1451.5C817.2,1441.8 816.7,1433.9 818.4,1420.0C820.0,1406.2 823.3,1381.9 826.5,1368.2C829.7,1354.5 833.4,1345.7 837.5,1337.9C841.7,1330.1 844.7,1326.8 851.5,1321.3C858.4,1315.8 869.7,1309.0 878.8,1304.8C888.0,1300.7 894.9,1299.3 906.4,1296.5C918.0,1293.8 932.4,1291.2 948.1,1288.2C963.7,1285.2 986.0,1281.2 1000.5,1278.4C1015.1,1275.6 1026.6,1274.8 1035.4,1271.4C1044.1,1268.0 1048.5,1264.8 1052.8,1258.0C1057.1,1251.2 1058.5,1240.0 1061.3,1230.4C1064.1,1220.8 1066.1,1208.3 1069.6,1200.4C1073.0,1192.6 1077.4,1187.4 1082.0,1183.4C1086.6,1179.4 1089.4,1179.1 1097.3,1176.3C1105.2,1173.6 1115.5,1170.6 1129.4,1166.9C1143.2,1163.1 1160.7,1158.3 1180.5,1154.1C1200.3,1149.9 1226.4,1144.7 1248.2,1141.8C1270.0,1139.0 1294.6,1138.0 1311.5,1137.0C1328.4,1136.0 1343.2,1135.9 1349.5,1135.7 M814.7,1478.3C815.0,1473.9 815.9,1461.2 816.5,1451.5C817.2,1441.8 816.7,1433.9 818.4,1420.0C820.0,1406.2 823.3,1381.9 826.5,1368.2C829.7,1354.5 833.4,1345.7 837.5,1337.9C841.7,1330.1 844.7,1326.8 851.5,1321.3C858.4,1315.8 869.7,1309.0 878.8,1304.8C888.0,1300.7 894.9,1299.3 906.4,1296.5C918.0,1293.8 932.1,1291.3 948.1,1288.2C964.0,1285.2 987.1,1281.0 1002.2,1278.2C1017.2,1275.3 1029.3,1274.4 1038.4,1271.0C1047.4,1267.6 1051.9,1264.4 1056.3,1257.6C1060.7,1250.8 1062.0,1239.9 1064.7,1230.4C1067.4,1220.9 1069.4,1208.5 1072.8,1200.7C1076.2,1192.9 1080.3,1187.7 1084.8,1183.6C1089.4,1179.6 1092.2,1179.3 1100.0,1176.4C1107.9,1173.6 1118.1,1170.4 1131.8,1166.7C1145.5,1163.0 1162.4,1158.3 1182.2,1154.2C1201.9,1150.1 1228.6,1144.8 1250.4,1142.0C1272.2,1139.1 1296.3,1138.1 1313.0,1137.1C1329.7,1136.1 1344.2,1135.9 1350.5,1135.7 M814.7,1478.3C815.0,1473.9 815.9,1461.2 816.5,1451.5C817.2,1441.8 816.7,1433.9 818.4,1420.0C820.0,1406.2 823.3,1381.9 826.5,1368.2C829.7,1354.5 833.4,1345.7 837.5,1337.9C841.7,1330.1 844.7,1326.8 851.5,1321.3C858.4,1315.8 869.7,1309.0 878.8,1304.8C888.0,1300.7 894.9,1299.3 906.4,1296.5C918.0,1293.8 931.8,1291.3 948.1,1288.2C964.3,1285.1 988.3,1280.8 1003.8,1277.9C1019.3,1275.0 1031.9,1274.1 1041.3,1270.6C1050.6,1267.2 1055.3,1263.9 1059.7,1257.2C1064.2,1250.5 1065.4,1239.8 1068.0,1230.4C1070.7,1221.0 1072.7,1208.7 1075.9,1200.9C1079.2,1193.2 1083.2,1187.9 1087.6,1183.9C1092.1,1179.8 1095.0,1179.4 1102.7,1176.5C1110.5,1173.6 1120.7,1170.2 1134.2,1166.5C1147.7,1162.8 1164.1,1158.4 1183.8,1154.3C1203.5,1150.2 1230.7,1144.9 1252.5,1142.1C1274.3,1139.2 1298.0,1138.2 1314.5,1137.2C1331.0,1136.1 1345.2,1136.0 1351.4,1135.7 M814.7,1478.3C815.0,1473.9 815.9,1461.2 816.5,1451.5C817.2,1441.8 816.7,1433.9 818.4,1420.0C820.0,1406.2 823.3,1381.9 826.5,1368.2C829.7,1354.5 833.4,1345.7 837.5,1337.9C841.7,1330.1 844.7,1326.8 851.5,1321.3C858.4,1315.8 869.7,1309.0 878.8,1304.8C888.0,1300.7 894.9,1299.3 906.4,1296.5C918.0,1293.8 931.6,1291.4 948.1,1288.2C964.5,1285.1 989.3,1280.7 1005.4,1277.7C1021.4,1274.7 1034.5,1273.7 1044.1,1270.3C1053.8,1266.8 1058.6,1263.5 1063.1,1256.9C1067.6,1250.2 1068.7,1239.7 1071.3,1230.4C1074.0,1221.1 1075.8,1208.9 1079.0,1201.2C1082.2,1193.5 1086.0,1188.2 1090.4,1184.1C1094.8,1180.0 1097.7,1179.6 1105.4,1176.6C1113.1,1173.7 1123.2,1170.1 1136.6,1166.4C1149.9,1162.7 1165.8,1158.4 1185.4,1154.4C1205.1,1150.4 1232.8,1145.1 1254.6,1142.2C1276.3,1139.3 1299.7,1138.3 1316.0,1137.3C1332.2,1136.2 1346.2,1136.0 1352.3,1135.8 M814.7,1478.3C815.0,1473.9 815.9,1461.2 816.5,1451.5C817.2,1441.8 816.7,1433.9 818.4,1420.0C820.0,1406.2 823.3,1381.9 826.5,1368.2C829.7,1354.5 833.4,1345.7 837.5,1337.9C841.7,1330.1 844.7,1326.8 851.5,1321.3C858.4,1315.8 869.7,1309.0 878.8,1304.8C888.0,1300.7 894.9,1299.3 906.4,1296.5C918.0,1293.8 931.3,1291.4 948.1,1288.2C964.8,1285.0 990.4,1280.5 1006.9,1277.5C1023.4,1274.4 1037.0,1273.4 1046.9,1269.9C1056.8,1266.4 1061.8,1263.1 1066.4,1256.5C1071.0,1249.9 1071.9,1239.6 1074.5,1230.4C1077.1,1221.2 1078.9,1209.1 1082.0,1201.4C1085.1,1193.8 1088.7,1188.4 1093.0,1184.3C1097.4,1180.2 1100.3,1179.7 1107.9,1176.7C1115.6,1173.7 1125.7,1169.9 1138.9,1166.2C1152.0,1162.5 1167.4,1158.5 1187.0,1154.5C1206.7,1150.5 1234.9,1145.2 1256.6,1142.3C1278.3,1139.5 1301.3,1138.4 1317.4,1137.3C1333.5,1136.2 1347.2,1136.0 1353.2,1135.8 M814.7,1478.3C815.0,1473.9 815.9,1461.2 816.5,1451.5C817.2,1441.8 816.7,1433.9 818.4,1420.0C820.0,1406.2 823.3,1381.9 826.5,1368.2C829.7,1354.5 833.4,1345.7 837.5,1337.9C841.7,1330.1 844.7,1326.8 851.5,1321.3C858.4,1315.8 869.7,1309.0 878.8,1304.8C888.0,1300.7 894.9,1299.3 906.4,1296.5C918.0,1293.8 931.1,1291.4 948.1,1288.2C965.1,1285.0 991.5,1280.3 1008.4,1277.2C1025.3,1274.1 1039.5,1273.1 1049.7,1269.6C1059.9,1266.0 1064.9,1262.7 1069.6,1256.2C1074.3,1249.6 1075.1,1239.5 1077.7,1230.4C1080.2,1221.3 1081.9,1209.3 1084.9,1201.7C1087.9,1194.0 1091.4,1188.7 1095.7,1184.5C1099.9,1180.4 1102.9,1179.9 1110.5,1176.8C1118.0,1173.7 1128.1,1169.8 1141.1,1166.1C1154.1,1162.4 1169.0,1158.6 1188.6,1154.6C1208.2,1150.7 1236.9,1145.3 1258.6,1142.4C1280.3,1139.6 1302.9,1138.5 1318.8,1137.4C1334.7,1136.3 1348.2,1136.1 1354.1,1135.8 M814.7,1478.3C815.0,1473.9 815.9,1461.2 816.5,1451.5C817.2,1441.8 816.7,1433.9 818.4,1420.0C820.0,1406.2 823.3,1381.9 826.5,1368.2C829.7,1354.5 833.4,1345.7 837.5,1337.9C841.7,1330.1 844.7,1326.8 851.5,1321.3C858.4,1315.8 869.7,1309.0 878.8,1304.8C888.0,1300.7 894.9,1299.3 906.4,1296.5C918.0,1293.8 930.8,1291.5 948.1,1288.2C965.3,1285.0 992.5,1280.2 1009.9,1277.0C1027.3,1273.8 1041.9,1272.7 1052.4,1269.2C1062.9,1265.7 1068.1,1262.3 1072.8,1255.8C1077.5,1249.4 1078.3,1239.4 1080.8,1230.4C1083.3,1221.5 1084.9,1209.5 1087.8,1201.9C1090.7,1194.3 1094.0,1188.9 1098.2,1184.7C1102.4,1180.5 1105.4,1180.0 1112.9,1176.9C1120.4,1173.8 1130.5,1169.6 1143.3,1165.9C1156.2,1162.2 1170.6,1158.6 1190.1,1154.7C1209.6,1150.8 1238.9,1145.4 1260.5,1142.5C1282.2,1139.7 1304.4,1138.6 1320.2,1137.5C1335.9,1136.4 1349.1,1136.1 1354.9,1135.8 M814.7,1478.3C815.0,1473.9 815.9,1461.2 816.5,1451.5C817.2,1441.8 816.7,1433.9 818.4,1420.0C820.0,1406.2 823.3,1381.9 826.5,1368.2C829.7,1354.5 833.4,1345.7 837.5,1337.9C841.7,1330.1 844.7,1326.8 851.5,1321.3C858.4,1315.8 869.7,1309.0 878.8,1304.8C888.0,1300.7 894.9,1299.3 906.4,1296.5C918.0,1293.8 930.6,1291.5 948.1,1288.2C965.5,1284.9 993.5,1280.0 1011.3,1276.8C1029.2,1273.6 1044.3,1272.4 1055.0,1268.9C1065.8,1265.3 1071.1,1261.9 1075.9,1255.5C1080.7,1249.1 1081.3,1239.3 1083.8,1230.4C1086.2,1221.6 1087.8,1209.7 1090.6,1202.1C1093.5,1194.6 1096.6,1189.1 1100.8,1184.9C1104.9,1180.7 1107.9,1180.2 1115.4,1177.0C1122.8,1173.8 1132.8,1169.5 1145.5,1165.8C1158.2,1162.1 1172.1,1158.7 1191.6,1154.8C1211.1,1151.0 1240.8,1145.5 1262.5,1142.7C1284.1,1139.8 1306.0,1138.7 1321.5,1137.6C1337.1,1136.4 1350.1,1136.1 1355.8,1135.9 M814.7,1478.3C815.0,1473.9 815.9,1461.2 816.5,1451.5C817.2,1441.8 816.7,1433.9 818.4,1420.0C820.0,1406.2 823.3,1381.9 826.5,1368.2C829.7,1354.5 833.4,1345.7 837.5,1337.9C841.7,1330.1 844.7,1326.8 851.5,1321.3C858.4,1315.8 869.7,1309.0 878.8,1304.8C888.0,1300.7 894.9,1299.3 906.4,1296.5C918.0,1293.8 930.3,1291.5 948.1,1288.2C965.8,1284.9 994.5,1279.9 1012.8,1276.6C1031.0,1273.3 1046.6,1272.1 1057.6,1268.5C1068.7,1265.0 1074.1,1261.5 1079.0,1255.1C1083.8,1248.8 1084.4,1239.2 1086.8,1230.4C1089.2,1221.6 1090.7,1209.9 1093.4,1202.4C1096.2,1194.8 1099.2,1189.3 1103.3,1185.1C1107.3,1180.9 1110.4,1180.3 1117.8,1177.1C1125.2,1173.8 1135.1,1169.3 1147.6,1165.6C1160.2,1161.9 1173.6,1158.7 1193.1,1154.9C1212.5,1151.1 1242.7,1145.6 1264.4,1142.8C1286.0,1139.9 1307.5,1138.8 1322.8,1137.6C1338.2,1136.5 1351.0,1136.2 1356.6,1135.9 M814.7,1478.3C815.0,1473.9 815.9,1461.2 816.5,1451.5C817.2,1441.8 816.7,1433.9 818.4,1420.0C820.0,1406.2 823.3,1381.9 826.5,1368.2C829.7,1354.5 833.4,1345.7 837.5,1337.9C841.7,1330.1 844.7,1326.8 851.5,1321.3C858.4,1315.8 869.7,1309.0 878.8,1304.8C888.0,1300.7 894.9,1299.3 906.4,1296.5C918.0,1293.8 930.1,1291.6 948.1,1288.2C966.0,1284.9 995.5,1279.7 1014.2,1276.4C1032.9,1273.0 1048.9,1271.8 1060.2,1268.2C1071.5,1264.6 1077.1,1261.1 1082.0,1254.8C1086.9,1248.5 1087.4,1239.2 1089.7,1230.4C1092.1,1221.7 1093.5,1210.1 1096.2,1202.6C1098.8,1195.1 1101.7,1189.6 1105.7,1185.3C1109.7,1181.1 1112.8,1180.5 1120.1,1177.1C1127.5,1173.8 1137.3,1169.2 1149.7,1165.5C1162.1,1161.8 1175.1,1158.8 1194.5,1155.0C1213.9,1151.2 1244.6,1145.8 1266.2,1142.9C1287.8,1140.0 1308.9,1138.9 1324.1,1137.7C1339.4,1136.5 1351.9,1136.2 1357.4,1135.9 M814.7,1478.3C815.0,1473.9 815.9,1461.2 816.5,1451.5C817.2,1441.8 816.7,1433.9 818.4,1420.0C820.0,1406.2 823.3,1381.9 826.5,1368.2C829.7,1354.5 833.4,1345.7 837.5,1337.9C841.7,1330.1 844.7,1326.8 851.5,1321.3C858.4,1315.8 869.7,1309.0 878.8,1304.8C888.0,1300.7 894.9,1299.3 906.4,1296.5C918.0,1293.8 929.9,1291.6 948.1,1288.2C966.3,1284.8 996.5,1279.5 1015.6,1276.2C1034.7,1272.8 1051.2,1271.5 1062.7,1267.9C1074.3,1264.3 1080.0,1260.7 1085.0,1254.5C1089.9,1248.3 1090.3,1239.1 1092.6,1230.5C1095.0,1221.8 1096.3,1210.3 1098.9,1202.8C1101.5,1195.3 1104.2,1189.8 1108.1,1185.5C1112.1,1181.2 1115.2,1180.6 1122.5,1177.2C1129.8,1173.9 1139.6,1169.1 1151.8,1165.4C1164.1,1161.7 1176.6,1158.8 1196.0,1155.1C1215.3,1151.4 1246.5,1145.9 1268.1,1143.0C1289.6,1140.1 1310.4,1138.9 1325.4,1137.8C1340.5,1136.6 1352.8,1136.2 1358.3,1135.9 M814.7,1478.3C815.0,1473.9 815.9,1461.2 816.5,1451.5C817.2,1441.8 816.7,1433.9 818.4,1420.0C820.0,1406.2 823.3,1381.9 826.5,1368.2C829.7,1354.5 833.4,1345.7 837.5,1337.9C841.7,1330.1 844.7,1326.8 851.5,1321.3C858.4,1315.8 869.7,1309.0 878.8,1304.8C888.0,1300.7 894.9,1299.3 906.4,1296.5C918.0,1293.8 929.6,1291.6 948.1,1288.2C966.5,1284.8 997.4,1279.4 1017.0,1276.0C1036.5,1272.5 1053.4,1271.2 1065.2,1267.6C1077.1,1263.9 1082.9,1260.4 1087.9,1254.2C1093.0,1248.0 1093.2,1239.0 1095.5,1230.5C1097.8,1221.9 1099.1,1210.5 1101.6,1203.0C1104.1,1195.6 1106.7,1190.0 1110.5,1185.7C1114.4,1181.4 1117.6,1180.7 1124.8,1177.3C1132.0,1173.9 1141.8,1168.9 1153.9,1165.2C1166.0,1161.5 1178.0,1158.9 1197.4,1155.2C1216.7,1151.5 1248.3,1146.0 1269.9,1143.1C1291.4,1140.2 1311.9,1139.0 1326.7,1137.8C1341.6,1136.6 1353.7,1136.3 1359.1,1136.0 M814.7,1478.3C815.0,1473.9 815.9,1461.2 816.5,1451.5C817.2,1441.8 816.7,1433.9 818.4,1420.0C820.0,1406.2 823.3,1381.9 826.5,1368.2C829.7,1354.5 833.4,1345.7 837.5,1337.9C841.7,1330.1 844.7,1326.8 851.5,1321.3C858.4,1315.8 869.7,1309.0 878.8,1304.8C888.0,1300.7 894.9,1299.3 906.4,1296.5C918.0,1293.8 929.4,1291.7 948.1,1288.2C966.7,1284.8 998.4,1279.2 1018.3,1275.7C1038.3,1272.3 1055.6,1270.9 1067.7,1267.3C1079.8,1263.6 1085.7,1260.0 1090.8,1253.9C1095.9,1247.7 1096.1,1238.9 1098.3,1230.5C1100.6,1222.0 1101.8,1210.7 1104.2,1203.3C1106.6,1195.8 1109.1,1190.2 1112.9,1185.9C1116.7,1181.6 1119.9,1180.9 1127.1,1177.4C1134.2,1173.9 1144.0,1168.8 1155.9,1165.1C1167.9,1161.4 1179.5,1158.9 1198.8,1155.3C1218.1,1151.6 1250.1,1146.1 1271.7,1143.2C1293.2,1140.3 1313.3,1139.1 1328.0,1137.9C1342.7,1136.7 1354.5,1136.3 1359.9,1136.0 M814.7,1478.3C815.0,1473.9 815.9,1461.2 816.5,1451.5C817.2,1441.8 816.7,1433.9 818.4,1420.0C820.0,1406.2 823.3,1381.9 826.5,1368.2C829.7,1354.5 833.4,1345.7 837.5,1337.9C841.7,1330.1 844.7,1326.8 851.5,1321.3C858.4,1315.8 869.7,1309.0 878.8,1304.8C888.0,1300.7 894.9,1299.3 906.4,1296.5C918.0,1293.8 929.2,1291.7 948.1,1288.2C966.9,1284.7 999.3,1279.1 1019.7,1275.5C1040.0,1272.0 1057.8,1270.6 1070.2,1267.0C1082.5,1263.3 1088.5,1259.6 1093.7,1253.6C1098.8,1247.5 1098.9,1238.8 1101.1,1230.5C1103.3,1222.1 1104.5,1210.9 1106.8,1203.5C1109.2,1196.1 1111.5,1190.4 1115.2,1186.1C1119.0,1181.7 1122.2,1181.0 1129.3,1177.5C1136.4,1174.0 1146.1,1168.6 1157.9,1165.0C1169.7,1161.3 1180.9,1159.0 1200.2,1155.4C1219.4,1151.7 1251.9,1146.2 1273.4,1143.3C1295.0,1140.4 1314.7,1139.2 1329.2,1138.0C1343.8,1136.8 1355.4,1136.3 1360.6,1136.0 M814.7,1478.3C815.0,1473.9 815.9,1461.2 816.5,1451.5C817.2,1441.8 816.7,1433.9 818.4,1420.0C820.0,1406.2 823.3,1381.9 826.5,1368.2C829.7,1354.5 833.4,1345.7 837.5,1337.9C841.7,1330.1 844.7,1326.8 851.5,1321.3C858.4,1315.8 869.7,1309.0 878.8,1304.8C888.0,1300.7 894.9,1299.3 906.4,1296.5C918.0,1293.8 929.0,1291.7 948.1,1288.2C967.2,1284.7 1000.3,1278.9 1021.0,1275.4C1041.8,1271.8 1060.0,1270.3 1072.6,1266.6C1085.2,1263.0 1091.3,1259.3 1096.5,1253.2C1101.7,1247.2 1101.7,1238.7 1103.9,1230.5C1106.0,1222.2 1107.1,1211.0 1109.4,1203.7C1111.7,1196.3 1113.8,1190.6 1117.5,1186.3C1121.2,1181.9 1124.5,1181.1 1131.5,1177.6C1138.6,1174.0 1148.2,1168.5 1159.9,1164.8C1171.6,1161.1 1182.3,1159.0 1201.5,1155.4C1220.7,1151.9 1253.7,1146.3 1275.2,1143.4C1296.7,1140.5 1316.1,1139.3 1330.5,1138.0C1344.8,1136.8 1356.2,1136.4 1361.4,1136.0" fill="none" stroke="#111" stroke-width="1.105" stroke-linejoin="round" stroke-linecap="round" opacity="1.0"/>
<path d="M814.7,1478.3C815.0,1473.9 815.9,1461.2 816.5,1451.5C817.2,1441.8 816.7,1433.9 818.4,1420.0C820.0,1406.2 823.3,1381.9 826.5,1368.2C829.7,1354.5 833.4,1345.7 837.5,1337.9C841.7,1330.1 844.7,1326.8 851.5,1321.3C858.4,1315.8 869.7,1309.0 878.8,1304.8C888.0,1300.7 894.9,1299.3 906.4,1296.5C918.0,1293.8 935.7,1290.7 948.1,1288.2C960.4,1285.7 975.1,1282.5 980.5,1281.4" fill="none" stroke="#111" stroke-width="2.8600000000000003" stroke-linejoin="round" stroke-linecap="round" opacity="1.0"/>
<path d="M814.7,1478.3C815.3,1475.0 816.5,1468.3 818.4,1458.2C820.2,1448.2 822.7,1432.5 825.8,1418.0C828.8,1403.5 833.1,1384.1 836.8,1371.1C840.5,1358.2 843.6,1348.6 847.9,1340.3C852.2,1332.1 855.8,1327.2 862.6,1321.6C869.3,1316.0 884.1,1309.3 888.4,1306.8" fill="none" stroke="#333" stroke-width="1.3" stroke-linejoin="round" stroke-linecap="round" opacity="1.0"/>
<path d="M814.7,1235.8C814.8,1237.2 814.4,1240.2 815.4,1243.9C816.5,1247.6 817.3,1251.9 821.0,1257.9C824.6,1264.0 831.5,1273.6 837.5,1280.0C843.6,1286.5 851.1,1291.9 857.1,1296.5C863.0,1301.1 867.3,1304.8 873.3,1307.5C879.2,1310.3 882.7,1310.7 892.8,1313.0C902.9,1315.3 924.0,1318.5 934.1,1321.3C944.1,1324.1 948.6,1326.0 953.2,1329.6C957.9,1333.2 959.7,1338.3 962.1,1343.0C964.4,1347.7 965.7,1351.9 967.2,1357.7C968.8,1363.5 969.7,1372.3 971.3,1377.8C972.9,1383.4 974.0,1387.9 976.8,1391.2C979.6,1394.6 983.5,1396.3 987.8,1397.9C992.2,1399.6 991.2,1399.3 1003.0,1401.3C1014.7,1403.2 1045.4,1407.6 1058.2,1409.6C1071.0,1411.6 1070.7,1411.7 1079.9,1413.1C1089.2,1414.5 1105.6,1416.3 1113.5,1417.9C1121.4,1419.5 1123.2,1420.6 1127.5,1422.6C1131.8,1424.5 1134.2,1423.7 1139.3,1429.6C1144.4,1435.4 1152.2,1448.5 1158.0,1458.0C1163.9,1467.4 1169.1,1475.7 1174.6,1486.4C1180.2,1497.0 1186.1,1508.7 1191.2,1521.9C1196.3,1535.0 1202.9,1558.1 1205.2,1565.4 M814.7,1235.8C814.8,1237.2 814.4,1240.2 815.4,1243.9C816.5,1247.6 817.3,1251.9 821.0,1257.9C824.6,1264.0 831.5,1273.6 837.5,1280.0C843.6,1286.5 851.1,1291.9 857.1,1296.5C863.0,1301.1 867.3,1304.8 873.3,1307.5C879.2,1310.3 882.7,1310.7 892.8,1313.0C902.9,1315.3 923.9,1318.6 934.1,1321.3C944.2,1324.0 948.9,1325.9 953.8,1329.4C958.7,1332.9 960.8,1337.8 963.3,1342.5C965.7,1347.1 967.1,1351.4 968.7,1357.2C970.2,1363.0 971.2,1371.7 972.8,1377.3C974.4,1382.9 975.6,1387.5 978.3,1390.9C981.0,1394.3 984.8,1396.0 989.0,1397.7C993.3,1399.4 992.4,1399.3 1004.0,1401.3C1015.5,1403.3 1045.5,1407.6 1058.2,1409.6C1070.9,1411.6 1070.7,1411.7 1079.9,1413.1C1089.2,1414.5 1105.3,1416.3 1113.5,1417.9C1121.6,1419.5 1124.2,1420.7 1129.0,1422.7C1133.8,1424.6 1136.4,1424.0 1142.1,1429.7C1147.8,1435.5 1156.7,1448.0 1163.2,1457.4C1169.8,1466.7 1175.6,1475.0 1181.6,1485.8C1187.5,1496.6 1193.5,1508.9 1198.8,1522.1C1204.0,1535.4 1210.7,1558.2 1213.1,1565.4 M814.7,1235.8C814.8,1237.2 814.4,1240.2 815.4,1243.9C816.5,1247.6 817.3,1251.9 821.0,1257.9C824.6,1264.0 831.5,1273.6 837.5,1280.0C843.6,1286.5 851.1,1291.9 857.1,1296.5C863.0,1301.1 867.3,1304.8 873.3,1307.5C879.2,1310.3 882.7,1310.7 892.8,1313.0C902.9,1315.3 923.8,1318.6 934.1,1321.3C944.3,1324.0 949.2,1325.8 954.2,1329.2C959.2,1332.7 961.6,1337.5 964.1,1342.1C966.7,1346.7 968.1,1351.0 969.7,1356.8C971.4,1362.6 972.3,1371.2 973.9,1376.9C975.5,1382.5 976.7,1387.2 979.4,1390.7C982.1,1394.1 985.7,1395.8 989.9,1397.6C994.2,1399.3 993.3,1399.3 1004.7,1401.3C1016.1,1403.3 1045.7,1407.6 1058.2,1409.6C1070.7,1411.6 1070.7,1411.7 1079.9,1413.1C1089.2,1414.5 1105.1,1416.3 1113.5,1417.9C1121.8,1419.5 1125.0,1420.7 1130.1,1422.7C1135.3,1424.7 1138.1,1424.2 1144.3,1429.9C1150.4,1435.6 1160.0,1447.7 1167.1,1456.9C1174.2,1466.2 1180.5,1474.5 1186.7,1485.4C1192.9,1496.2 1199.0,1509.0 1204.4,1522.3C1209.8,1535.7 1216.5,1558.2 1218.9,1565.4 M814.7,1235.8C814.8,1237.2 814.4,1240.2 815.4,1243.9C816.5,1247.6 817.3,1251.9 821.0,1257.9C824.6,1264.0 831.5,1273.6 837.5,1280.0C843.6,1286.5 851.1,1291.9 857.1,1296.5C863.0,1301.1 867.3,1304.8 873.3,1307.5C879.2,1310.3 882.7,1310.7 892.8,1313.0C902.9,1315.3 923.8,1318.6 934.1,1321.3C944.4,1324.0 949.4,1325.7 954.6,1329.1C959.7,1332.5 962.3,1337.1 964.9,1341.7C967.6,1346.3 969.0,1350.6 970.7,1356.4C972.4,1362.2 973.3,1370.9 975.0,1376.5C976.6,1382.2 977.8,1387.0 980.4,1390.4C983.0,1393.9 986.6,1395.6 990.7,1397.4C994.9,1399.2 994.2,1399.3 1005.4,1401.3C1016.7,1403.3 1045.8,1407.6 1058.2,1409.6C1070.6,1411.6 1070.7,1411.7 1079.9,1413.1C1089.2,1414.5 1104.9,1416.3 1113.5,1417.9C1122.0,1419.5 1125.7,1420.7 1131.2,1422.7C1136.6,1424.8 1139.6,1424.4 1146.2,1430.0C1152.8,1435.7 1163.0,1447.4 1170.5,1456.6C1178.1,1465.7 1184.8,1474.0 1191.3,1485.0C1197.8,1496.0 1204.0,1509.1 1209.5,1522.5C1215.0,1535.9 1221.7,1558.3 1224.2,1565.4 M814.7,1235.8C814.8,1237.2 814.4,1240.2 815.4,1243.9C816.5,1247.6 817.3,1251.9 821.0,1257.9C824.6,1264.0 831.5,1273.6 837.5,1280.0C843.6,1286.5 851.1,1291.9 857.1,1296.5C863.0,1301.1 867.3,1304.8 873.3,1307.5C879.2,1310.3 882.7,1310.7 892.8,1313.0C902.9,1315.3 923.7,1318.6 934.1,1321.3C944.4,1324.0 949.7,1325.6 954.9,1328.9C960.2,1332.3 962.9,1336.8 965.7,1341.4C968.5,1345.9 969.9,1350.3 971.6,1356.1C973.3,1361.9 974.3,1370.5 975.9,1376.2C977.5,1381.9 978.7,1386.7 981.3,1390.2C983.9,1393.8 987.4,1395.4 991.5,1397.3C995.6,1399.1 994.9,1399.2 1006.0,1401.3C1017.2,1403.3 1045.9,1407.6 1058.2,1409.6C1070.5,1411.6 1070.7,1411.7 1079.9,1413.1C1089.2,1414.5 1104.8,1416.3 1113.5,1417.9C1122.2,1419.5 1126.4,1420.7 1132.1,1422.8C1137.9,1424.8 1141.0,1424.6 1148.0,1430.1C1154.9,1435.7 1165.8,1447.1 1173.8,1456.2C1181.7,1465.3 1188.9,1473.5 1195.6,1484.6C1202.4,1495.7 1208.6,1509.2 1214.2,1522.7C1219.8,1536.2 1226.6,1558.3 1229.1,1565.4 M814.7,1235.8C814.8,1237.2 814.4,1240.2 815.4,1243.9C816.5,1247.6 817.3,1251.9 821.0,1257.9C824.6,1264.0 831.5,1273.6 837.5,1280.0C843.6,1286.5 851.1,1291.9 857.1,1296.5C863.0,1301.1 867.3,1304.8 873.3,1307.5C879.2,1310.3 882.7,1310.7 892.8,1313.0C902.9,1315.3 923.6,1318.7 934.1,1321.3C944.5,1323.9 949.9,1325.5 955.3,1328.8C960.7,1332.1 963.5,1336.5 966.4,1341.0C969.3,1345.5 970.7,1350.0 972.4,1355.8C974.2,1361.6 975.2,1370.2 976.8,1375.9C978.4,1381.6 979.7,1386.5 982.2,1390.1C984.8,1393.6 988.1,1395.3 992.2,1397.1C996.3,1399.0 995.6,1399.2 1006.6,1401.3C1017.7,1403.4 1046.0,1407.6 1058.2,1409.6C1070.4,1411.6 1070.7,1411.7 1079.9,1413.1C1089.2,1414.5 1104.6,1416.3 1113.5,1417.9C1122.3,1419.5 1127.0,1420.8 1133.0,1422.8C1139.1,1424.9 1142.4,1424.8 1149.7,1430.3C1157.0,1435.8 1168.5,1446.9 1176.8,1455.9C1185.2,1464.9 1192.8,1473.1 1199.7,1484.3C1206.7,1495.4 1213.0,1509.3 1218.7,1522.8C1224.4,1536.4 1231.3,1558.3 1233.8,1565.4 M814.7,1235.8C814.8,1237.2 814.4,1240.2 815.4,1243.9C816.5,1247.6 817.3,1251.9 821.0,1257.9C824.6,1264.0 831.5,1273.6 837.5,1280.0C843.6,1286.5 851.1,1291.9 857.1,1296.5C863.0,1301.1 867.3,1304.8 873.3,1307.5C879.2,1310.3 882.7,1310.7 892.8,1313.0C902.9,1315.3 923.6,1318.7 934.1,1321.3C944.5,1323.9 950.1,1325.5 955.6,1328.7C961.1,1331.9 964.1,1336.3 967.1,1340.7C970.0,1345.2 971.5,1349.7 973.3,1355.5C975.0,1361.3 976.0,1369.8 977.7,1375.6C979.3,1381.3 980.6,1386.3 983.1,1389.9C985.6,1393.4 988.9,1395.1 992.9,1397.0C996.9,1398.9 996.3,1399.2 1007.2,1401.3C1018.1,1403.4 1046.1,1407.6 1058.2,1409.6C1070.3,1411.6 1070.7,1411.7 1079.9,1413.1C1089.2,1414.5 1104.5,1416.3 1113.5,1417.9C1122.5,1419.5 1127.6,1420.8 1133.9,1422.9C1140.2,1424.9 1143.7,1424.9 1151.3,1430.4C1159.0,1435.8 1171.1,1446.6 1179.8,1455.5C1188.5,1464.5 1196.5,1472.7 1203.7,1483.9C1210.9,1495.2 1217.2,1509.4 1223.0,1523.0C1228.8,1536.6 1235.7,1558.3 1238.3,1565.4 M814.7,1235.8C814.8,1237.2 814.4,1240.2 815.4,1243.9C816.5,1247.6 817.3,1251.9 821.0,1257.9C824.6,1264.0 831.5,1273.6 837.5,1280.0C843.6,1286.5 851.1,1291.9 857.1,1296.5C863.0,1301.1 867.3,1304.8 873.3,1307.5C879.2,1310.3 882.7,1310.7 892.8,1313.0C902.9,1315.3 923.5,1318.7 934.1,1321.3C944.6,1323.9 950.3,1325.4 955.9,1328.6C961.5,1331.8 964.7,1336.0 967.7,1340.4C970.8,1344.9 972.2,1349.4 974.0,1355.2C975.8,1361.0 976.9,1369.5 978.5,1375.3C980.2,1381.0 981.4,1386.1 983.9,1389.7C986.4,1393.3 989.6,1395.0 993.5,1396.9C997.5,1398.8 997.0,1399.2 1007.8,1401.3C1018.6,1403.4 1046.2,1407.6 1058.2,1409.6C1070.2,1411.6 1070.7,1411.7 1079.9,1413.1C1089.2,1414.5 1104.3,1416.3 1113.5,1417.9C1122.6,1419.5 1128.2,1420.8 1134.7,1422.9C1141.3,1425.0 1144.9,1425.1 1152.9,1430.5C1160.9,1435.9 1173.6,1446.4 1182.7,1455.2C1191.8,1464.1 1200.1,1472.3 1207.5,1483.6C1214.9,1494.9 1221.3,1509.5 1227.2,1523.2C1233.0,1536.8 1240.0,1558.4 1242.6,1565.4 M814.7,1235.8C814.8,1237.2 814.4,1240.2 815.4,1243.9C816.5,1247.6 817.3,1251.9 821.0,1257.9C824.6,1264.0 831.5,1273.6 837.5,1280.0C843.6,1286.5 851.1,1291.9 857.1,1296.5C863.0,1301.1 867.3,1304.8 873.3,1307.5C879.2,1310.3 882.7,1310.7 892.8,1313.0C902.9,1315.3 923.5,1318.7 934.1,1321.3C944.6,1323.9 950.5,1325.3 956.2,1328.5C961.9,1331.6 965.3,1335.7 968.4,1340.1C971.5,1344.5 973.0,1349.1 974.8,1354.9C976.6,1360.7 977.7,1369.2 979.3,1375.0C981.0,1380.7 982.2,1385.9 984.7,1389.5C987.2,1393.1 990.2,1394.8 994.2,1396.8C998.1,1398.7 997.7,1399.2 1008.3,1401.3C1019.0,1403.4 1046.3,1407.6 1058.2,1409.6C1070.1,1411.6 1070.7,1411.7 1079.9,1413.1C1089.2,1414.5 1104.2,1416.3 1113.5,1417.9C1122.7,1419.5 1128.7,1420.8 1135.5,1422.9C1142.4,1425.0 1146.1,1425.3 1154.5,1430.6C1162.8,1435.9 1176.0,1446.1 1185.4,1454.9C1194.9,1463.7 1203.6,1471.9 1211.2,1483.3C1218.8,1494.7 1225.3,1509.6 1231.2,1523.3C1237.2,1537.0 1244.2,1558.4 1246.8,1565.4 M814.7,1235.8C814.8,1237.2 814.4,1240.2 815.4,1243.9C816.5,1247.6 817.3,1251.9 821.0,1257.9C824.6,1264.0 831.5,1273.6 837.5,1280.0C843.6,1286.5 851.1,1291.9 857.1,1296.5C863.0,1301.1 867.3,1304.8 873.3,1307.5C879.2,1310.3 882.7,1310.7 892.8,1313.0C902.9,1315.3 923.4,1318.7 934.1,1321.3C944.7,1323.9 950.7,1325.3 956.5,1328.3C962.3,1331.4 965.8,1335.5 969.0,1339.8C972.2,1344.2 973.7,1348.8 975.6,1354.6C977.4,1360.4 978.5,1368.9 980.1,1374.7C981.8,1380.5 983.0,1385.7 985.5,1389.3C987.9,1393.0 990.9,1394.7 994.8,1396.7C998.7,1398.7 998.3,1399.1 1008.9,1401.3C1019.4,1403.4 1046.4,1407.6 1058.2,1409.6C1070.1,1411.6 1070.7,1411.7 1079.9,1413.1C1089.2,1414.5 1104.1,1416.2 1113.5,1417.9C1122.9,1419.5 1129.3,1420.8 1136.3,1423.0C1143.4,1425.1 1147.3,1425.4 1156.0,1430.7C1164.6,1436.0 1178.3,1445.9 1188.1,1454.6C1197.9,1463.3 1207.0,1471.5 1214.8,1483.0C1222.6,1494.5 1229.2,1509.7 1235.2,1523.4C1241.2,1537.2 1248.3,1558.4 1250.9,1565.4 M814.7,1235.8C814.8,1237.2 814.4,1240.2 815.4,1243.9C816.5,1247.6 817.3,1251.9 821.0,1257.9C824.6,1264.0 831.5,1273.6 837.5,1280.0C843.6,1286.5 851.1,1291.9 857.1,1296.5C863.0,1301.1 867.3,1304.8 873.3,1307.5C879.2,1310.3 882.7,1310.7 892.8,1313.0C902.9,1315.3 923.4,1318.8 934.1,1321.3C944.7,1323.8 950.9,1325.2 956.8,1328.2C962.7,1331.3 966.4,1335.2 969.6,1339.6C972.9,1343.9 974.4,1348.5 976.3,1354.3C978.2,1360.1 979.3,1368.6 980.9,1374.4C982.6,1380.2 983.8,1385.5 986.3,1389.2C988.7,1392.9 991.6,1394.5 995.4,1396.6C999.3,1398.6 998.9,1399.1 1009.4,1401.3C1019.9,1403.5 1046.5,1407.6 1058.2,1409.6C1070.0,1411.6 1070.7,1411.7 1079.9,1413.1C1089.2,1414.5 1103.9,1416.2 1113.5,1417.9C1123.0,1419.6 1129.8,1420.9 1137.1,1423.0C1144.4,1425.1 1148.5,1425.6 1157.4,1430.8C1166.4,1436.0 1180.6,1445.7 1190.8,1454.3C1200.9,1463.0 1210.3,1471.2 1218.3,1482.7C1226.4,1494.3 1233.0,1509.8 1239.1,1523.6C1245.2,1537.4 1252.3,1558.4 1255.0,1565.4 M814.7,1235.8C814.8,1237.2 814.4,1240.2 815.4,1243.9C816.5,1247.6 817.3,1251.9 821.0,1257.9C824.6,1264.0 831.5,1273.6 837.5,1280.0C843.6,1286.5 851.1,1291.9 857.1,1296.5C863.0,1301.1 867.3,1304.8 873.3,1307.5C879.2,1310.3 882.7,1310.7 892.8,1313.0C902.9,1315.3 923.3,1318.8 934.1,1321.3C944.8,1323.8 951.1,1325.1 957.1,1328.1C963.1,1331.1 966.9,1335.0 970.2,1339.3C973.5,1343.6 975.1,1348.2 977.0,1354.0C978.9,1359.8 980.0,1368.3 981.7,1374.1C983.3,1380.0 984.6,1385.3 987.0,1389.0C989.4,1392.7 992.2,1394.4 996.0,1396.5C999.8,1398.5 999.5,1399.1 1009.9,1401.3C1020.3,1403.5 1046.5,1407.6 1058.2,1409.6C1069.9,1411.6 1070.7,1411.7 1079.9,1413.1C1089.2,1414.5 1103.8,1416.2 1113.5,1417.9C1123.1,1419.6 1130.3,1420.9 1137.9,1423.0C1145.5,1425.2 1149.6,1425.7 1158.9,1430.9C1168.1,1436.1 1182.9,1445.4 1193.4,1454.0C1203.9,1462.6 1213.5,1470.8 1221.8,1482.4C1230.0,1494.0 1236.7,1509.9 1242.9,1523.7C1249.1,1537.5 1256.2,1558.5 1258.9,1565.4 M814.7,1235.8C814.8,1237.2 814.4,1240.2 815.4,1243.9C816.5,1247.6 817.3,1251.9 821.0,1257.9C824.6,1264.0 831.5,1273.6 837.5,1280.0C843.6,1286.5 851.1,1291.9 857.1,1296.5C863.0,1301.1 867.3,1304.8 873.3,1307.5C879.2,1310.3 882.7,1310.7 892.8,1313.0C902.9,1315.3 923.3,1318.8 934.1,1321.3C944.8,1323.8 951.3,1325.1 957.4,1328.0C963.5,1331.0 967.4,1334.7 970.8,1339.0C974.2,1343.3 975.8,1348.0 977.7,1353.8C979.7,1359.6 980.8,1368.0 982.4,1373.9C984.1,1379.7 985.4,1385.1 987.7,1388.8C990.1,1392.6 992.8,1394.3 996.6,1396.3C1000.4,1398.4 1000.1,1399.1 1010.4,1401.3C1020.7,1403.5 1046.6,1407.6 1058.2,1409.6C1069.8,1411.6 1070.7,1411.7 1079.9,1413.1C1089.2,1414.5 1103.7,1416.2 1113.5,1417.9C1123.3,1419.6 1130.8,1420.9 1138.6,1423.1C1146.4,1425.2 1150.7,1425.9 1160.3,1431.0C1169.8,1436.1 1185.1,1445.2 1195.9,1453.7C1206.7,1462.3 1216.8,1470.5 1225.2,1482.1C1233.6,1493.8 1240.3,1510.0 1246.6,1523.8C1252.9,1537.7 1260.1,1558.5 1262.8,1565.4 M814.7,1235.8C814.8,1237.2 814.4,1240.2 815.4,1243.9C816.5,1247.6 817.3,1251.9 821.0,1257.9C824.6,1264.0 831.5,1273.6 837.5,1280.0C843.6,1286.5 851.1,1291.9 857.1,1296.5C863.0,1301.1 867.3,1304.8 873.3,1307.5C879.2,1310.3 882.7,1310.7 892.8,1313.0C902.9,1315.3 923.3,1318.8 934.1,1321.3C944.9,1323.8 951.4,1325.0 957.7,1327.9C963.9,1330.8 967.9,1334.5 971.4,1338.8C974.9,1343.0 976.5,1347.7 978.4,1353.5C980.4,1359.3 981.5,1367.7 983.2,1373.6C984.8,1379.5 986.1,1384.9 988.5,1388.7C990.8,1392.5 993.4,1394.1 997.2,1396.2C1000.9,1398.3 1000.7,1399.1 1010.9,1401.3C1021.1,1403.5 1046.7,1407.6 1058.2,1409.6C1069.7,1411.6 1070.7,1411.7 1079.9,1413.1C1089.2,1414.5 1103.6,1416.2 1113.5,1417.9C1123.4,1419.6 1131.3,1420.9 1139.4,1423.1C1147.4,1425.3 1151.8,1426.0 1161.7,1431.1C1171.5,1436.1 1187.3,1445.0 1198.4,1453.5C1209.6,1461.9 1219.9,1470.1 1228.5,1481.9C1237.2,1493.6 1243.9,1510.1 1250.3,1524.0C1256.6,1537.9 1263.9,1558.5 1266.6,1565.4 M814.7,1235.8C814.8,1237.2 814.4,1240.2 815.4,1243.9C816.5,1247.6 817.3,1251.9 821.0,1257.9C824.6,1264.0 831.5,1273.6 837.5,1280.0C843.6,1286.5 851.1,1291.9 857.1,1296.5C863.0,1301.1 867.3,1304.8 873.3,1307.5C879.2,1310.3 882.7,1310.7 892.8,1313.0C902.9,1315.3 923.2,1318.8 934.1,1321.3C944.9,1323.8 951.6,1324.9 957.9,1327.8C964.2,1330.7 968.4,1334.3 972.0,1338.5C975.5,1342.7 977.1,1347.4 979.1,1353.2C981.1,1359.0 982.2,1367.5 983.9,1373.3C985.6,1379.2 986.9,1384.7 989.2,1388.5C991.5,1392.3 994.1,1394.0 997.8,1396.1C1001.5,1398.3 1001.3,1399.0 1011.4,1401.3C1021.4,1403.5 1046.8,1407.6 1058.2,1409.6C1069.6,1411.6 1070.7,1411.7 1079.9,1413.1C1089.2,1414.5 1103.4,1416.2 1113.5,1417.9C1123.5,1419.6 1131.8,1420.9 1140.1,1423.1C1148.4,1425.3 1152.9,1426.2 1163.0,1431.2C1173.2,1436.2 1189.4,1444.8 1200.9,1453.2C1212.4,1461.6 1223.0,1469.8 1231.8,1481.6C1240.7,1493.4 1247.4,1510.1 1253.9,1524.1C1260.3,1538.1 1267.6,1558.5 1270.3,1565.4 M814.7,1235.8C814.8,1237.2 814.4,1240.2 815.4,1243.9C816.5,1247.6 817.3,1251.9 821.0,1257.9C824.6,1264.0 831.5,1273.6 837.5,1280.0C843.6,1286.5 851.1,1291.9 857.1,1296.5C863.0,1301.1 867.3,1304.8 873.3,1307.5C879.2,1310.3 882.7,1310.7 892.8,1313.0C902.9,1315.3 923.2,1318.9 934.1,1321.3C945.0,1323.8 951.8,1324.9 958.2,1327.7C964.6,1330.5 968.9,1334.0 972.5,1338.2C976.1,1342.5 977.8,1347.2 979.8,1353.0C981.8,1358.8 982.9,1367.2 984.6,1373.1C986.3,1379.0 987.6,1384.6 989.9,1388.4C992.2,1392.2 994.7,1393.9 998.3,1396.0C1002.0,1398.2 1001.9,1399.0 1011.9,1401.3C1021.8,1403.5 1046.9,1407.6 1058.2,1409.6C1069.6,1411.6 1070.7,1411.7 1079.9,1413.1C1089.2,1414.5 1103.3,1416.2 1113.5,1417.9C1123.6,1419.6 1132.3,1420.9 1140.8,1423.2C1149.3,1425.4 1154.0,1426.3 1164.4,1431.3C1174.8,1436.2 1191.5,1444.6 1203.3,1452.9C1215.1,1461.3 1226.1,1469.4 1235.1,1481.3C1244.1,1493.2 1250.9,1510.2 1257.4,1524.2C1263.9,1538.3 1271.3,1558.5 1274.0,1565.4 M814.7,1235.8C814.8,1237.2 814.4,1240.2 815.4,1243.9C816.5,1247.6 817.3,1251.9 821.0,1257.9C824.6,1264.0 831.5,1273.6 837.5,1280.0C843.6,1286.5 851.1,1291.9 857.1,1296.5C863.0,1301.1 867.3,1304.8 873.3,1307.5C879.2,1310.3 882.7,1310.7 892.8,1313.0C902.9,1315.3 923.1,1318.9 934.1,1321.3C945.0,1323.7 952.0,1324.8 958.5,1327.6C965.0,1330.4 969.4,1333.8 973.1,1338.0C976.7,1342.2 978.4,1346.9 980.4,1352.7C982.5,1358.5 983.6,1366.9 985.3,1372.8C987.0,1378.7 988.3,1384.4 990.6,1388.2C992.8,1392.1 995.2,1393.8 998.9,1395.9C1002.5,1398.1 1002.4,1399.0 1012.3,1401.3C1022.2,1403.6 1046.9,1407.6 1058.2,1409.6C1069.5,1411.6 1070.7,1411.7 1079.9,1413.1C1089.2,1414.5 1103.2,1416.2 1113.5,1417.9C1123.7,1419.6 1132.8,1420.9 1141.5,1423.2C1150.2,1425.4 1155.0,1426.4 1165.7,1431.4C1176.4,1436.3 1193.6,1444.4 1205.7,1452.6C1217.8,1460.9 1229.1,1469.1 1238.3,1481.0C1247.5,1493.0 1254.4,1510.3 1260.9,1524.4C1267.5,1538.4 1274.9,1558.6 1277.7,1565.4 M814.7,1235.8C814.8,1237.2 814.4,1240.2 815.4,1243.9C816.5,1247.6 817.3,1251.9 821.0,1257.9C824.6,1264.0 831.5,1273.6 837.5,1280.0C843.6,1286.5 851.1,1291.9 857.1,1296.5C863.0,1301.1 867.3,1304.8 873.3,1307.5C879.2,1310.3 882.7,1310.7 892.8,1313.0C902.9,1315.3 923.1,1318.9 934.1,1321.3C945.0,1323.7 952.1,1324.8 958.7,1327.5C965.3,1330.2 969.9,1333.6 973.6,1337.7C977.4,1341.9 979.0,1346.7 981.1,1352.5C983.2,1358.3 984.3,1366.6 986.0,1372.6C987.7,1378.5 989.0,1384.2 991.3,1388.1C993.5,1392.0 995.8,1393.6 999.4,1395.8C1003.0,1398.0 1003.0,1399.0 1012.8,1401.3C1022.6,1403.6 1047.0,1407.6 1058.2,1409.6C1069.4,1411.6 1070.7,1411.7 1079.9,1413.1C1089.2,1414.5 1103.1,1416.2 1113.5,1417.9C1123.9,1419.6 1133.3,1421.0 1142.2,1423.2C1151.2,1425.5 1156.1,1426.6 1167.0,1431.4C1178.0,1436.3 1195.7,1444.2 1208.1,1452.4C1220.5,1460.6 1232.1,1468.8 1241.4,1480.8C1250.8,1492.8 1257.7,1510.4 1264.4,1524.5C1271.0,1538.6 1278.5,1558.6 1281.3,1565.4 M814.7,1235.8C814.8,1237.2 814.4,1240.2 815.4,1243.9C816.5,1247.6 817.3,1251.9 821.0,1257.9C824.6,1264.0 831.5,1273.6 837.5,1280.0C843.6,1286.5 851.1,1291.9 857.1,1296.5C863.0,1301.1 867.3,1304.8 873.3,1307.5C879.2,1310.3 882.7,1310.7 892.8,1313.0C902.9,1315.3 923.0,1318.9 934.1,1321.3C945.1,1323.7 952.3,1324.7 959.0,1327.4C965.7,1330.1 970.4,1333.4 974.2,1337.5C978.0,1341.6 979.7,1346.4 981.8,1352.2C983.8,1358.0 985.0,1366.4 986.7,1372.3C988.4,1378.3 989.7,1384.0 991.9,1387.9C994.1,1391.8 996.4,1393.5 1000.0,1395.7C1003.5,1398.0 1003.5,1399.0 1013.2,1401.3C1023.0,1403.6 1047.1,1407.6 1058.2,1409.6C1069.3,1411.6 1070.7,1411.7 1079.9,1413.1C1089.2,1414.5 1103.0,1416.2 1113.5,1417.9C1124.0,1419.6 1133.8,1421.0 1142.9,1423.2C1152.1,1425.5 1157.1,1426.7 1168.3,1431.5C1179.6,1436.3 1197.7,1444.0 1210.4,1452.1C1223.1,1460.3 1235.0,1468.4 1244.6,1480.5C1254.1,1492.6 1261.1,1510.5 1267.8,1524.6C1274.5,1538.8 1282.0,1558.6 1284.8,1565.4 M814.7,1235.8C814.8,1237.2 814.4,1240.2 815.4,1243.9C816.5,1247.6 817.3,1251.9 821.0,1257.9C824.6,1264.0 831.5,1273.6 837.5,1280.0C843.6,1286.5 851.1,1291.9 857.1,1296.5C863.0,1301.1 867.3,1304.8 873.3,1307.5C879.2,1310.3 882.7,1310.7 892.8,1313.0C902.9,1315.3 923.0,1318.9 934.1,1321.3C945.1,1323.7 952.5,1324.7 959.2,1327.3C966.0,1330.0 970.8,1333.1 974.7,1337.3C978.6,1341.4 980.3,1346.2 982.4,1352.0C984.5,1357.8 985.7,1366.1 987.4,1372.1C989.1,1378.1 990.4,1383.9 992.6,1387.8C994.8,1391.7 997.0,1393.4 1000.5,1395.6C1004.0,1397.9 1004.1,1399.0 1013.7,1401.3C1023.3,1403.6 1047.2,1407.6 1058.2,1409.6C1069.3,1411.6 1070.7,1411.7 1079.9,1413.1C1089.2,1414.5 1102.9,1416.2 1113.5,1417.9C1124.1,1419.6 1134.2,1421.0 1143.6,1423.3C1153.0,1425.6 1158.1,1426.9 1169.6,1431.6C1181.1,1436.4 1199.7,1443.8 1212.7,1451.9C1225.8,1460.0 1237.9,1468.1 1247.7,1480.3C1257.4,1492.4 1264.4,1510.5 1271.2,1524.7C1278.0,1538.9 1285.5,1558.6 1288.4,1565.4 M814.7,1235.8C814.8,1237.2 814.4,1240.2 815.4,1243.9C816.5,1247.6 817.3,1251.9 821.0,1257.9C824.6,1264.0 831.5,1273.6 837.5,1280.0C843.6,1286.5 851.1,1291.9 857.1,1296.5C863.0,1301.1 867.3,1304.8 873.3,1307.5C879.2,1310.3 882.7,1310.7 892.8,1313.0C902.9,1315.3 922.9,1318.9 934.1,1321.3C945.2,1323.7 952.6,1324.6 959.5,1327.2C966.3,1329.8 971.3,1332.9 975.2,1337.0C979.2,1341.1 980.9,1345.9 983.0,1351.8C985.2,1357.6 986.4,1365.9 988.1,1371.9C989.8,1377.8 991.1,1383.7 993.3,1387.6C995.4,1391.6 997.5,1393.3 1001.0,1395.5C1004.5,1397.8 1004.6,1398.9 1014.2,1401.3C1023.7,1403.6 1047.2,1407.6 1058.2,1409.6C1069.2,1411.6 1070.7,1411.7 1079.9,1413.1C1089.2,1414.5 1102.8,1416.2 1113.5,1417.9C1124.2,1419.6 1134.7,1421.0 1144.3,1423.3C1153.8,1425.6 1159.1,1427.0 1170.9,1431.7C1182.7,1436.4 1201.7,1443.6 1215.0,1451.6C1228.3,1459.7 1240.8,1467.8 1250.7,1480.0C1260.6,1492.2 1267.7,1510.6 1274.6,1524.9C1281.4,1539.1 1289.0,1558.6 1291.8,1565.4 M814.7,1235.8C814.8,1237.2 814.4,1240.2 815.4,1243.9C816.5,1247.6 817.3,1251.9 821.0,1257.9C824.6,1264.0 831.5,1273.6 837.5,1280.0C843.6,1286.5 851.1,1291.9 857.1,1296.5C863.0,1301.1 867.3,1304.8 873.3,1307.5C879.2,1310.3 882.7,1310.7 892.8,1313.0C902.9,1315.3 922.9,1319.0 934.1,1321.3C945.2,1323.7 952.8,1324.5 959.7,1327.1C966.7,1329.7 971.8,1332.7 975.8,1336.8C979.8,1340.8 981.5,1345.7 983.7,1351.5C985.8,1357.3 987.0,1365.6 988.7,1371.6C990.5,1377.6 991.8,1383.5 993.9,1387.5C996.1,1391.5 998.1,1393.1 1001.5,1395.4C1005.0,1397.7 1005.2,1398.9 1014.6,1401.3C1024.0,1403.6 1047.3,1407.6 1058.2,1409.6C1069.1,1411.6 1070.7,1411.7 1079.9,1413.1C1089.2,1414.5 1102.6,1416.2 1113.5,1417.9C1124.3,1419.6 1135.2,1421.0 1144.9,1423.3C1154.7,1425.7 1160.1,1427.1 1172.1,1431.8C1184.2,1436.5 1203.7,1443.4 1217.3,1451.4C1230.9,1459.3 1243.7,1467.5 1253.8,1479.8C1263.8,1492.0 1270.9,1510.7 1277.9,1525.0C1284.8,1539.2 1292.4,1558.7 1295.3,1565.4 M814.7,1235.8C814.8,1237.2 814.4,1240.2 815.4,1243.9C816.5,1247.6 817.3,1251.9 821.0,1257.9C824.6,1264.0 831.5,1273.6 837.5,1280.0C843.6,1286.5 851.1,1291.9 857.1,1296.5C863.0,1301.1 867.3,1304.8 873.3,1307.5C879.2,1310.3 882.7,1310.7 892.8,1313.0C902.9,1315.3 922.9,1319.0 934.1,1321.3C945.3,1323.6 952.9,1324.5 960.0,1327.0C967.0,1329.6 972.2,1332.5 976.3,1336.5C980.3,1340.6 982.1,1345.5 984.3,1351.3C986.5,1357.1 987.7,1365.4 989.4,1371.4C991.1,1377.4 992.5,1383.4 994.6,1387.4C996.7,1391.4 998.7,1393.0 1002.1,1395.3C1005.5,1397.7 1005.7,1398.9 1015.0,1401.3C1024.4,1403.7 1047.4,1407.6 1058.2,1409.6C1069.0,1411.6 1070.7,1411.7 1079.9,1413.1C1089.2,1414.5 1102.5,1416.2 1113.5,1417.9C1124.4,1419.6 1135.6,1421.0 1145.6,1423.4C1155.6,1425.7 1161.1,1427.3 1173.4,1431.9C1185.7,1436.5 1205.7,1443.2 1219.6,1451.1C1233.4,1459.0 1246.5,1467.2 1256.8,1479.5C1267.0,1491.8 1274.2,1510.8 1281.2,1525.1C1288.1,1539.4 1295.8,1558.7 1298.7,1565.4 M814.7,1235.8C814.8,1237.2 814.4,1240.2 815.4,1243.9C816.5,1247.6 817.3,1251.9 821.0,1257.9C824.6,1264.0 831.5,1273.6 837.5,1280.0C843.6,1286.5 851.1,1291.9 857.1,1296.5C863.0,1301.1 867.3,1304.8 873.3,1307.5C879.2,1310.3 882.7,1310.7 892.8,1313.0C902.9,1315.3 922.8,1319.0 934.1,1321.3C945.3,1323.6 953.1,1324.4 960.2,1326.9C967.3,1329.4 972.7,1332.3 976.8,1336.3C980.9,1340.3 982.7,1345.2 984.9,1351.0C987.1,1356.9 988.3,1365.1 990.1,1371.1C991.8,1377.2 993.1,1383.2 995.2,1387.2C997.3,1391.2 999.2,1392.9 1002.6,1395.3C1006.0,1397.6 1006.2,1398.9 1015.5,1401.3C1024.7,1403.7 1047.5,1407.6 1058.2,1409.6C1069.0,1411.6 1070.7,1411.7 1079.9,1413.1C1089.2,1414.5 1102.4,1416.2 1113.5,1417.9C1124.5,1419.6 1136.1,1421.0 1146.3,1423.4C1156.5,1425.7 1162.0,1427.4 1174.6,1432.0C1187.2,1436.5 1207.6,1443.0 1221.8,1450.9C1236.0,1458.7 1249.3,1466.9 1259.7,1479.3C1270.2,1491.6 1277.3,1510.9 1284.4,1525.2C1291.5,1539.6 1299.1,1558.7 1302.1,1565.4" fill="none" stroke="#111" stroke-width="1.105" stroke-linejoin="round" stroke-linecap="round" opacity="1.0"/>
<path d="M814.7,1235.8C814.8,1237.2 814.4,1240.2 815.4,1243.9C816.5,1247.6 817.3,1251.9 821.0,1257.9C824.6,1264.0 831.5,1273.6 837.5,1280.0C843.6,1286.5 851.1,1291.9 857.1,1296.5C863.0,1301.1 867.3,1304.8 873.3,1307.5C879.2,1310.3 882.7,1310.7 892.8,1313.0C902.9,1315.3 924.0,1318.5 934.1,1321.3C944.1,1324.1 950.0,1328.2 953.2,1329.6" fill="none" stroke="#111" stroke-width="2.8600000000000003" stroke-linejoin="round" stroke-linecap="round" opacity="1.0"/>
<path d="M1010.0,1401.3C1018.0,1402.7 1046.5,1407.6 1058.2,1409.6C1069.9,1411.6 1070.7,1411.7 1079.9,1413.1C1089.2,1414.5 1105.6,1416.3 1113.5,1417.9C1121.4,1419.5 1125.1,1421.8 1127.5,1422.6" fill="none" stroke="#111" stroke-width="2.8600000000000003" stroke-linejoin="round" stroke-linecap="round" opacity="1.0"/>
<path d="M866.0,1421.3 L830.7,1408.2 M841.1,1406.2 L830.7,1408.2 L837.2,1416.5" fill="none" stroke="#111" stroke-width="1.6" stroke-linecap="round" stroke-linejoin="round"/>
<text x="868.0" y="1432.0" font-family="Liberation Sans, sans-serif" font-size="28" fill="#1a1a1a">1st</text>
<path d="M1114.3,1230.6 L1158.0,1230.6 M1149.0,1236.1 L1158.0,1230.6 L1149.0,1225.1" fill="none" stroke="#111" stroke-width="1.6" stroke-linecap="round" stroke-linejoin="round"/>
<path d="M1283.3,1499.4 L1325.9,1499.4 M1316.9,1504.9 L1325.9,1499.4 L1316.9,1493.9" fill="none" stroke="#111" stroke-width="1.6" stroke-linecap="round" stroke-linejoin="round"/>
<path d="M104.7,2157.2C105.1,2150.5 105.9,2130.6 106.9,2117.2C107.9,2103.9 109.1,2090.6 110.6,2077.3C112.1,2064.0 114.1,2050.2 116.1,2037.3C118.2,2024.4 119.6,2015.3 122.9,2000.0C126.3,1984.8 131.2,1963.4 136.0,1945.9C140.8,1928.5 146.4,1908.9 151.7,1895.3C157.0,1881.8 162.0,1873.9 167.7,1864.7C173.5,1855.5 180.0,1846.5 186.3,1840.1C192.6,1833.6 198.8,1829.8 205.5,1825.9C212.2,1822.1 220.2,1819.3 226.3,1816.9C232.5,1814.5 233.9,1814.2 242.4,1811.5C250.8,1808.9 266.7,1804.9 277.2,1800.8C287.7,1796.6 295.6,1792.0 305.6,1786.9C315.6,1781.8 324.0,1775.9 337.1,1770.4C350.2,1764.9 373.7,1757.2 384.3,1753.7C394.9,1750.3 390.2,1751.6 400.7,1749.6C411.2,1747.6 430.5,1744.1 447.1,1741.9C463.7,1739.6 487.7,1737.4 500.4,1736.2C513.0,1734.9 511.0,1735.0 523.1,1734.3C535.1,1733.5 561.5,1732.2 572.8,1731.6C584.2,1731.1 588.2,1731.1 591.3,1731.0" fill="none" stroke="#111" stroke-width="2.4" stroke-linejoin="round" stroke-linecap="round"/>
<path d="M104.7,2157.2C104.9,2150.4 105.1,2129.8 105.7,2116.1C106.3,2102.4 107.0,2088.8 108.1,2075.1C109.3,2061.4 110.6,2047.1 112.4,2034.0C114.3,2020.9 115.9,2011.9 119.3,1996.7C122.6,1981.5 127.6,1960.1 132.3,1942.6C137.1,1925.2 142.7,1905.5 148.0,1892.0C153.3,1878.5 158.3,1870.6 164.0,1861.4C169.8,1852.1 176.4,1843.2 182.7,1836.7C189.0,1830.3 195.2,1826.5 201.8,1822.6C208.5,1818.7 216.5,1815.9 222.7,1813.5C228.8,1811.1 230.2,1810.9 238.7,1808.2C247.2,1805.5 263.0,1801.5 273.5,1797.4C284.1,1793.3 291.9,1788.6 301.9,1783.6C311.9,1778.5 320.3,1772.6 333.4,1767.1C346.5,1761.5 370.0,1753.9 380.6,1750.4C391.2,1746.9 386.5,1748.3 397.0,1746.3C407.5,1744.3 426.8,1740.8 443.4,1738.6C460.1,1736.3 484.1,1734.1 496.7,1732.8C509.4,1731.6 507.0,1731.4 519.4,1731.0C531.8,1730.5 559.0,1730.0 571.0,1730.0C583.0,1730.0 587.9,1730.8 591.3,1731.0 M104.7,2157.2C104.9,2150.4 105.3,2130.0 106.0,2116.4C106.6,2102.8 107.5,2089.2 108.7,2075.6C109.9,2061.9 111.4,2047.7 113.3,2034.7C115.2,2021.7 116.8,2012.7 120.1,1997.4C123.4,1982.2 128.4,1960.8 133.2,1943.4C138.0,1925.9 143.5,1906.3 148.8,1892.7C154.1,1879.2 159.1,1871.3 164.9,1862.1C170.6,1852.9 177.2,1843.9 183.5,1837.5C189.8,1831.0 196.0,1827.2 202.6,1823.3C209.3,1819.5 217.3,1816.7 223.5,1814.3C229.6,1811.9 231.0,1811.6 239.5,1809.0C248.0,1806.3 263.8,1802.3 274.3,1798.2C284.9,1794.1 292.7,1789.4 302.7,1784.3C312.7,1779.3 321.1,1773.3 334.2,1767.8C347.4,1762.3 370.8,1754.6 381.4,1751.1C392.0,1747.7 387.3,1749.0 397.8,1747.0C408.3,1745.0 427.6,1741.5 444.3,1739.3C460.9,1737.1 484.9,1734.8 497.5,1733.6C510.2,1732.3 507.9,1732.2 520.2,1731.7C532.5,1731.2 559.5,1730.5 571.4,1730.3C583.2,1730.2 587.9,1730.9 591.3,1731.0 M104.7,2157.2C105.0,2150.4 105.5,2130.1 106.2,2116.6C107.0,2103.1 107.9,2089.6 109.2,2076.0C110.5,2062.5 112.1,2048.4 114.1,2035.5C116.0,2022.5 117.6,2013.4 120.9,1998.2C124.2,1982.9 129.2,1961.5 134.0,1944.1C138.8,1926.6 144.4,1907.0 149.6,1893.5C154.9,1879.9 159.9,1872.1 165.7,1862.8C171.5,1853.6 178.0,1844.7 184.3,1838.2C190.6,1831.7 196.8,1827.9 203.5,1824.1C210.1,1820.2 218.1,1817.4 224.3,1815.0C230.4,1812.6 231.8,1812.4 240.3,1809.7C248.8,1807.0 264.6,1803.0 275.2,1798.9C285.7,1794.8 293.6,1790.1 303.5,1785.1C313.5,1780.0 321.9,1774.1 335.1,1768.5C348.2,1763.0 371.6,1755.4 382.2,1751.9C392.8,1748.4 388.2,1749.7 398.6,1747.8C409.1,1745.8 428.5,1742.3 445.1,1740.0C461.7,1737.8 485.7,1735.6 498.3,1734.3C511.0,1733.0 508.8,1733.0 521.0,1732.4C533.3,1731.8 560.1,1730.9 571.8,1730.7C583.5,1730.5 588.0,1730.9 591.3,1731.0 M104.7,2157.2C105.0,2150.5 105.7,2130.3 106.5,2116.9C107.3,2103.4 108.4,2090.0 109.8,2076.5C111.2,2063.1 112.9,2049.1 114.9,2036.2C116.9,2023.3 118.4,2014.1 121.7,1998.9C125.0,1983.7 130.0,1962.3 134.8,1944.8C139.6,1927.4 145.2,1907.8 150.5,1894.2C155.8,1880.7 160.7,1872.8 166.5,1863.6C172.3,1854.4 178.8,1845.4 185.1,1838.9C191.4,1832.5 197.6,1828.7 204.3,1824.8C210.9,1821.0 219.0,1818.2 225.1,1815.8C231.3,1813.4 232.7,1813.1 241.1,1810.4C249.6,1807.7 265.4,1803.8 276.0,1799.6C286.5,1795.5 294.4,1790.9 304.4,1785.8C314.3,1780.7 322.8,1774.8 335.9,1769.3C349.0,1763.7 372.5,1756.1 383.1,1752.6C393.7,1749.2 389.0,1750.5 399.5,1748.5C409.9,1746.5 429.3,1743.0 445.9,1740.8C462.5,1738.5 486.5,1736.3 499.2,1735.0C511.8,1733.8 509.7,1733.8 521.8,1733.2C534.0,1732.5 560.6,1731.4 572.2,1731.1C583.8,1730.7 588.1,1731.0 591.3,1731.0 M104.7,2157.2C105.0,2150.5 105.8,2130.5 106.8,2117.1C107.7,2103.8 108.8,2090.4 110.3,2077.0C111.8,2063.7 113.7,2049.8 115.7,2036.9C117.8,2024.1 119.2,2014.9 122.5,1999.7C125.9,1984.4 130.8,1963.0 135.6,1945.6C140.4,1928.1 146.0,1908.5 151.3,1895.0C156.6,1881.4 161.5,1873.5 167.3,1864.3C173.1,1855.1 179.6,1846.1 185.9,1839.7C192.2,1833.2 198.4,1829.4 205.1,1825.6C211.8,1821.7 219.8,1818.9 225.9,1816.5C232.1,1814.1 233.5,1813.9 242.0,1811.2C250.4,1808.5 266.3,1804.5 276.8,1800.4C287.3,1796.3 295.2,1791.6 305.2,1786.5C315.2,1781.5 323.6,1775.5 336.7,1770.0C349.8,1764.5 373.3,1756.8 383.9,1753.4C394.5,1749.9 389.8,1751.2 400.3,1749.2C410.8,1747.3 430.1,1743.8 446.7,1741.5C463.3,1739.3 487.3,1737.1 500.0,1735.8C512.6,1734.5 510.5,1734.6 522.7,1733.9C534.8,1733.2 561.2,1731.9 572.6,1731.4C584.1,1730.9 588.1,1731.0 591.3,1731.0 M104.7,2157.2C105.1,2150.6 106.0,2130.6 107.0,2117.4C108.1,2104.1 109.3,2090.8 110.9,2077.5C112.5,2064.2 114.5,2050.5 116.5,2037.7C118.6,2024.8 120.0,2015.6 123.4,2000.4C126.7,1985.2 131.6,1963.8 136.4,1946.3C141.2,1928.9 146.8,1909.2 152.1,1895.7C157.4,1882.2 162.4,1874.3 168.1,1865.1C173.9,1855.8 180.5,1846.9 186.8,1840.4C193.1,1834.0 199.3,1830.2 205.9,1826.3C212.6,1822.4 220.6,1819.6 226.7,1817.2C232.9,1814.8 234.3,1814.6 242.8,1811.9C251.3,1809.2 267.1,1805.2 277.6,1801.1C288.2,1797.0 296.0,1792.3 306.0,1787.3C316.0,1782.2 324.4,1776.3 337.5,1770.8C350.6,1765.2 374.1,1757.6 384.7,1754.1C395.3,1750.6 390.6,1752.0 401.1,1750.0C411.6,1748.0 430.9,1744.5 447.5,1742.3C464.2,1740.0 488.1,1737.8 500.8,1736.5C513.5,1735.3 511.4,1735.4 523.5,1734.7C535.5,1733.9 561.7,1732.4 573.0,1731.8C584.3,1731.2 588.2,1731.1 591.3,1731.0 M104.7,2157.2C105.1,2150.6 106.2,2130.8 107.3,2117.6C108.4,2104.4 109.7,2091.2 111.4,2078.0C113.1,2064.8 115.2,2051.2 117.4,2038.4C119.5,2025.6 120.9,2016.4 124.2,2001.1C127.5,1985.9 132.5,1964.5 137.3,1947.1C142.1,1929.6 147.6,1910.0 152.9,1896.4C158.2,1882.9 163.2,1875.0 169.0,1865.8C174.7,1856.6 181.3,1847.6 187.6,1841.2C193.9,1834.7 200.1,1830.9 206.7,1827.0C213.4,1823.2 221.4,1820.4 227.6,1818.0C233.7,1815.6 235.1,1815.3 243.6,1812.7C252.1,1810.0 267.9,1806.0 278.4,1801.9C289.0,1797.8 296.8,1793.1 306.8,1788.0C316.8,1783.0 325.2,1777.0 338.3,1771.5C351.4,1766.0 374.9,1758.3 385.5,1754.8C396.1,1751.4 391.4,1752.7 401.9,1750.7C412.4,1748.7 431.7,1745.2 448.4,1743.0C465.0,1740.8 489.0,1738.5 501.6,1737.3C514.3,1736.0 512.3,1736.2 524.3,1735.4C536.3,1734.6 562.3,1732.9 573.4,1732.2C584.6,1731.4 588.3,1731.2 591.3,1731.0 M104.7,2157.2C105.2,2150.6 106.4,2131.0 107.6,2117.9C108.8,2104.7 110.2,2091.6 112.0,2078.5C113.7,2065.4 116.0,2051.9 118.2,2039.2C120.3,2026.4 121.7,2017.1 125.0,2001.9C128.3,1986.6 133.3,1965.2 138.1,1947.8C142.9,1930.3 148.5,1910.7 153.7,1897.2C159.0,1883.6 164.0,1875.8 169.8,1866.5C175.6,1857.3 182.1,1848.4 188.4,1841.9C194.7,1835.4 200.9,1831.6 207.6,1827.8C214.2,1823.9 222.2,1821.1 228.4,1818.7C234.5,1816.3 235.9,1816.1 244.4,1813.4C252.9,1810.7 268.7,1806.7 279.3,1802.6C289.8,1798.5 297.7,1793.8 307.6,1788.8C317.6,1783.7 326.0,1777.8 339.2,1772.2C352.3,1766.7 375.7,1759.1 386.3,1755.6C396.9,1752.1 392.3,1753.4 402.7,1751.5C413.2,1749.5 432.6,1746.0 449.2,1743.7C465.8,1741.5 489.8,1739.3 502.4,1738.0C515.1,1736.7 513.2,1737.0 525.1,1736.1C537.0,1735.2 562.8,1733.4 573.8,1732.6C584.9,1731.7 588.4,1731.2 591.3,1731.0 M104.7,2157.2C105.2,2150.7 106.6,2131.1 107.9,2118.1C109.2,2105.1 110.7,2092.0 112.5,2079.0C114.4,2066.0 116.8,2052.6 119.0,2039.9C121.2,2027.2 122.5,2017.8 125.8,2002.6C129.1,1987.4 134.1,1966.0 138.9,1948.5C143.7,1931.1 149.3,1911.5 154.6,1897.9C159.8,1884.4 164.8,1876.5 170.6,1867.3C176.4,1858.1 182.9,1849.1 189.2,1842.6C195.5,1836.2 201.7,1832.4 208.4,1828.5C215.0,1824.7 223.1,1821.9 229.2,1819.5C235.3,1817.1 236.8,1816.8 245.2,1814.1C253.7,1811.4 269.5,1807.5 280.1,1803.3C290.6,1799.2 298.5,1794.6 308.5,1789.5C318.4,1784.4 326.9,1778.5 340.0,1773.0C353.1,1767.4 376.6,1759.8 387.1,1756.3C397.7,1752.9 393.1,1754.2 403.6,1752.2C414.0,1750.2 433.4,1746.7 450.0,1744.5C466.6,1742.2 490.6,1740.0 503.3,1738.7C515.9,1737.5 514.1,1737.9 525.9,1736.9C537.8,1735.9 563.4,1733.9 574.3,1732.9C585.1,1731.9 588.4,1731.3 591.3,1731.0 M104.7,2157.2C105.3,2150.7 106.7,2131.3 108.1,2118.3C109.5,2105.4 111.1,2092.4 113.1,2079.5C115.0,2066.6 117.5,2053.3 119.8,2040.6C122.1,2028.0 123.3,2018.6 126.6,2003.4C129.9,1988.1 134.9,1966.7 139.7,1949.3C144.5,1931.8 150.1,1912.2 155.4,1898.7C160.7,1885.1 165.6,1877.2 171.4,1868.0C177.2,1858.8 183.7,1849.8 190.0,1843.4C196.3,1836.9 202.5,1833.1 209.2,1829.3C215.9,1825.4 223.9,1822.6 230.0,1820.2C236.2,1817.8 237.6,1817.6 246.1,1814.9C254.5,1812.2 270.4,1808.2 280.9,1804.1C291.4,1800.0 299.3,1795.3 309.3,1790.2C319.3,1785.2 327.7,1779.2 340.8,1773.7C353.9,1768.2 377.4,1760.5 388.0,1757.1C398.6,1753.6 393.9,1754.9 404.4,1752.9C414.8,1751.0 434.2,1747.5 450.8,1745.2C467.4,1743.0 491.4,1740.8 504.1,1739.5C516.7,1738.2 515.0,1738.7 526.7,1737.6C538.5,1736.6 563.9,1734.4 574.7,1733.3C585.4,1732.2 588.5,1731.3 591.3,1731.0" fill="none" stroke="#111" stroke-width="1.3" stroke-linejoin="round" stroke-linecap="round" opacity="1.0"/>
<path d="M206.1,1826.9C209.4,1825.2 220.4,1819.1 226.3,1816.9C232.3,1814.7 233.5,1815.4 241.8,1813.5C250.2,1811.7 266.0,1808.7 276.5,1805.6C287.0,1802.4 293.5,1798.4 304.8,1794.6C316.2,1790.9 331.1,1786.6 344.3,1782.9C357.4,1779.2 374.5,1775.1 383.7,1772.5C393.0,1770.0 389.4,1770.0 399.9,1767.6C410.5,1765.2 430.1,1761.3 446.8,1758.3C463.4,1755.3 487.3,1751.7 500.0,1749.6C512.7,1747.5 509.0,1747.4 523.1,1745.6C537.1,1743.8 565.0,1740.7 584.4,1739.0C603.9,1737.2 630.5,1735.8 639.7,1735.2" fill="none" stroke="#333" stroke-width="1.3" stroke-linejoin="round" stroke-linecap="round" opacity="1.0"/>
<path d="M104.7,1756.7C104.8,1760.2 105.0,1771.8 105.3,1777.6C105.5,1783.4 104.6,1785.4 106.4,1791.4C108.1,1797.4 110.5,1807.8 115.8,1813.5C121.0,1819.3 127.9,1821.6 137.9,1826.1C147.9,1830.5 165.2,1835.5 175.7,1840.3C186.2,1845.1 189.9,1849.9 200.9,1855.0C211.9,1860.1 229.2,1865.0 241.8,1870.8C254.4,1876.7 267.6,1882.7 276.5,1890.1C285.3,1897.6 290.0,1907.0 294.9,1915.4C299.8,1923.8 302.4,1931.0 305.8,1940.4C309.1,1949.8 311.1,1961.2 315.0,1971.7C318.8,1982.1 323.7,1992.7 328.9,2003.2C334.1,2013.8 340.0,2024.4 345.9,2034.9C351.9,2045.4 359.2,2055.7 364.7,2066.2C370.1,2076.7 374.3,2087.3 378.7,2097.8C383.0,2108.3 387.0,2119.3 390.9,2129.2C394.8,2139.1 400.2,2152.5 402.1,2157.2" fill="none" stroke="#111" stroke-width="2.2" stroke-linejoin="round" stroke-linecap="round"/>
<path d="M104.7,1756.7C104.8,1760.2 105.0,1771.8 105.3,1777.6C105.5,1783.4 104.6,1785.3 106.4,1791.4C108.1,1797.5 110.5,1808.3 115.8,1814.2C121.0,1820.1 127.9,1822.4 137.9,1826.9C147.9,1831.3 165.2,1836.3 175.7,1841.1C186.2,1846.0 189.9,1850.8 200.9,1855.9C211.9,1861.0 229.2,1866.0 241.8,1871.9C254.4,1877.8 267.7,1884.0 276.5,1891.5C285.2,1898.9 289.5,1908.4 294.2,1916.8C298.9,1925.1 301.5,1932.2 304.7,1941.4C307.9,1950.6 309.6,1961.7 313.3,1972.1C317.0,1982.4 321.8,1993.2 326.8,2003.8C331.8,2014.3 337.6,2024.8 343.4,2035.3C349.1,2045.8 356.2,2056.2 361.4,2066.6C366.7,2077.1 370.6,2087.6 374.7,2098.1C378.8,2108.5 382.7,2119.6 386.3,2129.5C389.9,2139.4 394.6,2152.6 396.3,2157.2 M104.7,1756.7C104.8,1760.2 105.0,1771.8 105.3,1777.6C105.5,1783.4 104.6,1785.4 106.4,1791.4C108.1,1797.5 110.5,1808.2 115.8,1814.1C121.0,1819.9 127.9,1822.2 137.9,1826.7C147.9,1831.2 165.2,1836.1 175.7,1840.9C186.2,1845.8 189.9,1850.6 200.9,1855.7C211.9,1860.8 229.2,1865.7 241.8,1871.6C254.4,1877.6 267.7,1883.7 276.5,1891.2C285.2,1898.6 289.6,1908.1 294.3,1916.5C299.1,1924.8 301.7,1931.9 304.9,1941.2C308.1,1950.4 310.0,1961.6 313.7,1972.0C317.4,1982.4 322.2,1993.1 327.3,2003.6C332.3,2014.2 338.1,2024.7 343.9,2035.2C349.8,2045.7 356.9,2056.1 362.1,2066.5C367.4,2077.0 371.4,2087.5 375.6,2098.0C379.8,2108.5 383.7,2119.6 387.3,2129.4C391.0,2139.3 395.8,2152.6 397.6,2157.2 M104.7,1756.7C104.8,1760.2 105.0,1771.8 105.3,1777.6C105.5,1783.4 104.6,1785.4 106.4,1791.4C108.1,1797.5 110.5,1808.1 115.8,1813.9C121.0,1819.8 127.9,1822.0 137.9,1826.5C147.9,1831.0 165.2,1835.9 175.7,1840.8C186.2,1845.6 189.9,1850.4 200.9,1855.5C211.9,1860.6 229.2,1865.5 241.8,1871.4C254.4,1877.3 267.7,1883.4 276.5,1890.9C285.2,1898.3 289.7,1907.8 294.5,1916.2C299.3,1924.5 301.9,1931.7 305.2,1941.0C308.4,1950.3 310.3,1961.5 314.1,1971.9C317.8,1982.3 322.6,1993.0 327.7,2003.5C332.8,2014.1 338.7,2024.6 344.5,2035.1C350.4,2045.6 357.5,2056.0 362.9,2066.4C368.2,2076.9 372.2,2087.5 376.5,2097.9C380.7,2108.4 384.6,2119.5 388.4,2129.4C392.1,2139.3 397.1,2152.6 398.8,2157.2 M104.7,1756.7C104.8,1760.2 105.0,1771.8 105.3,1777.6C105.5,1783.4 104.6,1785.4 106.4,1791.4C108.1,1797.5 110.5,1807.9 115.8,1813.8C121.0,1819.6 127.9,1821.9 137.9,1826.3C147.9,1830.8 165.2,1835.8 175.7,1840.6C186.2,1845.4 189.9,1850.2 200.9,1855.3C211.9,1860.4 229.2,1865.3 241.8,1871.2C254.4,1877.1 267.7,1883.1 276.5,1890.6C285.3,1898.0 289.8,1907.5 294.7,1915.8C299.5,1924.2 302.1,1931.4 305.4,1940.8C308.7,1950.1 310.6,1961.3 314.4,1971.8C318.2,1982.2 323.1,1992.9 328.2,2003.4C333.3,2013.9 339.2,2024.5 345.1,2035.0C351.0,2045.5 358.2,2055.9 363.6,2066.4C369.0,2076.8 373.0,2087.4 377.3,2097.9C381.6,2108.4 385.6,2119.4 389.4,2129.3C393.2,2139.2 398.3,2152.6 400.1,2157.2 M104.7,1756.7C104.8,1760.2 105.0,1771.8 105.3,1777.6C105.5,1783.4 104.6,1785.4 106.4,1791.4C108.1,1797.4 110.5,1807.8 115.8,1813.6C121.0,1819.4 127.9,1821.7 137.9,1826.2C147.9,1830.6 165.2,1835.6 175.7,1840.4C186.2,1845.2 189.9,1850.0 200.9,1855.1C211.9,1860.2 229.2,1865.1 241.8,1870.9C254.4,1876.8 267.6,1882.8 276.5,1890.3C285.3,1897.7 290.0,1907.2 294.8,1915.5C299.7,1923.9 302.3,1931.2 305.6,1940.5C309.0,1949.9 311.0,1961.2 314.8,1971.7C318.6,1982.2 323.5,1992.7 328.7,2003.3C333.8,2013.8 339.7,2024.4 345.7,2034.9C351.6,2045.4 358.9,2055.8 364.3,2066.3C369.7,2076.8 373.9,2087.3 378.2,2097.8C382.6,2108.3 386.5,2119.4 390.4,2129.3C394.3,2139.2 399.6,2152.5 401.4,2157.2 M104.7,1756.7C104.8,1760.2 105.0,1771.8 105.3,1777.6C105.5,1783.4 104.6,1785.5 106.4,1791.4C108.1,1797.4 110.5,1807.7 115.8,1813.5C121.0,1819.2 127.9,1821.5 137.9,1826.0C147.9,1830.4 165.2,1835.4 175.7,1840.2C186.2,1845.0 189.9,1849.8 200.9,1854.9C211.9,1859.9 229.2,1864.8 241.8,1870.7C254.4,1876.6 267.6,1882.6 276.5,1890.0C285.3,1897.4 290.1,1906.8 295.0,1915.2C299.9,1923.6 302.5,1930.9 305.9,1940.3C309.3,1949.7 311.3,1961.1 315.2,1971.6C319.0,1982.1 324.0,1992.6 329.1,2003.2C334.3,2013.7 340.3,2024.3 346.2,2034.8C352.2,2045.3 359.5,2055.7 365.0,2066.2C370.5,2076.7 374.7,2087.3 379.1,2097.8C383.5,2108.3 387.5,2119.3 391.4,2129.2C395.4,2139.1 400.8,2152.5 402.7,2157.2 M104.7,1756.7C104.8,1760.2 105.0,1771.8 105.3,1777.6C105.5,1783.4 104.6,1785.5 106.4,1791.4C108.1,1797.4 110.5,1807.6 115.8,1813.3C121.0,1819.0 127.9,1821.3 137.9,1825.8C147.9,1830.3 165.2,1835.2 175.7,1840.1C186.2,1844.9 189.9,1849.6 200.9,1854.7C211.9,1859.7 229.2,1864.6 241.8,1870.5C254.4,1876.3 267.6,1882.3 276.5,1889.7C285.4,1897.1 290.2,1906.5 295.1,1914.9C300.1,1923.3 302.7,1930.6 306.1,1940.1C309.5,1949.5 311.6,1961.0 315.5,1971.5C319.5,1982.0 324.4,1992.5 329.6,2003.0C334.8,2013.6 340.8,2024.2 346.8,2034.7C352.8,2045.2 360.2,2055.6 365.7,2066.1C371.3,2076.6 375.5,2087.2 380.0,2097.7C384.4,2108.2 388.5,2119.2 392.5,2129.1C396.5,2139.1 402.1,2152.5 404.0,2157.2 M104.7,1756.7C104.8,1760.2 105.0,1771.8 105.3,1777.6C105.5,1783.4 104.6,1785.5 106.4,1791.4C108.1,1797.4 110.5,1807.5 115.8,1813.2C121.0,1818.9 127.9,1821.2 137.9,1825.6C147.9,1830.1 165.2,1835.1 175.7,1839.9C186.2,1844.7 189.9,1849.4 200.9,1854.5C211.9,1859.5 229.2,1864.4 241.8,1870.2C254.4,1876.1 267.6,1882.0 276.5,1889.4C285.4,1896.8 290.3,1906.2 295.3,1914.6C300.3,1923.0 303.0,1930.4 306.4,1939.9C309.8,1949.3 312.0,1960.9 315.9,1971.4C319.9,1981.9 324.8,1992.4 330.1,2002.9C335.3,2013.5 341.3,2024.1 347.4,2034.6C353.4,2045.1 360.9,2055.5 366.4,2066.0C372.0,2076.5 376.4,2087.1 380.9,2097.6C385.4,2108.2 389.4,2119.2 393.5,2129.1C397.5,2139.0 403.3,2152.5 405.3,2157.2 M104.7,1756.7C104.8,1760.2 105.0,1771.8 105.3,1777.6C105.5,1783.4 104.6,1785.5 106.4,1791.4C108.1,1797.3 110.5,1807.4 115.8,1813.0C121.0,1818.7 127.9,1821.0 137.9,1825.4C147.9,1829.9 165.2,1834.9 175.7,1839.7C186.2,1844.5 189.9,1849.2 200.9,1854.2C211.9,1859.3 229.2,1864.2 241.8,1870.0C254.4,1875.8 267.5,1881.7 276.5,1889.1C285.4,1896.5 290.4,1905.9 295.5,1914.3C300.5,1922.7 303.2,1930.1 306.6,1939.6C310.1,1949.1 312.3,1960.8 316.3,1971.3C320.3,1981.9 325.3,1992.3 330.5,2002.8C335.8,2013.3 341.9,2024.0 348.0,2034.5C354.1,2045.0 361.5,2055.4 367.2,2065.9C372.8,2076.4 377.2,2087.1 381.7,2097.6C386.3,2108.1 390.4,2119.1 394.5,2129.0C398.6,2139.0 404.6,2152.5 406.6,2157.2 M104.7,1756.7C104.8,1760.2 105.0,1771.8 105.3,1777.6C105.5,1783.4 104.6,1785.5 106.4,1791.4C108.1,1797.3 110.5,1807.2 115.8,1812.9C121.0,1818.5 127.9,1820.8 137.9,1825.3C147.9,1829.7 165.2,1834.7 175.7,1839.5C186.2,1844.3 189.9,1849.0 200.9,1854.0C211.9,1859.1 229.2,1864.0 241.8,1869.8C254.4,1875.5 267.5,1881.4 276.5,1888.8C285.4,1896.2 290.6,1905.5 295.6,1914.0C300.7,1922.4 303.4,1929.9 306.9,1939.4C310.4,1949.0 312.6,1960.7 316.6,1971.3C320.7,1981.8 325.7,1992.2 331.0,2002.7C336.3,2013.2 342.4,2023.9 348.5,2034.4C354.7,2044.9 362.2,2055.3 367.9,2065.8C373.6,2076.3 378.0,2087.0 382.6,2097.5C387.2,2108.0 391.3,2119.0 395.5,2129.0C399.7,2138.9 405.8,2152.5 407.9,2157.2" fill="none" stroke="#111" stroke-width="1.3" stroke-linejoin="round" stroke-linecap="round" opacity="1.0"/>
<path d="M182.1,1841.5C183.6,1842.0 188.2,1842.6 191.3,1844.2C194.4,1845.7 197.8,1849.0 200.5,1850.8C203.3,1852.7 206.7,1854.7 207.9,1855.5" fill="none" stroke="#444" stroke-width="1.3" stroke-linejoin="round" stroke-linecap="round" opacity="1.0"/>
<path d="M410.5,1791.4 L382.1,1772.5 M392.6,1772.9 L382.1,1772.5 L386.5,1782.1" fill="none" stroke="#111" stroke-width="1.6" stroke-linecap="round" stroke-linejoin="round"/>
<text x="412.0" y="1804.0" font-family="Liberation Sans, sans-serif" font-size="28" fill="#1a1a1a">1st</text>
<path d="M399.8,2106.3 L443.1,2106.3 M434.1,2111.8 L443.1,2106.3 L434.1,2100.8" fill="none" stroke="#111" stroke-width="1.6" stroke-linecap="round" stroke-linejoin="round"/>
<path d="M812.9,2121.7C813.6,2115.0 815.9,2093.7 817.1,2081.4C818.3,2069.1 818.9,2058.1 820.1,2047.9C821.4,2037.6 821.9,2033.3 824.5,2020.1C827.2,2006.8 832.3,1983.6 836.2,1968.2C840.1,1952.9 844.2,1940.1 848.1,1928.1C852.0,1916.1 855.9,1906.3 859.7,1896.1C863.6,1886.0 867.9,1875.5 871.4,1867.2C874.9,1859.0 876.8,1853.6 880.8,1846.8C884.8,1839.9 889.6,1831.7 895.2,1826.0C900.8,1820.2 906.5,1816.6 914.4,1812.5C922.2,1808.4 934.5,1805.3 942.1,1801.4C949.6,1797.6 953.9,1793.9 959.5,1789.4C965.2,1784.8 968.3,1778.2 976.1,1773.9C983.9,1769.7 995.6,1766.8 1006.4,1763.8C1017.3,1760.9 1029.2,1758.5 1041.4,1756.1C1053.5,1753.7 1068.9,1751.1 1079.5,1749.5C1090.1,1747.8 1096.2,1747.3 1105.0,1746.1C1113.7,1744.9 1118.8,1743.9 1132.0,1742.2C1145.2,1740.6 1166.7,1737.9 1184.0,1736.3C1201.3,1734.7 1223.2,1733.4 1236.0,1732.7C1248.8,1732.0 1256.8,1732.1 1261.0,1732.0" fill="none" stroke="#111" stroke-width="1.8" stroke-linejoin="round" stroke-linecap="round"/>
<path d="M812.9,2121.7C813.4,2115.0 814.7,2093.7 815.7,2081.4C816.6,2069.1 817.2,2058.1 818.4,2047.9C819.6,2037.6 820.2,2033.3 822.9,2020.1C825.6,2006.8 830.6,1983.6 834.5,1968.2C838.4,1952.9 842.3,1940.3 846.2,1928.1C850.0,1915.8 853.9,1905.4 857.8,1894.8C861.7,1884.2 865.9,1873.2 869.4,1864.6C873.0,1855.9 874.9,1850.2 878.9,1843.1C882.8,1835.9 887.7,1827.3 893.3,1821.6C898.9,1815.9 904.8,1812.9 912.7,1808.8C920.5,1804.8 932.7,1801.9 940.4,1797.4C948.1,1792.9 952.9,1787.3 958.7,1782.0C964.5,1776.6 967.4,1769.1 975.2,1765.2C983.1,1761.3 994.9,1760.5 1005.9,1758.5C1017.0,1756.5 1029.1,1754.8 1041.4,1753.1C1053.8,1751.4 1069.4,1749.4 1080.0,1748.1C1090.6,1746.9 1096.3,1746.5 1105.0,1745.4C1113.6,1744.4 1118.8,1743.5 1132.0,1742.0C1145.2,1740.4 1166.7,1737.6 1184.0,1736.0C1201.3,1734.5 1222.4,1733.3 1236.0,1732.6C1249.6,1731.8 1260.6,1731.9 1265.5,1731.7 M812.9,2121.7C813.4,2115.0 815.0,2093.7 816.0,2081.4C817.0,2069.1 817.6,2058.1 818.8,2047.9C820.0,2037.6 820.6,2033.3 823.2,2020.1C825.9,2006.8 831.0,1983.6 834.9,1968.2C838.8,1952.9 842.7,1940.3 846.6,1928.1C850.5,1915.9 854.4,1905.6 858.2,1895.1C862.1,1884.6 866.4,1873.7 869.9,1865.2C873.4,1856.6 875.3,1851.0 879.3,1843.9C883.3,1836.8 888.1,1828.3 893.7,1822.6C899.3,1816.8 905.2,1813.7 913.1,1809.6C920.9,1805.6 933.1,1802.6 940.8,1798.3C948.4,1794.0 953.1,1788.8 958.9,1783.6C964.7,1778.4 967.6,1771.1 975.4,1767.1C983.3,1763.1 995.1,1761.9 1006.1,1759.7C1017.1,1757.4 1029.1,1755.6 1041.4,1753.8C1053.7,1751.9 1069.3,1749.8 1079.9,1748.4C1090.5,1747.1 1096.3,1746.7 1105.0,1745.6C1113.6,1744.5 1118.8,1743.6 1132.0,1742.0C1145.2,1740.4 1166.7,1737.7 1184.0,1736.1C1201.3,1734.5 1222.6,1733.3 1236.0,1732.6C1249.4,1731.9 1259.8,1731.9 1264.5,1731.8 M812.9,2121.7C813.5,2115.0 815.2,2093.7 816.3,2081.4C817.3,2069.1 818.0,2058.1 819.2,2047.9C820.4,2037.6 820.9,2033.3 823.6,2020.1C826.3,2006.8 831.4,1983.6 835.3,1968.2C839.2,1952.9 843.1,1940.2 847.0,1928.1C850.9,1915.9 854.8,1905.8 858.7,1895.4C862.5,1885.0 866.8,1874.2 870.3,1865.8C873.8,1857.3 875.8,1851.8 879.7,1844.7C883.7,1837.7 888.5,1829.2 894.2,1823.5C899.8,1817.8 905.6,1814.5 913.4,1810.5C921.3,1806.4 933.5,1803.4 941.2,1799.2C948.8,1795.0 953.3,1790.3 959.1,1785.3C964.8,1780.2 967.8,1773.1 975.6,1769.1C983.5,1765.0 995.2,1763.3 1006.2,1760.9C1017.1,1758.4 1029.1,1756.5 1041.4,1754.4C1053.7,1752.4 1069.2,1750.2 1079.8,1748.7C1090.4,1747.3 1096.3,1746.9 1105.0,1745.7C1113.7,1744.6 1118.8,1743.7 1132.0,1742.1C1145.2,1740.5 1166.7,1737.7 1184.0,1736.2C1201.3,1734.6 1222.8,1733.3 1236.0,1732.6C1249.3,1731.9 1258.9,1732.0 1263.5,1731.9 M812.9,2121.7C813.5,2115.0 815.5,2093.7 816.6,2081.4C817.7,2069.1 818.3,2058.1 819.6,2047.9C820.8,2037.6 821.3,2033.3 824.0,2020.1C826.7,2006.8 831.7,1983.6 835.6,1968.2C839.5,1952.9 843.5,1940.2 847.5,1928.1C851.4,1916.0 855.2,1906.0 859.1,1895.7C863.0,1885.4 867.2,1874.7 870.7,1866.3C874.3,1858.0 876.2,1852.5 880.2,1845.5C884.1,1838.6 889.0,1830.2 894.6,1824.5C900.2,1818.8 906.0,1815.4 913.8,1811.3C921.6,1807.2 933.9,1804.2 941.5,1800.1C949.1,1796.0 953.5,1791.7 959.3,1786.9C965.0,1782.0 968.0,1775.1 975.8,1771.0C983.7,1766.9 995.3,1764.7 1006.3,1762.1C1017.2,1759.4 1029.2,1757.3 1041.4,1755.1C1053.6,1752.9 1069.1,1750.6 1079.7,1749.0C1090.3,1747.5 1096.2,1747.0 1105.0,1745.9C1113.7,1744.7 1118.8,1743.7 1132.0,1742.1C1145.2,1740.5 1166.7,1737.8 1184.0,1736.2C1201.3,1734.6 1222.9,1733.4 1236.0,1732.6C1249.1,1731.9 1258.1,1732.0 1262.5,1731.9 M812.9,2121.7C813.6,2115.0 815.7,2093.7 816.9,2081.4C818.1,2069.1 818.7,2058.1 819.9,2047.9C821.2,2037.6 821.7,2033.3 824.4,2020.1C827.0,2006.8 832.1,1983.6 836.0,1968.2C839.9,1952.9 844.0,1940.1 847.9,1928.1C851.8,1916.0 855.7,1906.2 859.5,1896.0C863.4,1885.8 867.7,1875.2 871.2,1866.9C874.7,1858.7 876.6,1853.3 880.6,1846.4C884.6,1839.4 889.4,1831.2 895.0,1825.5C900.6,1819.8 906.4,1816.2 914.2,1812.1C922.0,1808.0 934.3,1804.9 941.9,1801.0C949.4,1797.1 953.8,1793.2 959.4,1788.5C965.1,1783.9 968.2,1777.2 976.0,1772.9C983.8,1768.7 995.5,1766.1 1006.4,1763.2C1017.3,1760.4 1029.2,1758.1 1041.4,1755.8C1053.6,1753.5 1069.0,1750.9 1079.6,1749.3C1090.2,1747.7 1096.2,1747.2 1105.0,1746.0C1113.7,1744.9 1118.8,1743.8 1132.0,1742.2C1145.2,1740.6 1166.7,1737.9 1184.0,1736.3C1201.3,1734.7 1223.1,1733.4 1236.0,1732.7C1248.9,1732.0 1257.2,1732.1 1261.5,1732.0 M812.9,2121.7C813.6,2115.0 816.0,2093.7 817.2,2081.4C818.4,2069.1 819.0,2058.1 820.3,2047.9C821.5,2037.6 822.0,2033.3 824.7,2020.1C827.4,2006.8 832.4,1983.6 836.4,1968.2C840.3,1952.9 844.4,1940.1 848.3,1928.1C852.3,1916.1 856.1,1906.4 860.0,1896.3C863.8,1886.2 868.1,1875.7 871.6,1867.5C875.1,1859.4 877.1,1854.0 881.0,1847.2C885.0,1840.3 889.9,1832.1 895.4,1826.4C901.0,1820.7 906.7,1817.0 914.5,1812.9C922.3,1808.8 934.7,1805.7 942.3,1801.9C949.8,1798.1 954.0,1794.7 959.6,1790.2C965.3,1785.7 968.4,1779.2 976.2,1774.9C984.0,1770.6 995.6,1767.5 1006.5,1764.4C1017.4,1761.4 1029.2,1758.9 1041.4,1756.5C1053.5,1754.0 1068.9,1751.3 1079.5,1749.6C1090.1,1747.9 1096.2,1747.4 1105.0,1746.2C1113.7,1745.0 1118.8,1743.9 1132.0,1742.3C1145.2,1740.6 1166.7,1737.9 1184.0,1736.3C1201.3,1734.8 1223.3,1733.4 1236.0,1732.7C1248.8,1732.0 1256.4,1732.2 1260.5,1732.0 M812.9,2121.7C813.7,2115.0 816.2,2093.7 817.5,2081.4C818.8,2069.1 819.4,2058.1 820.7,2047.9C821.9,2037.6 822.4,2033.3 825.1,2020.1C827.8,2006.8 832.8,1983.6 836.7,1968.2C840.7,1952.9 844.8,1940.0 848.8,1928.1C852.7,1916.1 856.5,1906.6 860.4,1896.6C864.3,1886.6 868.5,1876.2 872.0,1868.1C875.5,1860.0 877.5,1854.8 881.5,1848.0C885.4,1841.2 890.3,1833.1 895.9,1827.4C901.4,1821.7 907.1,1817.9 914.9,1813.8C922.7,1809.6 935.1,1806.4 942.6,1802.8C950.1,1799.1 954.2,1796.1 959.8,1791.8C965.4,1787.5 968.6,1781.2 976.4,1776.8C984.2,1772.5 995.8,1768.9 1006.6,1765.6C1017.4,1762.4 1029.2,1759.7 1041.3,1757.1C1053.5,1754.5 1068.7,1751.7 1079.3,1749.9C1089.9,1748.1 1096.2,1747.6 1105.0,1746.3C1113.7,1745.1 1118.8,1744.0 1132.0,1742.3C1145.2,1740.7 1166.7,1738.0 1184.0,1736.4C1201.3,1734.8 1223.4,1733.4 1236.0,1732.7C1248.6,1732.0 1255.5,1732.2 1259.5,1732.1 M812.9,2121.7C813.7,2115.0 816.5,2093.7 817.8,2081.4C819.2,2069.1 819.8,2058.1 821.0,2047.9C822.3,2037.6 822.8,2033.3 825.5,2020.1C828.1,2006.8 833.2,1983.6 837.1,1968.2C841.1,1952.9 845.2,1940.0 849.2,1928.1C853.1,1916.2 856.9,1906.8 860.8,1896.9C864.7,1887.0 869.0,1876.7 872.5,1868.7C876.0,1860.7 877.9,1855.5 881.9,1848.8C885.9,1842.1 890.7,1834.1 896.3,1828.4C901.9,1822.7 907.5,1818.7 915.3,1814.6C923.1,1810.5 935.5,1807.2 943.0,1803.7C950.5,1800.2 954.4,1797.6 960.0,1793.5C965.6,1789.3 968.8,1783.2 976.6,1778.8C984.4,1774.3 995.9,1770.3 1006.7,1766.8C1017.5,1763.3 1029.3,1760.6 1041.3,1757.8C1053.4,1755.0 1068.6,1752.1 1079.2,1750.2C1089.8,1748.3 1096.2,1747.8 1105.0,1746.5C1113.8,1745.2 1118.8,1744.0 1132.0,1742.4C1145.2,1740.7 1166.7,1738.1 1184.0,1736.5C1201.3,1734.9 1223.6,1733.5 1236.0,1732.8C1248.4,1732.0 1254.7,1732.3 1258.4,1732.2 M812.9,2121.7C813.8,2115.0 816.7,2093.7 818.1,2081.4C819.6,2069.1 820.1,2058.1 821.4,2047.9C822.7,2037.6 823.2,2033.3 825.8,2020.1C828.5,2006.8 833.5,1983.6 837.5,1968.2C841.4,1952.9 845.7,1939.9 849.6,1928.1C853.6,1916.2 857.4,1906.9 861.3,1897.2C865.1,1887.4 869.4,1877.3 872.9,1869.3C876.4,1861.4 878.4,1856.3 882.3,1849.6C886.3,1843.0 891.2,1835.1 896.7,1829.3C902.3,1823.6 907.9,1819.5 915.6,1815.4C923.4,1811.3 935.9,1808.0 943.4,1804.6C950.8,1801.2 954.6,1799.1 960.2,1795.1C965.8,1791.1 969.0,1785.2 976.8,1780.7C984.6,1776.2 996.1,1771.7 1006.8,1768.0C1017.6,1764.3 1029.3,1761.4 1041.3,1758.5C1053.4,1755.6 1068.5,1752.5 1079.1,1750.5C1089.7,1748.5 1096.1,1748.0 1105.0,1746.6C1113.8,1745.3 1118.8,1744.1 1132.0,1742.4C1145.2,1740.7 1166.7,1738.1 1184.0,1736.5C1201.3,1734.9 1223.8,1733.5 1236.0,1732.8C1248.3,1732.1 1253.9,1732.3 1257.4,1732.2 M812.9,2121.7C813.8,2115.0 817.0,2093.7 818.4,2081.4C819.9,2069.1 820.5,2058.1 821.8,2047.9C823.1,2037.6 823.5,2033.3 826.2,2020.1C828.9,2006.8 833.9,1983.6 837.8,1968.2C841.8,1952.9 846.1,1939.9 850.0,1928.1C854.0,1916.3 857.8,1907.1 861.7,1897.5C865.6,1887.8 869.8,1877.8 873.3,1869.9C876.8,1862.1 878.8,1857.1 882.8,1850.5C886.7,1843.9 891.6,1836.0 897.2,1830.3C902.7,1824.6 908.3,1820.4 916.0,1816.2C923.8,1812.1 936.3,1808.7 943.7,1805.5C951.1,1802.2 954.8,1800.5 960.4,1796.7C965.9,1792.9 969.2,1787.2 977.0,1782.6C984.8,1778.1 996.2,1773.1 1006.9,1769.2C1017.7,1765.3 1029.3,1762.2 1041.3,1759.1C1053.3,1756.1 1068.4,1752.9 1079.0,1750.8C1089.6,1748.8 1096.1,1748.2 1105.0,1746.8C1113.8,1745.4 1118.8,1744.2 1132.0,1742.5C1145.2,1740.8 1166.7,1738.2 1184.0,1736.6C1201.3,1735.0 1224.0,1733.5 1236.0,1732.8C1248.1,1732.1 1253.0,1732.4 1256.4,1732.3" fill="none" stroke="#111" stroke-width="1.3" stroke-linejoin="round" stroke-linecap="round" opacity="1.0"/>
<path d="M812.9,2135.1C813.3,2128.4 814.3,2110.5 815.1,2094.9C815.9,2079.2 817.0,2056.8 817.9,2041.1C818.8,2025.5 819.8,2012.7 820.7,2000.9C821.5,1989.0 822.0,1981.2 822.9,1970.0C823.8,1958.8 824.9,1944.2 826.2,1933.7C827.5,1923.2 828.9,1915.6 830.8,1906.9C832.6,1898.2 834.7,1887.4 837.1,1881.5C839.4,1875.5 842.1,1873.8 844.9,1871.3C847.8,1868.8 851.0,1868.0 854.4,1866.6C857.8,1865.1 861.9,1864.8 865.3,1862.5C868.8,1860.3 871.7,1856.5 875.0,1853.1C878.3,1849.8 880.9,1846.1 885.0,1842.4C889.1,1838.7 893.1,1834.9 899.6,1831.1C906.1,1827.3 915.9,1823.1 923.8,1819.6C931.7,1816.0 935.1,1813.4 946.8,1809.8C958.6,1806.2 982.2,1801.2 994.1,1798.0C1005.9,1794.7 1010.1,1793.2 1018.0,1790.0C1025.9,1786.9 1031.6,1783.7 1041.4,1779.2C1051.2,1774.6 1066.3,1767.5 1076.9,1762.6C1087.5,1757.7 1095.4,1753.0 1105.0,1749.7C1114.5,1746.5 1122.1,1745.2 1134.5,1743.0C1146.8,1740.9 1171.4,1738.0 1178.8,1737.0" fill="none" stroke="#333" stroke-width="1.3" stroke-linejoin="round" stroke-linecap="round" opacity="1.0"/>
<path d="M812.9,2135.1C813.6,2124.0 815.7,2088.1 817.3,2068.0C819.0,2047.9 820.9,2030.6 822.9,2014.3C824.9,1997.9 827.0,1982.3 829.2,1970.0C831.4,1957.7 833.9,1949.6 836.2,1940.4C838.4,1931.2 839.6,1924.2 842.6,1914.6C845.6,1905.1 851.1,1890.8 854.4,1883.0C857.7,1875.1 859.7,1871.9 862.4,1867.4C865.1,1862.9 867.7,1860.0 870.6,1855.8C873.4,1851.7 877.9,1844.6 879.4,1842.4" fill="none" stroke="#333" stroke-width="1.3" stroke-linejoin="round" stroke-linecap="round" opacity="1.0"/>
<path d="M812.9,2128.4C813.8,2117.2 816.6,2080.8 818.4,2061.3C820.3,2041.8 821.8,2026.8 824.0,2011.6C826.2,1996.4 829.1,1982.1 831.5,1970.0C833.9,1957.9 836.1,1948.5 838.4,1939.1C840.7,1929.7 842.1,1923.0 845.1,1913.6C848.0,1904.2 853.0,1890.5 856.1,1882.7C859.3,1874.9 861.3,1871.3 863.9,1866.6C866.5,1861.9 870.4,1856.5 871.7,1854.5" fill="none" stroke="#333" stroke-width="1.3" stroke-linejoin="round" stroke-linecap="round" opacity="1.0"/>
<path d="M812.9,1745.7C813.0,1747.3 813.1,1747.7 813.3,1755.5C813.6,1763.4 813.3,1783.0 814.6,1792.7C815.8,1802.4 817.6,1806.9 820.9,1813.5C824.3,1820.1 830.2,1827.0 834.5,1832.3C838.8,1837.7 843.0,1842.1 846.7,1845.8C850.4,1849.4 852.0,1852.4 856.7,1854.5C861.4,1856.6 867.8,1855.9 875.0,1858.2C882.2,1860.5 892.0,1864.3 900.1,1868.2C908.1,1872.2 916.5,1877.3 923.5,1882.0C930.6,1886.7 936.5,1889.5 942.4,1896.5C948.2,1903.4 953.6,1912.8 958.4,1923.6C963.3,1934.5 968.0,1950.7 971.5,1961.6C974.9,1972.5 975.3,1978.6 978.9,1989.1C982.5,1999.6 988.2,2013.8 992.9,2024.4C997.6,2034.9 1001.5,2041.9 1007.2,2052.6C1012.9,2063.2 1021.9,2078.7 1027.1,2088.1C1032.4,2097.6 1034.4,2100.2 1038.7,2109.2C1042.9,2118.1 1048.8,2132.8 1052.7,2141.7C1056.6,2150.5 1060.6,2158.6 1062.2,2162.0" fill="none" stroke="#111" stroke-width="1.8" stroke-linejoin="round" stroke-linecap="round"/>
<path d="M812.9,1745.7C813.0,1747.3 813.1,1748.4 813.3,1755.5C813.6,1762.7 813.2,1780.0 814.2,1788.7C815.3,1797.3 816.4,1801.2 819.6,1807.5C822.7,1813.8 828.6,1820.9 832.9,1826.3C837.1,1831.7 841.4,1835.9 845.1,1839.7C848.8,1843.5 850.2,1846.7 855.0,1849.1C859.8,1851.6 866.5,1851.8 873.9,1854.5C881.3,1857.2 891.4,1861.1 899.6,1865.2C907.8,1869.4 916.1,1874.6 923.2,1879.3C930.3,1884.0 936.2,1886.6 942.1,1893.4C948.0,1900.3 953.6,1909.3 958.7,1920.3C963.8,1931.3 969.1,1947.9 972.6,1959.2C976.1,1970.5 976.1,1977.4 979.7,1988.1C983.2,1998.8 989.1,2013.1 993.9,2023.7C998.6,2034.3 1002.4,2041.3 1008.0,2051.9C1013.7,2062.5 1022.7,2078.0 1027.9,2087.5C1033.1,2096.9 1035.0,2099.7 1039.3,2108.7C1043.6,2117.7 1049.4,2132.6 1053.5,2141.5C1057.6,2150.3 1062.0,2158.6 1063.7,2162.0 M812.9,1745.7C813.0,1747.3 813.1,1748.2 813.3,1755.5C813.6,1762.8 813.2,1780.7 814.3,1789.6C815.4,1798.5 816.7,1802.5 819.9,1808.8C823.0,1815.2 829.0,1822.3 833.2,1827.6C837.5,1833.0 841.7,1837.3 845.4,1841.1C849.1,1844.8 850.6,1847.9 855.4,1850.3C860.2,1852.7 866.7,1852.7 874.1,1855.3C881.5,1857.9 891.5,1861.8 899.7,1865.9C907.9,1870.0 916.2,1875.2 923.3,1879.9C930.4,1884.6 936.2,1887.2 942.1,1894.1C948.0,1901.0 953.6,1910.1 958.6,1921.0C963.7,1932.0 968.8,1948.5 972.3,1959.8C975.8,1971.0 975.9,1977.6 979.5,1988.3C983.0,1999.0 988.9,2013.2 993.6,2023.8C998.4,2034.5 1002.2,2041.4 1007.9,2052.0C1013.5,2062.7 1022.5,2078.2 1027.7,2087.6C1032.9,2097.1 1034.9,2099.8 1039.2,2108.8C1043.4,2117.8 1049.3,2132.6 1053.3,2141.5C1057.4,2150.4 1061.7,2158.6 1063.4,2162.0 M812.9,1745.7C813.0,1747.3 813.1,1748.1 813.3,1755.5C813.6,1763.0 813.2,1781.4 814.4,1790.5C815.5,1799.6 817.0,1803.8 820.2,1810.2C823.4,1816.6 829.3,1823.6 833.6,1829.0C837.9,1834.3 842.1,1838.6 845.8,1842.4C849.5,1846.2 851.0,1849.2 855.8,1851.5C860.5,1853.8 867.0,1853.6 874.4,1856.1C881.7,1858.6 891.6,1862.5 899.8,1866.6C908.0,1870.6 916.3,1875.8 923.3,1880.5C930.4,1885.2 936.3,1887.9 942.2,1894.8C948.1,1901.6 953.6,1910.9 958.6,1921.8C963.6,1932.7 968.6,1949.1 972.1,1960.3C975.5,1971.4 975.8,1977.9 979.3,1988.5C982.9,1999.2 988.7,2013.4 993.4,2024.0C998.2,2034.6 1002.0,2041.6 1007.7,2052.2C1013.4,2062.8 1022.3,2078.3 1027.6,2087.8C1032.8,2097.2 1034.8,2099.9 1039.0,2108.9C1043.3,2117.9 1049.1,2132.7 1053.1,2141.5C1057.1,2150.4 1061.4,2158.6 1063.0,2162.0 M812.9,1745.7C813.0,1747.3 813.1,1747.9 813.3,1755.5C813.6,1763.1 813.3,1782.0 814.5,1791.4C815.6,1800.7 817.2,1805.0 820.5,1811.5C823.7,1818.0 829.7,1824.9 834.0,1830.3C838.2,1835.7 842.5,1840.0 846.2,1843.7C849.9,1847.5 851.4,1850.5 856.1,1852.7C860.9,1854.9 867.3,1854.5 874.6,1856.9C881.9,1859.4 891.8,1863.2 899.9,1867.2C908.0,1871.3 916.4,1876.4 923.4,1881.1C930.5,1885.8 936.4,1888.5 942.3,1895.4C948.1,1902.3 953.6,1911.6 958.5,1922.5C963.5,1933.4 968.4,1949.8 971.8,1960.8C975.3,1971.8 975.6,1978.2 979.1,1988.8C982.7,1999.3 988.5,2013.5 993.2,2024.1C998.0,2034.7 1001.8,2041.7 1007.5,2052.3C1013.2,2063.0 1022.1,2078.5 1027.4,2087.9C1032.6,2097.4 1034.6,2100.1 1038.9,2109.0C1043.1,2117.9 1049.0,2132.8 1053.0,2141.6C1056.9,2150.4 1061.1,2158.6 1062.7,2162.0 M812.9,1745.7C813.0,1747.3 813.1,1747.8 813.3,1755.5C813.6,1763.3 813.3,1782.7 814.5,1792.3C815.8,1801.8 817.5,1806.3 820.8,1812.9C824.1,1819.4 830.0,1826.3 834.3,1831.7C838.6,1837.0 842.8,1841.4 846.5,1845.1C850.2,1848.8 851.8,1851.8 856.5,1853.9C861.2,1856.0 867.6,1855.4 874.9,1857.8C882.1,1860.1 891.9,1863.9 900.0,1867.9C908.1,1871.9 916.4,1877.0 923.5,1881.7C930.5,1886.4 936.5,1889.2 942.3,1896.1C948.2,1903.0 953.6,1912.4 958.5,1923.3C963.3,1934.1 968.2,1950.4 971.6,1961.3C975.0,1972.3 975.4,1978.5 979.0,1989.0C982.5,1999.5 988.3,2013.7 993.0,2024.3C997.7,2034.9 1001.6,2041.9 1007.3,2052.5C1013.0,2063.1 1022.0,2078.6 1027.2,2088.1C1032.4,2097.5 1034.5,2100.2 1038.7,2109.1C1043.0,2118.0 1048.8,2132.8 1052.8,2141.6C1056.7,2150.4 1060.8,2158.6 1062.4,2162.0 M812.9,1745.7C813.0,1747.3 813.1,1747.6 813.3,1755.5C813.6,1763.4 813.3,1783.4 814.6,1793.2C815.9,1802.9 817.7,1807.6 821.1,1814.2C824.4,1820.8 830.4,1827.6 834.7,1833.0C839.0,1838.4 843.2,1842.7 846.9,1846.4C850.6,1850.1 852.2,1853.1 856.9,1855.1C861.6,1857.1 867.9,1856.3 875.1,1858.6C882.3,1860.8 892.0,1864.6 900.1,1868.6C908.2,1872.5 916.5,1877.6 923.5,1882.3C930.6,1887.0 936.6,1889.8 942.4,1896.8C948.2,1903.7 953.6,1913.2 958.4,1924.0C963.2,1934.9 967.9,1951.0 971.3,1961.8C974.7,1972.7 975.2,1978.8 978.8,1989.2C982.4,1999.7 988.1,2013.9 992.8,2024.4C997.5,2035.0 1001.4,2042.0 1007.1,2052.6C1012.8,2063.3 1021.8,2078.8 1027.0,2088.2C1032.3,2097.6 1034.3,2100.3 1038.6,2109.2C1042.8,2118.1 1048.7,2132.9 1052.6,2141.7C1056.5,2150.5 1060.5,2158.6 1062.0,2162.0 M812.9,1745.7C813.0,1747.3 813.0,1747.5 813.3,1755.5C813.6,1763.6 813.3,1784.1 814.7,1794.1C816.0,1804.1 818.0,1808.8 821.4,1815.5C824.8,1822.3 830.8,1829.0 835.1,1834.3C839.4,1839.7 843.6,1844.1 847.3,1847.8C851.0,1851.4 852.6,1854.3 857.3,1856.3C861.9,1858.2 868.2,1857.2 875.4,1859.4C882.5,1861.6 892.2,1865.3 900.2,1869.3C908.2,1873.2 916.6,1878.2 923.6,1882.9C930.6,1887.6 936.7,1890.5 942.4,1897.5C948.2,1904.4 953.6,1913.9 958.3,1924.8C963.1,1935.6 967.7,1951.6 971.1,1962.4C974.5,1973.1 975.0,1979.1 978.6,1989.4C982.2,1999.8 987.9,2014.0 992.6,2024.6C997.3,2035.1 1001.2,2042.2 1006.9,2052.8C1012.7,2063.4 1021.6,2078.9 1026.9,2088.4C1032.1,2097.8 1034.2,2100.4 1038.4,2109.3C1042.7,2118.2 1048.5,2132.9 1052.4,2141.7C1056.3,2150.5 1060.2,2158.6 1061.7,2162.0 M812.9,1745.7C813.0,1747.3 813.0,1747.3 813.3,1755.5C813.7,1763.7 813.4,1784.7 814.7,1795.0C816.1,1805.2 818.3,1810.1 821.7,1816.9C825.2,1823.7 831.1,1830.3 835.4,1835.7C839.8,1841.1 843.9,1845.5 847.6,1849.1C851.3,1852.7 853.0,1855.6 857.6,1857.5C862.3,1859.3 868.5,1858.2 875.6,1860.2C882.7,1862.3 892.3,1866.0 900.3,1869.9C908.3,1873.8 916.6,1878.8 923.7,1883.5C930.7,1888.2 936.7,1891.1 942.5,1898.1C948.3,1905.1 953.6,1914.7 958.3,1925.5C963.0,1936.3 967.5,1952.2 970.8,1962.9C974.2,1973.6 974.9,1979.4 978.5,1989.7C982.0,2000.0 987.7,2014.2 992.4,2024.7C997.1,2035.3 1001.0,2042.3 1006.8,2052.9C1012.5,2063.6 1021.4,2079.1 1026.7,2088.5C1031.9,2097.9 1034.0,2100.5 1038.3,2109.4C1042.5,2118.3 1048.4,2133.0 1052.2,2141.8C1056.1,2150.5 1059.9,2158.6 1061.4,2162.0 M812.9,1745.7C813.0,1747.3 813.0,1747.2 813.3,1755.5C813.7,1763.9 813.4,1785.4 814.8,1795.8C816.3,1806.3 818.5,1811.4 822.0,1818.2C825.5,1825.1 831.5,1831.7 835.8,1837.0C840.1,1842.4 844.3,1846.9 848.0,1850.5C851.7,1854.1 853.4,1856.9 858.0,1858.7C862.6,1860.4 868.8,1859.1 875.9,1861.1C882.9,1863.0 892.4,1866.8 900.4,1870.6C908.4,1874.4 916.7,1879.4 923.7,1884.1C930.7,1888.8 936.8,1891.8 942.6,1898.8C948.3,1905.8 953.5,1915.5 958.2,1926.3C962.9,1937.0 967.3,1952.8 970.6,1963.4C973.9,1974.0 974.7,1979.6 978.3,1989.9C981.9,2000.1 987.5,2014.3 992.2,2024.9C996.9,2035.4 1000.8,2042.4 1006.6,2053.1C1012.3,2063.7 1021.3,2079.3 1026.5,2088.7C1031.8,2098.1 1033.9,2100.7 1038.1,2109.5C1042.4,2118.4 1048.2,2133.1 1052.0,2141.8C1055.9,2150.6 1059.5,2158.6 1061.0,2162.0 M812.9,1745.7C813.0,1747.3 813.0,1747.0 813.3,1755.5C813.7,1764.0 813.4,1786.1 814.9,1796.7C816.4,1807.4 818.8,1812.6 822.3,1819.6C825.9,1826.5 831.8,1833.0 836.2,1838.4C840.5,1843.7 844.7,1848.2 848.4,1851.8C852.1,1855.4 853.7,1858.2 858.4,1859.9C863.0,1861.5 869.1,1860.0 876.1,1861.9C883.1,1863.8 892.5,1867.5 900.5,1871.3C908.4,1875.1 916.8,1880.0 923.8,1884.7C930.8,1889.4 936.9,1892.4 942.6,1899.5C948.4,1906.5 953.5,1916.3 958.2,1927.0C962.8,1937.7 967.0,1953.4 970.3,1963.9C973.7,1974.4 974.5,1979.9 978.1,1990.1C981.7,2000.3 987.3,2014.5 992.0,2025.0C996.7,2035.5 1000.7,2042.6 1006.4,2053.2C1012.1,2063.9 1021.1,2079.4 1026.3,2088.8C1031.6,2098.2 1033.7,2100.8 1038.0,2109.6C1042.2,2118.5 1048.1,2133.1 1051.8,2141.9C1055.6,2150.6 1059.2,2158.6 1060.7,2162.0" fill="none" stroke="#111" stroke-width="1.3" stroke-linejoin="round" stroke-linecap="round" opacity="1.0"/>
<path d="M942.1,1894.8C944.8,1899.0 953.4,1911.6 958.7,1920.3C964.0,1929.0 969.0,1938.1 973.7,1947.1C978.4,1956.1 983.4,1967.4 986.8,1974.3C990.1,1981.1 991.5,1981.3 993.9,1988.4C996.2,1995.4 998.6,2006.8 1001.0,2016.7C1003.3,2026.6 1005.2,2039.3 1008.0,2047.9C1010.9,2056.4 1016.4,2064.6 1018.0,2068.0" fill="none" stroke="#333" stroke-width="1.3" stroke-linejoin="round" stroke-linecap="round" opacity="1.0"/>
<path d="M1073.3,1794.5 L1046.1,1775.6 M1056.6,1776.2 L1046.1,1775.6 L1050.4,1785.3" fill="none" stroke="#111" stroke-width="1.6" stroke-linecap="round" stroke-linejoin="round"/>
<text x="1075.0" y="1806.0" font-family="Liberation Sans, sans-serif" font-size="28" fill="#1a1a1a">1st</text>
<path d="M104.4,2691.5C105.3,2688.2 107.5,2680.6 109.9,2671.9C112.3,2663.2 115.8,2649.1 118.8,2639.3C121.7,2629.5 124.7,2621.4 127.6,2613.2C130.6,2605.0 131.2,2602.1 136.7,2590.0C142.2,2577.9 152.6,2555.9 160.5,2540.6C168.4,2525.2 176.7,2510.6 184.2,2498.0C191.7,2485.4 197.6,2475.2 205.5,2465.0C213.3,2454.7 221.1,2446.3 231.4,2436.6C241.6,2426.9 255.1,2416.3 266.9,2406.7C278.7,2397.0 292.5,2386.5 302.3,2378.8C312.1,2371.1 316.1,2366.0 325.8,2360.5C335.5,2355.0 351.4,2349.4 360.6,2345.9C369.7,2342.5 373.9,2341.7 380.6,2339.9C387.3,2338.1 390.2,2337.0 400.5,2335.0C410.8,2333.1 426.2,2330.4 442.4,2328.1C458.5,2325.7 485.6,2322.5 497.4,2321.1C509.2,2319.7 510.7,2319.8 513.3,2319.6" fill="none" stroke="#111" stroke-width="2.4" stroke-linejoin="round" stroke-linecap="round"/>
<path d="M104.4,2691.5C105.0,2688.1 106.0,2680.1 107.9,2671.1C109.9,2662.2 113.1,2647.6 115.9,2637.7C118.7,2627.8 121.8,2619.8 124.8,2611.6C127.7,2603.4 128.2,2600.6 133.6,2588.5C139.0,2576.4 149.4,2554.3 157.3,2539.0C165.2,2523.7 173.5,2509.0 181.0,2496.4C188.5,2483.8 194.4,2473.6 202.3,2463.4C210.1,2453.2 217.9,2444.9 228.2,2435.1C238.4,2425.2 252.0,2414.1 263.8,2404.2C275.7,2394.4 289.4,2383.8 299.2,2375.9C309.1,2368.0 313.1,2362.5 322.9,2357.0C332.7,2351.5 348.9,2346.3 358.1,2342.9C367.3,2339.5 371.6,2338.4 378.3,2336.6C385.0,2334.8 387.9,2334.0 398.2,2332.2C408.5,2330.3 422.5,2327.5 439.8,2325.4C457.1,2323.3 488.8,2320.5 502.0,2319.5C515.3,2318.5 516.4,2319.2 519.3,2319.1 M104.4,2691.5C105.1,2688.1 106.4,2680.2 108.4,2671.3C110.5,2662.4 113.8,2648.0 116.6,2638.1C119.5,2628.2 122.5,2620.2 125.5,2612.0C128.4,2603.8 129.0,2601.0 134.4,2588.9C139.8,2576.8 150.2,2554.7 158.1,2539.4C166.0,2524.0 174.3,2509.4 181.8,2496.8C189.3,2484.2 195.2,2474.0 203.1,2463.8C210.9,2453.6 218.7,2445.3 229.0,2435.4C239.2,2425.6 252.7,2414.7 264.6,2404.8C276.4,2395.0 290.2,2384.5 300.0,2376.6C309.8,2368.8 313.9,2363.4 323.6,2357.9C333.4,2352.4 349.5,2347.0 358.7,2343.6C367.9,2340.2 372.2,2339.2 378.9,2337.4C385.5,2335.6 388.5,2334.8 398.8,2332.9C409.0,2331.0 423.4,2328.2 440.5,2326.0C457.5,2323.9 488.0,2321.0 500.9,2319.9C513.8,2318.8 515.0,2319.3 517.8,2319.2 M104.4,2691.5C105.2,2688.2 106.8,2680.4 108.9,2671.5C111.1,2662.7 114.5,2648.3 117.4,2638.5C120.2,2628.6 123.2,2620.6 126.2,2612.4C129.2,2604.2 129.7,2601.4 135.2,2589.3C140.6,2577.2 151.0,2555.1 158.9,2539.8C166.8,2524.4 175.1,2509.8 182.6,2497.2C190.1,2484.6 196.0,2474.4 203.9,2464.2C211.7,2453.9 219.5,2445.6 229.8,2435.8C240.0,2426.1 253.5,2415.2 265.4,2405.5C277.2,2395.7 290.9,2385.1 300.8,2377.3C310.6,2369.6 314.6,2364.2 324.4,2358.7C334.1,2353.2 350.2,2347.8 359.3,2344.4C368.5,2341.0 372.8,2340.0 379.4,2338.2C386.1,2336.4 389.1,2335.5 399.4,2333.6C409.6,2331.7 424.4,2328.9 441.1,2326.7C457.8,2324.5 487.2,2321.5 499.7,2320.3C512.2,2319.1 513.5,2319.5 516.3,2319.3 M104.4,2691.5C105.2,2688.2 107.2,2680.5 109.4,2671.7C111.7,2662.9 115.2,2648.7 118.1,2638.9C121.0,2629.1 123.9,2621.0 126.9,2612.8C129.9,2604.6 130.5,2601.8 135.9,2589.7C141.4,2577.6 151.8,2555.5 159.7,2540.2C167.6,2524.8 175.9,2510.2 183.4,2497.6C190.9,2485.0 196.8,2474.8 204.7,2464.6C212.5,2454.3 220.3,2446.0 230.6,2436.2C240.8,2426.5 254.3,2415.7 266.1,2406.1C278.0,2396.4 291.7,2385.8 301.6,2378.1C311.4,2370.3 315.3,2365.1 325.1,2359.6C334.8,2354.1 350.8,2348.6 360.0,2345.2C369.1,2341.7 373.4,2340.9 380.0,2339.1C386.7,2337.2 389.7,2336.3 399.9,2334.3C410.2,2332.4 425.3,2329.7 441.7,2327.4C458.2,2325.1 486.4,2322.0 498.5,2320.7C510.7,2319.4 512.1,2319.7 514.8,2319.5 M104.4,2691.5C105.3,2688.2 107.5,2680.6 109.9,2671.9C112.3,2663.2 115.8,2649.1 118.8,2639.3C121.7,2629.5 124.7,2621.4 127.6,2613.2C130.6,2605.0 131.2,2602.1 136.7,2590.0C142.2,2577.9 152.6,2555.9 160.5,2540.6C168.4,2525.2 176.7,2510.6 184.2,2498.0C191.7,2485.4 197.6,2475.2 205.5,2465.0C213.3,2454.7 221.1,2446.3 231.4,2436.6C241.6,2426.9 255.1,2416.3 266.9,2406.7C278.7,2397.0 292.5,2386.5 302.3,2378.8C312.1,2371.1 316.1,2366.0 325.8,2360.5C335.5,2355.0 351.4,2349.4 360.6,2345.9C369.7,2342.5 373.9,2341.7 380.6,2339.9C387.3,2338.1 390.2,2337.0 400.5,2335.0C410.8,2333.1 426.2,2330.4 442.4,2328.1C458.5,2325.7 485.6,2322.5 497.4,2321.1C509.2,2319.7 510.7,2319.8 513.3,2319.6 M104.4,2691.5C105.4,2688.3 107.9,2680.7 110.4,2672.1C113.0,2663.5 116.5,2649.4 119.5,2639.7C122.5,2629.9 125.4,2621.8 128.4,2613.5C131.4,2605.3 132.0,2602.5 137.5,2590.4C143.0,2578.3 153.4,2556.3 161.3,2541.0C169.2,2525.6 177.5,2511.0 185.0,2498.4C192.5,2485.8 198.4,2475.6 206.3,2465.4C214.1,2455.1 221.9,2446.7 232.2,2437.0C242.4,2427.3 255.9,2416.8 267.7,2407.3C279.5,2397.7 293.3,2387.1 303.1,2379.5C312.9,2371.9 316.8,2366.8 326.5,2361.4C336.2,2355.9 352.1,2350.2 361.2,2346.7C370.3,2343.3 374.5,2342.5 381.2,2340.7C387.8,2338.9 390.8,2337.8 401.1,2335.8C411.4,2333.8 427.2,2331.1 443.0,2328.7C458.9,2326.4 484.8,2323.0 496.2,2321.5C507.7,2320.0 509.2,2320.0 511.8,2319.7 M104.4,2691.5C105.5,2688.3 108.3,2680.9 110.9,2672.3C113.6,2663.7 117.2,2649.8 120.2,2640.1C123.3,2630.3 126.1,2622.1 129.1,2613.9C132.1,2605.7 132.8,2602.9 138.3,2590.8C143.8,2578.7 154.2,2556.7 162.1,2541.3C170.1,2526.0 178.3,2511.4 185.8,2498.8C193.3,2486.2 199.2,2476.0 207.1,2465.7C214.9,2455.5 222.7,2447.1 233.0,2437.4C243.2,2427.8 256.6,2417.4 268.5,2407.9C280.3,2398.3 294.1,2387.8 303.9,2380.2C313.7,2372.6 317.6,2367.7 327.2,2362.3C336.9,2356.8 352.7,2350.9 361.8,2347.5C370.9,2344.0 375.1,2343.3 381.8,2341.5C388.4,2339.7 391.4,2338.5 401.7,2336.5C412.0,2334.5 428.1,2331.8 443.6,2329.4C459.2,2327.0 483.9,2323.5 495.1,2322.0C506.2,2320.4 507.8,2320.2 510.3,2319.8 M104.4,2691.5C105.6,2688.3 108.7,2681.0 111.4,2672.5C114.2,2664.0 117.9,2650.1 120.9,2640.4C124.0,2630.8 126.8,2622.5 129.8,2614.3C132.8,2606.1 133.5,2603.3 139.0,2591.2C144.6,2579.1 155.0,2557.1 162.9,2541.7C170.9,2526.4 179.1,2511.8 186.6,2499.2C194.1,2486.6 200.0,2476.4 207.9,2466.1C215.7,2455.9 223.6,2447.4 233.8,2437.8C244.0,2428.2 257.4,2417.9 269.2,2408.5C281.0,2399.0 294.9,2388.5 304.7,2380.9C314.4,2373.4 318.3,2368.6 328.0,2363.1C337.6,2357.7 353.3,2351.7 362.4,2348.2C371.4,2344.8 375.7,2344.2 382.3,2342.3C389.0,2340.5 391.9,2339.2 402.3,2337.2C412.6,2335.2 429.0,2332.5 444.3,2330.1C459.5,2327.6 483.1,2324.1 493.9,2322.4C504.7,2320.7 506.4,2320.3 508.8,2319.9 M104.4,2691.5C105.7,2688.4 109.0,2681.1 111.9,2672.7C114.8,2664.3 118.6,2650.5 121.7,2640.8C124.8,2631.2 127.5,2622.9 130.5,2614.7C133.6,2606.5 134.3,2603.7 139.8,2591.6C145.4,2579.5 155.8,2557.5 163.7,2542.1C171.7,2526.8 179.9,2512.2 187.4,2499.6C194.9,2487.0 200.8,2476.8 208.7,2466.5C216.5,2456.3 224.4,2447.8 234.6,2438.2C244.8,2428.6 258.2,2418.5 270.0,2409.1C281.8,2399.7 295.7,2389.2 305.4,2381.7C315.2,2374.1 319.1,2369.5 328.7,2364.0C338.3,2358.6 354.0,2352.5 363.0,2349.0C372.0,2345.5 376.3,2345.0 382.9,2343.1C389.6,2341.3 392.5,2340.0 402.8,2337.9C413.2,2335.8 429.9,2333.3 444.9,2330.7C459.9,2328.2 482.3,2324.6 492.7,2322.8C503.1,2321.0 504.9,2320.5 507.3,2320.0" fill="none" stroke="#111" stroke-width="1.4300000000000002" stroke-linejoin="round" stroke-linecap="round" opacity="1.0"/>
<path d="M104.4,2606.6C104.8,2603.9 105.6,2595.5 107.1,2590.0C108.5,2584.6 110.5,2581.5 113.3,2574.0C116.0,2566.5 118.0,2557.9 123.7,2545.3C129.3,2532.6 137.5,2513.7 147.4,2498.0C157.2,2482.3 171.0,2464.2 182.8,2450.9C194.6,2437.5 206.4,2427.9 218.2,2417.7C230.0,2407.4 243.1,2396.2 253.6,2389.4C264.2,2382.5 273.2,2380.2 281.5,2376.8C289.9,2373.4 296.3,2371.8 303.7,2369.0C311.0,2366.2 316.4,2363.1 325.8,2359.8C335.2,2356.6 350.9,2351.8 359.9,2349.4C368.9,2347.0 366.4,2347.9 380.0,2345.4C393.7,2342.8 421.1,2337.3 441.6,2334.1C462.1,2331.0 485.9,2328.4 502.9,2326.6C520.0,2324.7 528.5,2324.5 543.9,2323.2C559.3,2321.9 586.7,2319.5 595.2,2318.7" fill="none" stroke="#222" stroke-width="1.3" stroke-linejoin="round" stroke-linecap="round" opacity="1.0"/>
<path d="M104.4,2365.1C104.4,2365.6 104.2,2364.7 104.6,2367.9C105.1,2371.2 104.7,2379.1 107.1,2384.7C109.4,2390.2 114.1,2395.6 118.8,2401.1C123.5,2406.6 128.7,2411.8 135.4,2417.7C142.1,2423.6 151.2,2431.1 159.1,2436.6C167.0,2442.2 174.9,2446.1 182.8,2450.9C190.7,2455.6 196.6,2458.3 206.5,2465.0C216.3,2471.6 230.1,2482.3 241.9,2490.9C253.7,2499.6 267.6,2508.9 277.3,2517.1C287.0,2525.2 290.9,2531.0 299.9,2540.0C308.9,2549.1 322.3,2559.7 331.6,2571.5C340.8,2583.3 347.4,2597.8 355.2,2610.9C363.1,2624.1 370.9,2637.1 378.7,2650.2C386.6,2663.4 393.7,2675.2 402.4,2689.7C411.1,2704.2 426.0,2729.3 430.7,2737.2 M104.4,2365.1C104.4,2365.6 104.2,2364.7 104.6,2367.9C105.1,2371.2 104.7,2379.1 107.1,2384.7C109.4,2390.2 114.1,2395.6 118.8,2401.1C123.5,2406.6 128.7,2411.8 135.4,2417.7C142.1,2423.6 151.2,2431.1 159.1,2436.6C167.0,2442.2 174.9,2446.1 182.8,2450.9C190.7,2455.6 196.6,2458.3 206.5,2465.0C216.3,2471.6 230.1,2482.3 241.9,2490.9C253.7,2499.6 267.5,2508.7 277.3,2516.8C287.1,2524.8 291.2,2530.3 300.5,2539.2C309.7,2548.1 323.4,2558.7 332.8,2570.2C342.1,2581.8 348.6,2595.7 356.5,2608.6C364.4,2621.5 372.1,2634.2 380.2,2647.5C388.2,2660.8 395.9,2673.4 405.0,2688.3C414.1,2703.3 430.0,2729.1 435.0,2737.2 M104.4,2365.1C104.4,2365.6 104.2,2364.7 104.6,2367.9C105.1,2371.2 104.7,2379.1 107.1,2384.7C109.4,2390.2 114.1,2395.6 118.8,2401.1C123.5,2406.6 128.7,2411.8 135.4,2417.7C142.1,2423.6 151.2,2431.1 159.1,2436.6C167.0,2442.2 174.9,2446.1 182.8,2450.9C190.7,2455.6 196.6,2458.3 206.5,2465.0C216.3,2471.6 230.1,2482.3 241.9,2490.9C253.7,2499.5 267.5,2508.6 277.3,2516.6C287.2,2524.5 291.5,2529.8 300.9,2538.6C310.3,2547.4 324.3,2557.9 333.7,2569.3C343.1,2580.7 349.6,2594.2 357.5,2606.9C365.4,2619.6 373.0,2632.0 381.2,2645.4C389.5,2658.8 397.4,2672.0 406.9,2687.3C416.4,2702.6 432.9,2728.9 438.1,2737.2 M104.4,2365.1C104.4,2365.6 104.2,2364.7 104.6,2367.9C105.1,2371.2 104.7,2379.1 107.1,2384.7C109.4,2390.2 114.1,2395.6 118.8,2401.1C123.5,2406.6 128.7,2411.8 135.4,2417.7C142.1,2423.6 151.2,2431.1 159.1,2436.6C167.0,2442.2 174.9,2446.1 182.8,2450.9C190.7,2455.6 196.6,2458.3 206.5,2465.0C216.3,2471.6 230.1,2482.4 241.9,2490.9C253.7,2499.5 267.4,2508.5 277.3,2516.4C287.2,2524.2 291.8,2529.4 301.3,2538.0C310.9,2546.7 325.0,2557.3 334.5,2568.5C344.0,2579.7 350.4,2592.8 358.4,2605.3C366.3,2617.8 373.8,2630.0 382.2,2643.6C390.6,2657.1 398.9,2670.8 408.7,2686.4C418.5,2702.0 435.6,2728.7 441.0,2737.2 M104.4,2365.1C104.4,2365.6 104.2,2364.7 104.6,2367.9C105.1,2371.2 104.7,2379.1 107.1,2384.7C109.4,2390.2 114.1,2395.6 118.8,2401.1C123.5,2406.6 128.7,2411.8 135.4,2417.7C142.1,2423.6 151.2,2431.1 159.1,2436.6C167.0,2442.2 174.9,2446.1 182.8,2450.9C190.7,2455.6 196.6,2458.3 206.5,2465.0C216.3,2471.6 230.1,2482.4 241.9,2490.9C253.7,2499.5 267.3,2508.4 277.3,2516.2C287.3,2523.9 292.0,2528.9 301.7,2537.5C311.4,2546.1 325.7,2556.6 335.3,2567.7C344.9,2578.7 351.2,2591.5 359.2,2603.8C367.1,2616.2 374.6,2628.2 383.1,2641.8C391.6,2655.4 400.2,2669.6 410.3,2685.5C420.4,2701.4 438.1,2728.6 443.6,2737.2 M104.4,2365.1C104.4,2365.6 104.2,2364.7 104.6,2367.9C105.1,2371.2 104.7,2379.1 107.1,2384.7C109.4,2390.2 114.1,2395.6 118.8,2401.1C123.5,2406.6 128.7,2411.8 135.4,2417.7C142.1,2423.6 151.2,2431.1 159.1,2436.6C167.0,2442.2 174.9,2446.1 182.8,2450.9C190.7,2455.6 196.6,2458.3 206.5,2465.0C216.3,2471.6 230.1,2482.4 241.9,2490.9C253.7,2499.5 267.3,2508.3 277.3,2516.0C287.3,2523.7 292.3,2528.6 302.1,2537.0C311.8,2545.5 326.4,2556.0 336.0,2566.9C345.7,2577.8 352.0,2590.3 360.0,2602.5C367.9,2614.7 375.3,2626.5 383.9,2640.2C392.6,2653.9 401.4,2668.6 411.8,2684.7C422.2,2700.9 440.4,2728.5 446.1,2737.2 M104.4,2365.1C104.4,2365.6 104.2,2364.7 104.6,2367.9C105.1,2371.2 104.7,2379.1 107.1,2384.7C109.4,2390.2 114.1,2395.6 118.8,2401.1C123.5,2406.6 128.7,2411.8 135.4,2417.7C142.1,2423.6 151.2,2431.1 159.1,2436.6C167.0,2442.2 174.9,2446.1 182.8,2450.9C190.7,2455.6 196.6,2458.3 206.5,2465.0C216.3,2471.6 230.1,2482.5 241.9,2490.9C253.7,2499.4 267.2,2508.2 277.3,2515.8C287.4,2523.4 292.5,2528.2 302.4,2536.6C312.3,2545.0 327.0,2555.5 336.7,2566.2C346.4,2577.0 352.7,2589.1 360.7,2601.1C368.7,2613.2 376.0,2624.8 384.7,2638.6C393.5,2652.4 402.7,2667.5 413.3,2683.9C423.9,2700.4 442.7,2728.3 448.5,2737.2 M104.4,2365.1C104.4,2365.6 104.2,2364.7 104.6,2367.9C105.1,2371.2 104.7,2379.1 107.1,2384.7C109.4,2390.2 114.1,2395.6 118.8,2401.1C123.5,2406.6 128.7,2411.8 135.4,2417.7C142.1,2423.6 151.2,2431.1 159.1,2436.6C167.0,2442.2 174.9,2446.1 182.8,2450.9C190.7,2455.6 196.6,2458.3 206.5,2465.0C216.3,2471.6 230.1,2482.5 241.9,2490.9C253.7,2499.4 267.2,2508.2 277.3,2515.7C287.5,2523.2 292.7,2527.8 302.7,2536.1C312.7,2544.4 327.6,2554.9 337.4,2565.5C347.2,2576.1 353.4,2587.9 361.4,2599.8C369.4,2611.8 376.7,2623.2 385.5,2637.1C394.4,2651.0 403.8,2666.5 414.7,2683.2C425.6,2699.9 444.9,2728.2 450.9,2737.2 M104.4,2365.1C104.4,2365.6 104.2,2364.7 104.6,2367.9C105.1,2371.2 104.7,2379.1 107.1,2384.7C109.4,2390.2 114.1,2395.6 118.8,2401.1C123.5,2406.6 128.7,2411.8 135.4,2417.7C142.1,2423.6 151.2,2431.1 159.1,2436.6C167.0,2442.2 174.9,2446.1 182.8,2450.9C190.7,2455.6 196.6,2458.3 206.5,2465.0C216.3,2471.6 230.1,2482.5 241.9,2490.9C253.7,2499.4 267.1,2508.1 277.3,2515.5C287.5,2523.0 292.9,2527.4 303.0,2535.7C313.2,2543.9 328.2,2554.4 338.0,2564.8C347.9,2575.3 354.1,2586.8 362.1,2598.6C370.1,2610.4 377.3,2621.6 386.3,2635.6C395.3,2649.6 405.0,2665.5 416.1,2682.5C427.3,2699.4 447.0,2728.1 453.2,2737.2 M104.4,2365.1C104.4,2365.6 104.2,2364.7 104.6,2367.9C105.1,2371.2 104.7,2379.1 107.1,2384.7C109.4,2390.2 114.1,2395.6 118.8,2401.1C123.5,2406.6 128.7,2411.8 135.4,2417.7C142.1,2423.6 151.2,2431.1 159.1,2436.6C167.0,2442.2 174.9,2446.1 182.8,2450.9C190.7,2455.6 196.6,2458.3 206.5,2465.0C216.3,2471.6 230.1,2482.5 241.9,2490.9C253.7,2499.3 267.1,2508.0 277.3,2515.4C287.6,2522.8 293.1,2527.1 303.4,2535.2C313.6,2543.4 328.8,2553.8 338.7,2564.2C348.6,2574.5 354.7,2585.7 362.8,2597.4C370.8,2609.0 377.9,2620.1 387.1,2634.2C396.2,2648.2 406.1,2664.6 417.5,2681.8C428.8,2698.9 449.1,2728.0 455.4,2737.2 M104.4,2365.1C104.4,2365.6 104.2,2364.7 104.6,2367.9C105.1,2371.2 104.7,2379.1 107.1,2384.7C109.4,2390.2 114.1,2395.6 118.8,2401.1C123.5,2406.6 128.7,2411.8 135.4,2417.7C142.1,2423.6 151.2,2431.1 159.1,2436.6C167.0,2442.2 174.9,2446.1 182.8,2450.9C190.7,2455.6 196.6,2458.3 206.5,2465.0C216.3,2471.6 230.1,2482.6 241.9,2490.9C253.7,2499.3 267.0,2507.9 277.3,2515.2C287.6,2522.5 293.3,2526.8 303.7,2534.8C314.0,2542.9 329.3,2553.3 339.3,2563.5C349.3,2573.8 355.4,2584.6 363.4,2596.2C371.5,2607.7 378.6,2618.6 387.8,2632.7C397.0,2646.9 407.2,2663.6 418.8,2681.1C430.4,2698.5 451.1,2727.8 457.5,2737.2" fill="none" stroke="#111" stroke-width="1.3" stroke-linejoin="round" stroke-linecap="round" opacity="1.0"/>
<path d="M104.4,2365.1C104.4,2365.6 104.2,2364.7 104.6,2367.9C105.1,2371.2 104.7,2379.1 107.1,2384.7C109.4,2390.2 114.1,2395.6 118.8,2401.1C123.5,2406.6 128.7,2411.8 135.4,2417.7C142.1,2423.6 151.2,2431.1 159.1,2436.6C167.0,2442.2 174.9,2446.1 182.8,2450.9C190.7,2455.6 196.6,2458.3 206.5,2465.0C216.3,2471.6 230.1,2482.3 241.9,2490.9C253.7,2499.6 267.6,2508.9 277.3,2517.1C287.0,2525.2 296.1,2536.2 299.9,2540.0" fill="none" stroke="#111" stroke-width="2.6" stroke-linejoin="round" stroke-linecap="round" opacity="1.0"/>
<path d="M241.9,2490.9C247.8,2495.0 267.0,2508.1 277.3,2515.2C287.6,2522.3 293.3,2525.9 303.7,2533.5C314.0,2541.1 328.1,2552.0 339.3,2560.9C350.5,2569.9 361.7,2577.7 371.0,2587.3C380.2,2596.9 385.5,2605.6 394.7,2618.8C403.8,2631.9 415.6,2650.8 426.1,2666.0C436.6,2681.3 450.0,2698.3 457.5,2710.2C465.0,2722.0 468.8,2732.7 471.0,2737.2" fill="none" stroke="#222" stroke-width="1.3" stroke-linejoin="round" stroke-linecap="round" opacity="1.0"/>
<path d="M540.9,2361.7 L540.9,2326.9 M546.4,2335.9 L540.9,2326.9 L535.4,2335.9" fill="none" stroke="#111" stroke-width="1.6" stroke-linecap="round" stroke-linejoin="round"/>
<text x="522.5" y="2388.5" font-family="Liberation Sans, sans-serif" font-size="28" fill="#1a1a1a">1st</text>
<path d="M814.7,2673.3C815.1,2667.8 816.1,2650.5 817.1,2640.7C818.0,2631.0 819.2,2623.2 820.4,2614.7C821.5,2606.3 822.5,2600.0 824.1,2590.0C825.7,2580.0 827.4,2565.4 829.9,2554.9C832.5,2544.4 835.8,2534.7 839.4,2527.0C842.9,2519.2 846.1,2514.7 851.2,2508.4C856.3,2502.2 863.7,2495.8 870.0,2489.5C876.3,2483.3 883.0,2478.0 889.0,2471.0C894.9,2464.0 900.0,2455.3 905.5,2447.4C911.0,2439.6 916.2,2430.7 922.1,2423.9C928.0,2417.2 931.9,2413.2 941.0,2407.2C950.0,2401.2 964.6,2392.8 976.3,2388.0C988.0,2383.1 999.6,2380.7 1011.4,2378.0C1023.1,2375.4 1035.8,2374.4 1046.9,2372.0C1057.9,2369.7 1067.0,2367.4 1077.6,2364.0C1088.2,2360.5 1102.7,2354.5 1110.5,2351.4C1118.4,2348.3 1114.9,2348.3 1124.7,2345.4C1134.4,2342.5 1154.3,2337.2 1168.9,2334.1C1183.5,2330.9 1197.0,2328.6 1212.2,2326.6C1227.3,2324.7 1251.7,2322.9 1259.6,2322.2" fill="none" stroke="#111" stroke-width="2.4" stroke-linejoin="round" stroke-linecap="round"/>
<path d="M814.7,2673.3C814.8,2667.7 815.0,2649.8 815.5,2639.8C816.0,2629.7 816.9,2621.4 817.9,2612.8C818.9,2604.1 819.9,2598.0 821.5,2588.1C823.1,2578.1 824.8,2563.5 827.3,2552.9C829.9,2542.3 833.2,2532.3 836.8,2524.4C840.3,2516.5 843.5,2511.9 848.6,2505.6C853.7,2499.3 861.2,2492.9 867.5,2486.6C873.8,2480.3 880.5,2474.8 886.4,2467.7C892.3,2460.6 897.5,2451.9 903.0,2444.0C908.5,2436.2 913.6,2427.2 919.5,2420.5C925.5,2413.8 929.4,2409.8 938.5,2403.8C947.5,2397.9 962.1,2389.7 973.9,2385.0C985.8,2380.3 997.6,2378.0 1009.4,2375.5C1021.2,2372.9 1033.8,2372.0 1044.9,2369.6C1055.9,2367.3 1065.0,2364.9 1075.6,2361.3C1086.2,2357.8 1100.6,2351.5 1108.4,2348.3C1116.2,2345.1 1112.6,2344.9 1122.4,2342.2C1132.3,2339.4 1152.4,2334.6 1167.3,2331.8C1182.2,2329.0 1195.8,2327.1 1211.8,2325.4C1227.8,2323.7 1254.5,2322.3 1263.1,2321.6 M814.7,2673.3C814.9,2667.7 815.3,2650.0 815.9,2640.0C816.5,2630.0 817.4,2621.8 818.5,2613.3C819.5,2604.7 820.5,2598.5 822.1,2588.5C823.7,2578.6 825.4,2564.0 828.0,2553.4C830.5,2542.8 833.9,2532.9 837.4,2525.1C841.0,2517.2 844.1,2512.6 849.2,2506.3C854.4,2500.0 861.8,2493.6 868.1,2487.3C874.4,2481.0 881.2,2475.6 887.1,2468.5C893.0,2461.5 898.1,2452.8 903.6,2444.9C909.1,2437.0 914.3,2428.1 920.2,2421.4C926.1,2414.7 930.0,2410.6 939.1,2404.7C948.2,2398.7 962.7,2390.5 974.5,2385.7C986.3,2381.0 998.1,2378.7 1009.9,2376.1C1021.7,2373.5 1034.3,2372.6 1045.4,2370.2C1056.4,2367.9 1065.5,2365.5 1076.1,2362.0C1086.7,2358.5 1101.1,2352.2 1108.9,2349.1C1116.8,2345.9 1113.2,2345.8 1123.0,2343.0C1132.8,2340.2 1152.9,2335.2 1167.7,2332.4C1182.5,2329.5 1196.1,2327.5 1211.9,2325.7C1227.6,2324.0 1253.8,2322.4 1262.2,2321.8 M814.7,2673.3C815.0,2667.8 815.5,2650.2 816.3,2640.2C817.0,2630.3 818.0,2622.3 819.1,2613.7C820.2,2605.2 821.2,2599.0 822.8,2589.0C824.4,2579.1 826.1,2564.5 828.6,2553.9C831.2,2543.4 834.5,2533.5 838.1,2525.7C841.6,2517.9 844.8,2513.3 849.9,2507.0C855.0,2500.7 862.5,2494.3 868.8,2488.0C875.1,2481.8 881.8,2476.4 887.7,2469.3C893.6,2462.3 898.7,2453.6 904.2,2445.7C909.8,2437.9 914.9,2428.9 920.8,2422.2C926.7,2415.5 930.7,2411.5 939.7,2405.5C948.8,2399.6 963.3,2391.3 975.1,2386.5C986.9,2381.7 998.6,2379.4 1010.4,2376.8C1022.2,2374.2 1034.8,2373.2 1045.9,2370.8C1056.9,2368.5 1066.0,2366.1 1076.6,2362.6C1087.2,2359.1 1101.7,2353.0 1109.5,2349.9C1117.3,2346.7 1113.8,2346.6 1123.6,2343.8C1133.3,2341.0 1153.3,2335.9 1168.1,2332.9C1182.8,2330.0 1196.4,2327.9 1212.0,2326.0C1227.5,2324.2 1253.1,2322.6 1261.3,2321.9 M814.7,2673.3C815.0,2667.8 815.8,2650.3 816.7,2640.5C817.5,2630.7 818.6,2622.7 819.7,2614.2C820.9,2605.7 821.8,2599.5 823.4,2589.5C825.0,2579.5 826.7,2564.9 829.3,2554.4C831.8,2543.9 835.2,2534.1 838.7,2526.3C842.3,2518.6 845.4,2514.0 850.5,2507.7C855.7,2501.5 863.1,2495.0 869.4,2488.8C875.7,2482.5 882.4,2477.2 888.3,2470.2C894.2,2463.1 899.4,2454.4 904.9,2446.6C910.4,2438.7 915.5,2429.8 921.4,2423.1C927.3,2416.4 931.3,2412.3 940.4,2406.3C949.4,2400.4 964.0,2392.1 975.7,2387.2C987.5,2382.4 999.1,2380.0 1010.9,2377.4C1022.7,2374.8 1035.3,2373.8 1046.4,2371.4C1057.4,2369.1 1066.5,2366.8 1077.1,2363.3C1087.7,2359.8 1102.2,2353.8 1110.0,2350.6C1117.8,2347.5 1114.4,2347.5 1124.1,2344.6C1133.8,2341.8 1153.8,2336.5 1168.5,2333.5C1183.1,2330.4 1196.7,2328.2 1212.1,2326.3C1227.4,2324.4 1252.4,2322.7 1260.5,2322.0 M814.7,2673.3C815.1,2667.8 816.1,2650.5 817.1,2640.7C818.0,2631.0 819.2,2623.2 820.4,2614.7C821.5,2606.3 822.5,2600.0 824.1,2590.0C825.7,2580.0 827.4,2565.4 829.9,2554.9C832.5,2544.4 835.8,2534.7 839.4,2527.0C842.9,2519.2 846.1,2514.7 851.2,2508.4C856.3,2502.2 863.7,2495.8 870.0,2489.5C876.3,2483.3 883.0,2478.0 889.0,2471.0C894.9,2464.0 900.0,2455.3 905.5,2447.4C911.0,2439.6 916.2,2430.7 922.1,2423.9C928.0,2417.2 931.9,2413.2 941.0,2407.2C950.0,2401.2 964.6,2392.8 976.3,2388.0C988.0,2383.1 999.6,2380.7 1011.4,2378.0C1023.1,2375.4 1035.8,2374.4 1046.9,2372.0C1057.9,2369.7 1067.0,2367.4 1077.6,2364.0C1088.2,2360.5 1102.7,2354.5 1110.5,2351.4C1118.4,2348.3 1114.9,2348.3 1124.7,2345.4C1134.4,2342.5 1154.3,2337.2 1168.9,2334.1C1183.5,2330.9 1197.0,2328.6 1212.2,2326.6C1227.3,2324.7 1251.7,2322.9 1259.6,2322.2 M814.7,2673.3C815.2,2667.9 816.4,2650.7 817.5,2641.0C818.5,2631.3 819.8,2623.6 821.0,2615.2C822.2,2606.8 823.1,2600.5 824.7,2590.5C826.3,2580.5 828.0,2565.8 830.6,2555.4C833.1,2544.9 836.5,2535.3 840.0,2527.6C843.6,2519.9 846.7,2515.4 851.8,2509.2C857.0,2502.9 864.4,2496.5 870.7,2490.2C877.0,2484.0 883.7,2478.8 889.6,2471.8C895.5,2464.8 900.6,2456.1 906.1,2448.3C911.7,2440.4 916.8,2431.5 922.7,2424.8C928.6,2418.1 932.6,2414.0 941.6,2408.0C950.6,2402.0 965.2,2393.6 976.9,2388.7C988.6,2383.8 1000.1,2381.3 1011.9,2378.7C1023.6,2376.0 1036.3,2375.0 1047.3,2372.6C1058.4,2370.3 1067.5,2368.1 1078.1,2364.6C1088.7,2361.2 1103.2,2355.3 1111.1,2352.2C1118.9,2349.1 1115.5,2349.2 1125.2,2346.3C1134.9,2343.3 1154.8,2337.8 1169.3,2334.6C1183.8,2331.4 1197.3,2329.0 1212.2,2327.0C1227.2,2324.9 1251.0,2323.1 1258.7,2322.3 M814.7,2673.3C815.2,2667.9 816.7,2650.8 817.9,2641.2C819.0,2631.6 820.4,2624.1 821.6,2615.7C822.9,2607.3 823.8,2601.0 825.4,2591.0C827.0,2581.0 828.7,2566.3 831.2,2555.9C833.8,2545.4 837.1,2535.9 840.7,2528.2C844.2,2520.6 847.4,2516.1 852.5,2509.9C857.6,2503.7 865.0,2497.2 871.3,2491.0C877.6,2484.8 884.3,2479.6 890.2,2472.6C896.1,2465.6 901.3,2456.9 906.8,2449.1C912.3,2441.3 917.4,2432.4 923.3,2425.7C929.2,2419.0 933.2,2414.9 942.2,2408.8C951.3,2402.8 965.8,2394.4 977.5,2389.5C989.2,2384.6 1000.6,2382.0 1012.4,2379.3C1024.1,2376.6 1036.8,2375.6 1047.8,2373.2C1058.9,2370.9 1067.9,2368.7 1078.6,2365.3C1089.2,2361.9 1103.7,2356.0 1111.6,2353.0C1119.5,2349.9 1116.1,2350.0 1125.8,2347.1C1135.4,2344.1 1155.2,2338.5 1169.7,2335.2C1184.1,2331.9 1197.6,2329.4 1212.3,2327.3C1227.0,2325.1 1250.3,2323.2 1257.9,2322.4 M814.7,2673.3C815.3,2668.0 817.0,2651.0 818.2,2641.5C819.5,2632.0 821.0,2624.5 822.3,2616.2C823.6,2607.8 824.4,2601.4 826.0,2591.5C827.6,2581.5 829.3,2566.8 831.9,2556.3C834.4,2545.9 837.8,2536.5 841.3,2528.9C844.9,2521.3 848.0,2516.8 853.1,2510.6C858.2,2504.4 865.6,2497.9 871.9,2491.7C878.2,2485.5 884.9,2480.4 890.8,2473.4C896.8,2466.5 901.9,2457.8 907.4,2450.0C912.9,2442.2 918.0,2433.3 924.0,2426.5C929.9,2419.8 933.9,2415.7 942.9,2409.7C951.9,2403.6 966.4,2395.2 978.1,2390.2C989.7,2385.3 1001.1,2382.7 1012.9,2379.9C1024.6,2377.2 1037.3,2376.2 1048.3,2373.8C1059.4,2371.5 1068.4,2369.3 1079.1,2366.0C1089.7,2362.6 1104.3,2356.8 1112.1,2353.8C1120.0,2350.8 1116.7,2350.9 1126.3,2347.9C1136.0,2344.9 1155.7,2339.2 1170.1,2335.8C1184.4,2332.4 1197.9,2329.8 1212.4,2327.6C1226.9,2325.4 1249.6,2323.4 1257.0,2322.5 M814.7,2673.3C815.4,2668.0 817.3,2651.1 818.6,2641.7C820.0,2632.3 821.6,2625.0 822.9,2616.7C824.2,2608.4 825.1,2601.9 826.7,2592.0C828.3,2582.0 830.0,2567.2 832.5,2556.8C835.1,2546.4 838.4,2537.1 842.0,2529.5C845.5,2521.9 848.7,2517.5 853.8,2511.3C858.9,2505.1 866.3,2498.6 872.6,2492.4C878.8,2486.3 885.6,2481.2 891.5,2474.2C897.4,2467.3 902.5,2458.6 908.0,2450.8C913.6,2443.0 918.7,2434.1 924.6,2427.4C930.5,2420.7 934.5,2416.6 943.5,2410.5C952.5,2404.4 967.0,2396.0 978.7,2391.0C990.3,2386.0 1001.7,2383.3 1013.3,2380.6C1025.0,2377.8 1037.8,2376.8 1048.8,2374.5C1059.9,2372.1 1068.9,2370.0 1079.6,2366.6C1090.2,2363.3 1104.8,2357.5 1112.7,2354.5C1120.6,2351.6 1117.2,2351.7 1126.9,2348.7C1136.5,2345.7 1156.2,2339.8 1170.5,2336.3C1184.8,2332.9 1198.2,2330.2 1212.5,2327.9C1226.8,2325.6 1248.9,2323.5 1256.1,2322.7" fill="none" stroke="#111" stroke-width="1.4300000000000002" stroke-linejoin="round" stroke-linecap="round" opacity="1.0"/>
<path d="M814.7,2673.3C815.2,2666.8 816.3,2648.1 817.9,2634.2C819.4,2620.4 820.3,2604.0 824.2,2590.0C828.0,2576.0 835.2,2561.8 840.7,2550.1C846.2,2538.3 850.6,2531.2 857.3,2519.4C864.0,2507.5 874.9,2488.1 880.9,2479.0C887.0,2470.0 889.3,2470.4 893.5,2465.1C897.7,2459.9 901.4,2454.3 906.1,2447.6C910.9,2440.8 916.1,2431.5 921.9,2424.8C927.7,2418.1 931.9,2413.4 940.8,2407.2C949.8,2401.1 963.8,2392.6 975.5,2387.7C987.2,2382.8 999.2,2380.6 1011.0,2378.0C1022.8,2375.4 1035.4,2374.5 1046.5,2372.1C1057.5,2369.7 1066.6,2367.1 1077.2,2363.7C1087.8,2360.2 1094.8,2356.1 1110.0,2351.3C1125.2,2346.5 1151.3,2338.9 1168.3,2335.0C1185.4,2331.1 1196.5,2329.8 1212.3,2327.9C1228.1,2325.9 1240.6,2324.5 1263.1,2323.3C1285.5,2322.2 1333.0,2321.4 1347.0,2321.0" fill="none" stroke="#333" stroke-width="1.3" stroke-linejoin="round" stroke-linecap="round" opacity="1.0"/>
<path d="M814.7,2389.7C814.8,2390.0 814.6,2387.9 815.0,2391.8C815.4,2395.6 815.5,2405.5 817.1,2413.0C818.6,2420.4 820.6,2428.3 824.2,2436.6C827.7,2444.9 832.8,2456.8 838.3,2462.6C843.9,2468.5 850.2,2469.5 857.3,2472.0C864.4,2474.6 871.1,2475.5 880.9,2477.9C890.8,2480.2 904.6,2483.2 916.4,2486.2C928.2,2489.2 942.0,2491.7 951.9,2496.0C961.7,2500.4 967.6,2505.8 975.5,2512.2C983.4,2518.6 992.5,2527.7 999.2,2534.5C1005.8,2541.3 1010.3,2548.3 1015.3,2553.1C1020.4,2557.9 1022.3,2559.4 1029.5,2563.3C1036.7,2567.2 1049.5,2572.3 1058.3,2576.5C1067.0,2580.6 1076.4,2585.2 1081.9,2588.3C1087.5,2591.4 1086.0,2590.5 1091.5,2595.1C1097.1,2599.6 1108.7,2609.1 1115.2,2615.6C1121.7,2622.2 1125.6,2627.4 1130.5,2634.5C1135.4,2641.5 1140.1,2649.8 1144.5,2658.0C1148.9,2666.1 1152.8,2674.6 1156.9,2683.3C1161.0,2691.9 1165.1,2700.8 1169.1,2710.0C1173.1,2719.2 1178.9,2733.6 1180.9,2738.3" fill="none" stroke="#111" stroke-width="2.4" stroke-linejoin="round" stroke-linecap="round"/>
<path d="M814.7,2389.7C814.7,2390.0 814.5,2387.6 814.8,2391.4C815.2,2395.1 815.2,2404.8 816.7,2412.2C818.1,2419.5 820.1,2427.3 823.6,2435.5C827.1,2443.6 832.1,2455.3 837.6,2461.1C843.0,2466.9 849.3,2467.6 856.3,2470.1C863.4,2472.5 870.1,2473.6 880.0,2475.9C889.8,2478.3 903.6,2481.3 915.4,2484.2C927.3,2487.2 941.1,2489.8 950.9,2493.7C960.8,2497.7 966.7,2502.0 974.6,2507.9C982.4,2513.8 991.5,2522.4 998.2,2529.1C1004.9,2535.8 1009.6,2543.0 1014.8,2548.1C1019.9,2553.3 1021.9,2555.6 1029.0,2560.0C1036.1,2564.3 1048.7,2569.7 1057.3,2574.0C1066.0,2578.3 1075.4,2582.8 1081.0,2586.0C1086.5,2589.1 1085.1,2588.2 1090.6,2592.7C1096.1,2597.3 1107.7,2606.7 1114.2,2613.3C1120.8,2619.9 1125.0,2625.1 1130.0,2632.2C1135.0,2639.2 1139.7,2647.6 1144.2,2655.7C1148.7,2663.8 1152.6,2672.3 1156.8,2680.9C1161.0,2689.6 1165.3,2698.5 1169.4,2707.7C1173.6,2717.0 1179.8,2731.6 1181.9,2736.3 M814.7,2389.7C814.7,2390.0 814.5,2387.7 814.9,2391.5C815.2,2395.2 815.3,2405.0 816.8,2412.4C818.3,2419.8 820.2,2427.6 823.7,2435.8C827.2,2443.9 832.3,2455.7 837.8,2461.5C843.3,2467.3 849.5,2468.1 856.6,2470.6C863.6,2473.0 870.4,2474.0 880.2,2476.4C890.1,2478.8 903.9,2481.7 915.7,2484.7C927.5,2487.7 941.3,2490.3 951.2,2494.3C961.0,2498.4 966.9,2503.0 974.8,2509.0C982.7,2515.0 991.8,2523.7 998.4,2530.5C1005.1,2537.2 1009.8,2544.3 1014.9,2549.4C1020.0,2554.4 1022.0,2556.6 1029.1,2560.8C1036.2,2565.0 1048.9,2570.3 1057.6,2574.6C1066.3,2578.9 1075.7,2583.4 1081.2,2586.6C1086.8,2589.7 1085.3,2588.8 1090.8,2593.3C1096.4,2597.9 1107.9,2607.3 1114.5,2613.9C1121.0,2620.4 1125.2,2625.7 1130.1,2632.7C1135.1,2639.8 1139.8,2648.1 1144.3,2656.3C1148.7,2664.4 1152.7,2672.8 1156.8,2681.5C1161.0,2690.2 1165.2,2699.1 1169.3,2708.3C1173.5,2717.5 1179.6,2732.1 1181.6,2736.8 M814.7,2389.7C814.7,2390.0 814.6,2387.7 814.9,2391.6C815.3,2395.4 815.4,2405.2 816.9,2412.6C818.4,2420.0 820.4,2427.8 823.9,2436.0C827.4,2444.3 832.5,2456.0 838.0,2461.9C843.5,2467.7 849.7,2468.5 856.8,2471.0C863.9,2473.5 870.6,2474.5 880.4,2476.9C890.3,2479.3 904.1,2482.2 915.9,2485.2C927.7,2488.2 941.5,2490.7 951.4,2494.9C961.2,2499.0 967.2,2503.9 975.0,2510.1C982.9,2516.2 992.0,2525.1 998.7,2531.8C1005.4,2538.6 1010.0,2545.7 1015.0,2550.6C1020.1,2555.6 1022.1,2557.5 1029.2,2561.6C1036.4,2565.7 1049.1,2571.0 1057.8,2575.2C1066.5,2579.5 1075.9,2584.0 1081.5,2587.1C1087.0,2590.3 1085.5,2589.4 1091.1,2593.9C1096.6,2598.5 1108.2,2607.9 1114.7,2614.5C1121.3,2621.0 1125.3,2626.3 1130.3,2633.3C1135.2,2640.4 1139.9,2648.7 1144.4,2656.8C1148.8,2665.0 1152.7,2673.4 1156.9,2682.1C1161.0,2690.8 1165.2,2699.7 1169.3,2708.9C1173.4,2718.1 1179.4,2732.6 1181.4,2737.3 M814.7,2389.7C814.7,2390.0 814.6,2387.8 815.0,2391.7C815.3,2395.5 815.5,2405.3 817.0,2412.8C818.5,2420.2 820.5,2428.1 824.0,2436.3C827.5,2444.6 832.7,2456.4 838.2,2462.3C843.7,2468.1 849.9,2469.0 857.0,2471.5C864.1,2474.0 870.8,2475.0 880.7,2477.4C890.5,2479.7 904.3,2482.7 916.2,2485.7C928.0,2488.7 941.8,2491.2 951.6,2495.4C961.5,2499.7 967.4,2504.9 975.3,2511.1C983.2,2517.4 992.3,2526.4 998.9,2533.2C1005.6,2540.0 1010.1,2547.0 1015.2,2551.9C1020.3,2556.7 1022.2,2558.4 1029.4,2562.4C1036.5,2566.4 1049.3,2571.6 1058.0,2575.9C1066.8,2580.1 1076.1,2584.6 1081.7,2587.7C1087.2,2590.8 1085.8,2589.9 1091.3,2594.5C1096.9,2599.0 1108.4,2608.5 1115.0,2615.0C1121.5,2621.6 1125.5,2626.8 1130.4,2633.9C1135.3,2641.0 1140.0,2649.3 1144.4,2657.4C1148.9,2665.5 1152.7,2674.0 1156.9,2682.7C1161.0,2691.4 1165.2,2700.2 1169.2,2709.4C1173.2,2718.6 1179.1,2733.1 1181.1,2737.8 M814.7,2389.7C814.8,2390.0 814.6,2387.9 815.0,2391.8C815.4,2395.6 815.5,2405.5 817.1,2413.0C818.6,2420.4 820.6,2428.3 824.2,2436.6C827.7,2444.9 832.8,2456.8 838.3,2462.6C843.9,2468.5 850.2,2469.5 857.3,2472.0C864.4,2474.6 871.1,2475.5 880.9,2477.9C890.8,2480.2 904.6,2483.2 916.4,2486.2C928.2,2489.2 942.0,2491.7 951.9,2496.0C961.7,2500.4 967.6,2505.8 975.5,2512.2C983.4,2518.6 992.5,2527.7 999.2,2534.5C1005.8,2541.3 1010.3,2548.3 1015.3,2553.1C1020.4,2557.9 1022.3,2559.4 1029.5,2563.3C1036.7,2567.2 1049.5,2572.3 1058.3,2576.5C1067.0,2580.6 1076.4,2585.2 1081.9,2588.3C1087.5,2591.4 1086.0,2590.5 1091.5,2595.1C1097.1,2599.6 1108.7,2609.1 1115.2,2615.6C1121.7,2622.2 1125.6,2627.4 1130.5,2634.5C1135.4,2641.5 1140.1,2649.8 1144.5,2658.0C1148.9,2666.1 1152.8,2674.6 1156.9,2683.3C1161.0,2691.9 1165.1,2700.8 1169.1,2710.0C1173.1,2719.2 1178.9,2733.6 1180.9,2738.3 M814.7,2389.7C814.8,2390.0 814.7,2387.9 815.1,2391.8C815.5,2395.8 815.6,2405.6 817.2,2413.2C818.7,2420.7 820.7,2428.6 824.3,2436.9C827.9,2445.2 833.0,2457.1 838.5,2463.0C844.1,2469.0 850.4,2469.9 857.5,2472.5C864.6,2475.1 871.3,2476.0 881.2,2478.4C891.0,2480.7 904.8,2483.6 916.6,2486.7C928.4,2489.7 942.2,2492.2 952.1,2496.6C962.0,2501.0 967.9,2506.7 975.7,2513.3C983.6,2519.8 992.8,2529.0 999.4,2535.9C1006.0,2542.7 1010.4,2549.7 1015.5,2554.4C1020.5,2559.1 1022.5,2560.3 1029.6,2564.1C1036.8,2567.9 1049.8,2573.0 1058.5,2577.1C1067.3,2581.2 1076.6,2585.8 1082.2,2588.9C1087.7,2592.0 1086.2,2591.1 1091.8,2595.7C1097.3,2600.2 1109.0,2609.6 1115.4,2616.2C1121.9,2622.8 1125.7,2628.0 1130.6,2635.1C1135.5,2642.1 1140.2,2650.4 1144.6,2658.5C1149.0,2666.7 1152.8,2675.2 1156.9,2683.9C1161.0,2692.5 1165.1,2701.4 1169.0,2710.6C1173.0,2719.7 1178.7,2734.1 1180.6,2738.8 M814.7,2389.7C814.8,2390.0 814.7,2388.0 815.1,2391.9C815.5,2395.9 815.7,2405.8 817.3,2413.3C818.8,2420.9 820.9,2428.9 824.4,2437.2C828.0,2445.6 833.2,2457.5 838.7,2463.4C844.3,2469.4 850.6,2470.4 857.7,2473.0C864.9,2475.6 871.5,2476.5 881.4,2478.8C891.2,2481.2 905.0,2484.1 916.9,2487.2C928.7,2490.2 942.5,2492.6 952.3,2497.2C962.2,2501.7 968.1,2507.7 976.0,2514.4C983.9,2521.0 993.0,2530.3 999.6,2537.2C1006.2,2544.1 1010.6,2551.0 1015.6,2555.6C1020.6,2560.2 1022.6,2561.2 1029.8,2564.9C1037.0,2568.6 1050.0,2573.6 1058.8,2577.7C1067.5,2581.8 1076.9,2586.4 1082.4,2589.5C1087.9,2592.6 1086.5,2591.7 1092.0,2596.2C1097.6,2600.8 1109.2,2610.2 1115.7,2616.8C1122.1,2623.4 1125.9,2628.6 1130.7,2635.7C1135.6,2642.7 1140.3,2651.0 1144.7,2659.1C1149.0,2667.2 1152.9,2675.8 1156.9,2684.4C1161.0,2693.1 1165.1,2702.0 1169.0,2711.1C1172.9,2720.3 1178.4,2734.6 1180.3,2739.3 M814.7,2389.7C814.8,2390.1 814.7,2388.1 815.2,2392.0C815.6,2396.0 815.8,2406.0 817.3,2413.5C818.9,2421.1 821.0,2429.1 824.6,2437.5C828.2,2445.9 833.4,2457.8 838.9,2463.8C844.5,2469.8 850.9,2470.9 858.0,2473.5C865.1,2476.1 871.8,2477.0 881.6,2479.3C891.5,2481.7 905.3,2484.6 917.1,2487.7C928.9,2490.7 942.7,2493.1 952.6,2497.7C962.4,2502.4 968.3,2508.6 976.2,2515.4C984.1,2522.2 993.3,2531.7 999.9,2538.6C1006.5,2545.5 1010.7,2552.3 1015.7,2556.9C1020.7,2561.4 1022.7,2562.2 1029.9,2565.8C1037.1,2569.3 1050.2,2574.3 1059.0,2578.3C1067.8,2582.4 1077.1,2587.0 1082.6,2590.1C1088.2,2593.2 1086.7,2592.3 1092.3,2596.8C1097.8,2601.4 1109.5,2610.8 1115.9,2617.4C1122.3,2624.0 1126.0,2629.2 1130.8,2636.2C1135.7,2643.3 1140.4,2651.5 1144.8,2659.7C1149.1,2667.8 1152.9,2676.4 1157.0,2685.0C1161.0,2693.7 1165.0,2702.6 1168.9,2711.7C1172.7,2720.8 1178.2,2735.1 1180.1,2739.8 M814.7,2389.7C814.8,2390.1 814.7,2388.1 815.2,2392.1C815.7,2396.2 815.9,2406.1 817.4,2413.7C819.0,2421.3 821.1,2429.4 824.7,2437.8C828.3,2446.2 833.5,2458.2 839.1,2464.2C844.7,2470.2 851.1,2471.4 858.2,2474.0C865.3,2476.6 872.0,2477.5 881.9,2479.8C891.7,2482.2 905.5,2485.1 917.3,2488.1C929.2,2491.2 943.0,2493.6 952.8,2498.3C962.7,2503.0 968.6,2509.6 976.5,2516.5C984.3,2523.4 993.5,2533.0 1000.1,2539.9C1006.7,2546.9 1010.9,2553.7 1015.9,2558.1C1020.9,2562.6 1022.8,2563.1 1030.1,2566.6C1037.3,2570.1 1050.4,2574.9 1059.2,2578.9C1068.0,2583.0 1077.3,2587.6 1082.9,2590.7C1088.4,2593.7 1086.9,2592.9 1092.5,2597.4C1098.0,2602.0 1109.7,2611.4 1116.1,2618.0C1122.6,2624.5 1126.2,2629.8 1131.0,2636.8C1135.7,2643.9 1140.5,2652.1 1144.8,2660.2C1149.2,2668.4 1153.0,2676.9 1157.0,2685.6C1161.0,2694.3 1165.0,2703.2 1168.8,2712.3C1172.6,2721.4 1178.0,2735.6 1179.8,2740.3" fill="none" stroke="#111" stroke-width="1.3" stroke-linejoin="round" stroke-linecap="round" opacity="1.0"/>
<path d="M872.6,2559.5 L837.2,2559.5 M846.2,2554.0 L837.2,2559.5 L846.2,2565.0" fill="none" stroke="#111" stroke-width="1.6" stroke-linecap="round" stroke-linejoin="round"/>
<text x="874.5" y="2569.0" font-family="Liberation Sans, sans-serif" font-size="28" fill="#1a1a1a">1st</text>
</svg></body></html>
